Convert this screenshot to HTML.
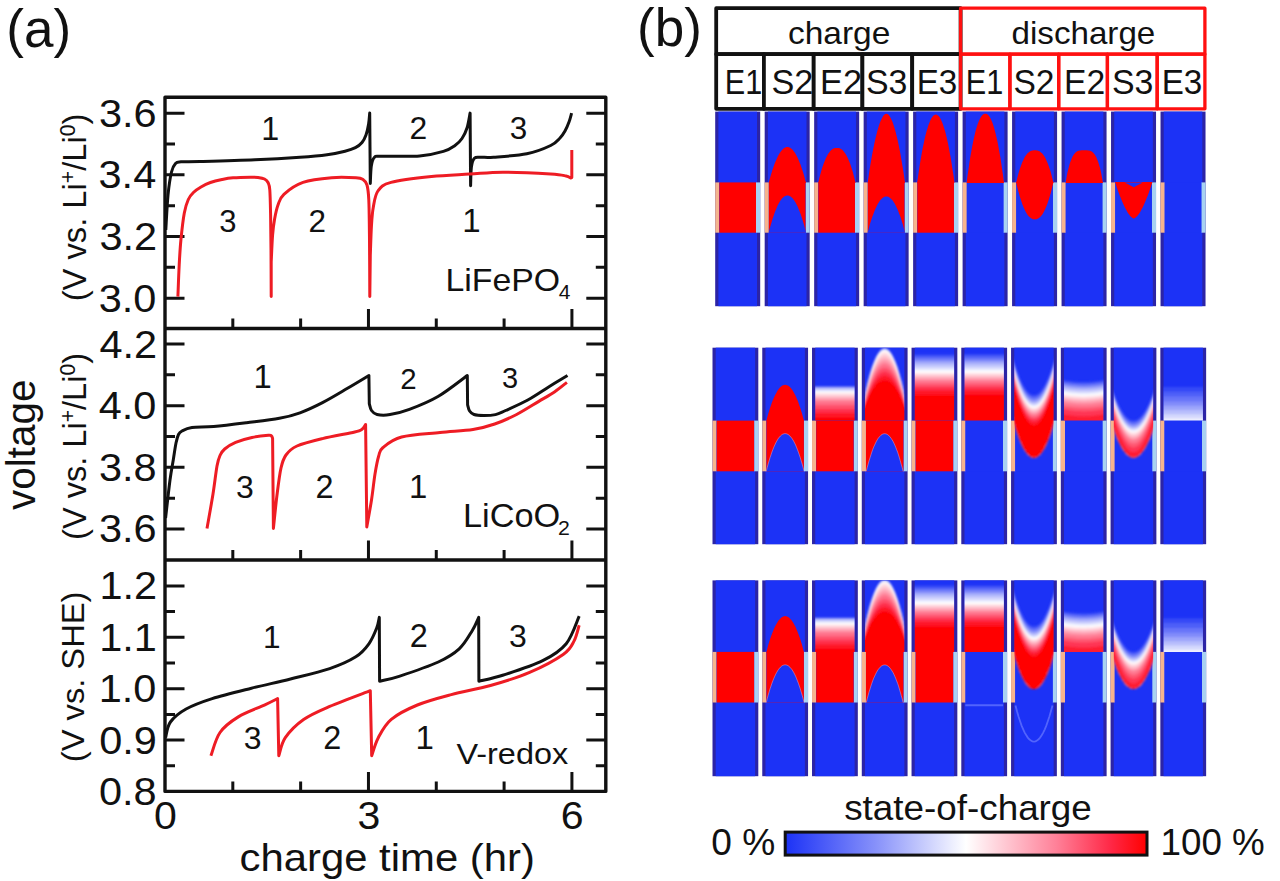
<!DOCTYPE html><html><head><meta charset="utf-8"><style>html,body{margin:0;padding:0;background:#fff;overflow:hidden}svg{display:block}text{font-family:"Liberation Sans",sans-serif}</style></head><body>
<svg width="1280" height="881" viewBox="0 0 1280 881">
<rect width="1280" height="881" fill="#fff"/>
<text transform="translate(6.31 47.15) scale(0.99 1)" font-size="53.58" fill="#111" >(a)</text>
<rect x="165" y="97.2" width="440.8" height="694.2" fill="none" stroke="#111" stroke-width="3.4" stroke-linejoin="round"/>
<line x1="165" y1="328.5" x2="605.8" y2="328.5" stroke="#111" stroke-width="3.4"/>
<line x1="165" y1="560" x2="605.8" y2="560" stroke="#111" stroke-width="3.4"/>
<path d="M165 113.2L184.5 113.2M605.8 113.2L586.3 113.2M165 174.86L184.5 174.86M605.8 174.86L586.3 174.86M165 236.52L184.5 236.52M605.8 236.52L586.3 236.52M165 298.18L184.5 298.18M605.8 298.18L586.3 298.18M165 144.03L175 144.03M605.8 144.03L595.8 144.03M165 205.69L175 205.69M605.8 205.69L595.8 205.69M165 267.35L175 267.35M605.8 267.35L595.8 267.35M165 344L184.5 344M605.8 344L586.3 344M165 405.66L184.5 405.66M605.8 405.66L586.3 405.66M165 467.32L184.5 467.32M605.8 467.32L586.3 467.32M165 528.98L184.5 528.98M605.8 528.98L586.3 528.98M165 374.83L175 374.83M605.8 374.83L595.8 374.83M165 436.49L175 436.49M605.8 436.49L595.8 436.49M165 498.15L175 498.15M605.8 498.15L595.8 498.15M165 585.9L184.5 585.9M605.8 585.9L586.3 585.9M165 637.3L184.5 637.3M605.8 637.3L586.3 637.3M165 688.7L184.5 688.7M605.8 688.7L586.3 688.7M165 740.1L184.5 740.1M605.8 740.1L586.3 740.1M165 611.6L175 611.6M605.8 611.6L595.8 611.6M165 663L175 663M605.8 663L595.8 663M165 714.4L175 714.4M605.8 714.4L595.8 714.4M165 765.8L175 765.8M605.8 765.8L595.8 765.8M368.46 328.5L368.46 309M571.92 328.5L571.92 309M232.82 328.5L232.82 318.5M300.64 328.5L300.64 318.5M436.28 328.5L436.28 318.5M504.1 328.5L504.1 318.5M368.46 560L368.46 540.5M571.92 560L571.92 540.5M232.82 560L232.82 550M300.64 560L300.64 550M436.28 560L436.28 550M504.1 560L504.1 550M368.46 791.4L368.46 771.9M571.92 791.4L571.92 771.9M232.82 791.4L232.82 781.4M300.64 791.4L300.64 781.4M436.28 791.4L436.28 781.4M504.1 791.4L504.1 781.4" stroke="#111" stroke-width="3" fill="none"/>
<text transform="translate(98.97 126.71) scale(1.06 1)" font-size="39.15" fill="#111">3.6</text>
<text transform="translate(98.55 188.37) scale(1.06 1)" font-size="39.15" fill="#111">3.4</text>
<text transform="translate(99.38 250.03) scale(1.06 1)" font-size="39.15" fill="#111">3.2</text>
<text transform="translate(98.76 311.69) scale(1.06 1)" font-size="39.15" fill="#111">3.0</text>
<text transform="translate(99.38 357.51) scale(1.06 1)" font-size="39.15" fill="#111">4.2</text>
<text transform="translate(98.76 419.17) scale(1.06 1)" font-size="39.15" fill="#111">4.0</text>
<text transform="translate(98.97 480.83) scale(1.06 1)" font-size="39.15" fill="#111">3.8</text>
<text transform="translate(98.97 542.49) scale(1.06 1)" font-size="39.15" fill="#111">3.6</text>
<text transform="translate(99.38 599.41) scale(1.06 1)" font-size="39.15" fill="#111">1.2</text>
<text transform="translate(99.18 650.81) scale(1.06 1)" font-size="39.15" fill="#111">1.1</text>
<text transform="translate(98.76 702.21) scale(1.06 1)" font-size="39.15" fill="#111">1.0</text>
<text transform="translate(99.18 753.61) scale(1.06 1)" font-size="39.15" fill="#111">0.9</text>
<text transform="translate(98.97 805.01) scale(1.06 1)" font-size="39.15" fill="#111">0.8</text>
<text transform="translate(153.96 829.3) scale(1.08 1)" font-size="38" fill="#111">0</text>
<text transform="translate(357.52 829.3) scale(1.08 1)" font-size="38" fill="#111">3</text>
<text transform="translate(560.77 829.3) scale(1.08 1)" font-size="38" fill="#111">6</text>
<text transform="translate(239.53 870.94) scale(1.09 1)" font-size="38.4" fill="#111" >charge time (hr)</text>
<text transform="translate(35.02 509.9) rotate(-90) scale(0.99 1)" font-size="40.86" fill="#111">voltage</text>
<text transform="translate(85.6 301.3) rotate(-90)" font-size="34" fill="#111" textLength="187.7" lengthAdjust="spacingAndGlyphs">(V vs. Li<tspan font-size="22" dy="-11">+</tspan><tspan dy="11">/Li</tspan><tspan font-size="22" dy="-11">0</tspan><tspan dy="11">)</tspan></text>
<text transform="translate(85.6 539.9) rotate(-90)" font-size="34" fill="#111" textLength="186.9" lengthAdjust="spacingAndGlyphs">(V vs. Li<tspan font-size="22" dy="-11">+</tspan><tspan dy="11">/Li</tspan><tspan font-size="22" dy="-11">0</tspan><tspan dy="11">)</tspan></text>
<text transform="translate(84.46 762.17) rotate(-90) scale(1.05 1)" font-size="31.12" fill="#111">(V vs. SHE)</text>
<text transform="translate(261.35 140.4) scale(1 1)" font-size="32.32" fill="#111">1</text>
<text transform="translate(409.56 139.4) scale(1 1)" font-size="31.86" fill="#111">2</text>
<text transform="translate(509.78 139.09) scale(1 1)" font-size="31.41" fill="#111">3</text>
<text transform="translate(219.3 231.59) scale(1 1)" font-size="30.99" fill="#111">3</text>
<text transform="translate(308.58 231.9) scale(1 1)" font-size="31.43" fill="#111">2</text>
<text transform="translate(462.33 231.9) scale(1 1)" font-size="33.04" fill="#111">1</text>
<text transform="translate(253.52 388.3) scale(1 1)" font-size="32.75" fill="#111">1</text>
<text transform="translate(400.13 388.7) scale(1 1)" font-size="29.43" fill="#111">2</text>
<text transform="translate(501.95 388.41) scale(1 1)" font-size="29.01" fill="#111">3</text>
<text transform="translate(236.03 497.68) scale(1 1)" font-size="31.97" fill="#111">3</text>
<text transform="translate(315.5 498) scale(1 1)" font-size="32.43" fill="#111">2</text>
<text transform="translate(409.08 498) scale(1 1)" font-size="32.9" fill="#111">1</text>
<text transform="translate(263.06 647.5) scale(1 1)" font-size="31.59" fill="#111">1</text>
<text transform="translate(409.7 647) scale(1 1)" font-size="32.43" fill="#111">2</text>
<text transform="translate(509.03 646.68) scale(1 1)" font-size="31.97" fill="#111">3</text>
<text transform="translate(243.83 748.58) scale(1 1)" font-size="31.97" fill="#111">3</text>
<text transform="translate(323.3 748.9) scale(1 1)" font-size="32.43" fill="#111">2</text>
<text transform="translate(415.53 748.9) scale(1 1)" font-size="33.04" fill="#111">1</text>
<text transform="translate(445.49 290.7) scale(1.08 1)" font-size="31.31" fill="#111">LiFePO</text>
<text transform="translate(558.69 299) scale(1.08 1)" font-size="19.41" fill="#111">4</text>
<text transform="translate(462.96 527) scale(1.06 1)" font-size="32.41" fill="#111">LiCoO</text>
<text transform="translate(558.08 534.9) scale(1.06 1)" font-size="20.1" fill="#111">2</text>
<text transform="translate(456.44 763.5) scale(1.13 1)" font-size="28.69" fill="#111">V-redox</text>
<path d="M165.8 230C166.17 224.17 167.05 204.67 168 195C168.95 185.33 170.25 177.25 171.5 172C172.75 166.75 173.92 165.2 175.5 163.5C177.08 161.8 176.92 162.13 181 161.8C185.08 161.47 187.67 161.83 200 161.5C212.33 161.17 238.33 160.5 255 159.8C271.67 159.1 288 158.13 300 157.3C312 156.47 319.5 155.82 327 154.8C334.5 153.78 340.27 152.38 345 151.2C349.73 150.02 352.57 149.15 355.4 147.7C358.23 146.25 360.23 144.62 362 142.5C363.77 140.38 364.9 138.08 366 135C367.1 131.92 367.98 127.65 368.6 124C369.22 120.35 369.52 114.92 369.7 113.1L370.3 183.4C370.47 180.5 370.63 170.32 371.3 166C371.97 161.68 372.68 159.13 374.3 157.5C375.92 155.87 373.45 156.45 381 156.2C388.55 155.95 409.2 156.8 419.6 156C430 155.2 437.5 153.15 443.4 151.4C449.3 149.65 451.9 147.65 455 145.5C458.1 143.35 460 141.42 462 138.5C464 135.58 465.65 132.23 467 128C468.35 123.77 469.58 115.58 470.1 113.1L470.6 185.8C470.73 182.67 470.77 171.6 471.4 167C472.03 162.4 472.8 159.82 474.4 158.2C476 156.58 477.82 157.47 481 157.3C484.18 157.13 485.87 157.78 493.5 157.2C501.13 156.62 517.27 155.75 526.8 153.8C536.33 151.85 545.17 148.13 550.7 145.5C556.23 142.87 557.62 140.42 560 138C562.38 135.58 563.5 133.67 565 131C566.5 128.33 567.9 124.98 569 122C570.1 119.02 571.17 114.58 571.6 113.1" stroke="#111" stroke-width="3" fill="none" stroke-linejoin="round" stroke-linecap="butt"/>
<path d="M177.9 296.6C178.12 291.33 178.7 274.43 179.2 265C179.7 255.57 180.05 248.67 180.9 240C181.75 231.33 183.07 219.75 184.3 213C185.53 206.25 186.78 202.92 188.3 199.5C189.82 196.08 191.28 194.58 193.4 192.5C195.52 190.42 198.17 188.67 201 187C203.83 185.33 206.9 183.75 210.4 182.5C213.9 181.25 218.22 180.28 222 179.5C225.78 178.72 228.33 178.18 233.1 177.8C237.87 177.42 246.45 177.25 250.6 177.2C254.75 177.15 255.68 177.2 258 177.5C260.32 177.8 262.83 178.17 264.5 179C266.17 179.83 267.12 180.67 268 182.5C268.88 184.33 269.37 184.58 269.8 190C270.23 195.42 270.4 205 270.6 215C270.8 225 270.9 236.4 271 250C271.1 263.6 271.17 288.83 271.2 296.6L271.2 262C271.43 257.5 272.03 242.17 272.6 235C273.17 227.83 273.7 224 274.6 219C275.5 214 276.45 209.12 278 205C279.55 200.88 279.73 198.07 283.9 194.3C288.07 190.53 295.05 185.17 303 182.4C310.95 179.63 322.77 178.47 331.6 177.7C340.43 176.93 350.77 177.5 356 177.8C361.23 178.1 361.17 178.3 363 179.5C364.83 180.7 366.03 181.58 367 185C367.97 188.42 368.38 190.83 368.8 200C369.22 209.17 369.33 223.9 369.5 240C369.67 256.1 369.75 287.17 369.8 296.6L370.3 255C370.5 250 371 232.97 371.5 225C372 217.03 372.23 212.87 373.3 207.2C374.37 201.53 374.95 195.13 377.9 191C380.85 186.87 382.07 184.82 391 182.4C399.93 179.98 418.4 177.88 431.5 176.5C444.6 175.12 457.68 174.82 469.6 174.1C481.52 173.38 489.48 172.22 503 172.2C516.52 172.18 540.2 173.37 550.7 174C561.2 174.63 562.7 175.33 566 176C569.3 176.67 569.75 177.67 570.5 178L571.8 177.5L571.8 150" stroke="#ee1c24" stroke-width="3" fill="none" stroke-linejoin="round" stroke-linecap="butt"/>
<path d="M165.6 518C166.33 511.67 168.72 489.72 170 480C171.28 470.28 172.3 465.87 173.3 459.7C174.3 453.53 175.13 447.2 176 443C176.87 438.8 177.5 436.5 178.5 434.5C179.5 432.5 179.77 432.15 182 431C184.23 429.85 186.62 428.35 191.9 427.6C197.18 426.85 204.58 427.32 213.7 426.5C222.82 425.68 235.65 424.07 246.6 422.7C257.55 421.33 270.5 419.95 279.4 418.3C288.3 416.65 292.82 415.42 300 412.8C307.18 410.18 314.58 406.68 322.5 402.6C330.42 398.52 339.77 392.82 347.5 388.3C355.23 383.78 365.33 377.63 368.9 375.5L369.3 403.7C369.67 404.83 370.22 408.7 371.5 410.5C372.78 412.3 373.92 413.82 377 414.5C380.08 415.18 384.6 415.45 390 414.6C395.4 413.75 401.4 412.42 409.4 409.4C417.4 406.38 428.35 402.15 438 396.5C447.65 390.85 462.42 379 467.3 375.5L467.6 404.8C467.93 405.83 468.53 409.38 469.6 411C470.67 412.62 471.65 413.73 474 414.5C476.35 415.27 480.12 415.58 483.7 415.6C487.28 415.62 491.85 415.45 495.5 414.6C499.15 413.75 500.22 412.93 505.6 410.5C510.98 408.07 520.5 404 527.8 400C535.1 396 542.78 390.58 549.4 386.5C556.02 382.42 564.48 377.33 567.5 375.5" stroke="#111" stroke-width="3" fill="none" stroke-linejoin="round" stroke-linecap="butt"/>
<path d="M207 528.4C208 522.67 211.33 504.4 213 494C214.67 483.6 215.83 472.42 217 466C218.17 459.58 218.72 458.33 220 455.5C221.28 452.67 222.1 451.18 224.7 449C227.3 446.82 231.05 444.32 235.6 442.4C240.15 440.48 246.53 438.68 252 437.5C257.47 436.32 265.15 435.55 268.4 435.3C271.65 435.05 270.8 435.47 271.5 436C272.2 436.53 272.42 438.08 272.6 438.5L273.4 528.4C274 522.83 275.73 505.07 277 495C278.27 484.93 279.5 474.67 281 468C282.5 461.33 283.33 458.67 286 455C288.67 451.33 290.92 448.73 297 446C303.08 443.27 312.88 440.93 322.5 438.6C332.12 436.27 348.12 433.55 354.7 432C361.28 430.45 360.18 430.55 362 429.3C363.82 428.05 365 425.3 365.6 424.5L366.8 527C367.58 522.5 370.13 508.83 371.5 500C372.87 491.17 373.8 481.33 375 474C376.2 466.67 377.37 460.42 378.7 456C380.03 451.58 379.18 450.67 383 447.5C386.82 444.33 392.1 439.5 401.6 437C411.1 434.5 428.1 433.75 440 432.5C451.9 431.25 463.88 430.92 473 429.5C482.12 428.08 487.43 426.5 494.7 424C501.97 421.5 509.32 418.23 516.6 414.5C523.88 410.77 532.03 405.4 538.4 401.6C544.77 397.8 550.05 394.9 554.8 391.7C559.55 388.5 564.88 383.95 566.9 382.4" stroke="#ee1c24" stroke-width="3" fill="none" stroke-linejoin="round" stroke-linecap="butt"/>
<path d="M165.6 737.5C166.4 734.92 166.98 726.75 170.4 722C173.82 717.25 179.13 712.9 186.1 709C193.07 705.1 201.32 702.07 212.2 698.6C223.08 695.13 238.35 691.47 251.4 688.2C264.45 684.93 277.45 682.27 290.5 679C303.55 675.73 318.82 672.3 329.7 668.6C340.58 664.9 349.27 660.93 355.8 656.8C362.33 652.67 365.42 648.6 368.9 643.8C372.38 639 374.97 632.4 376.7 628C378.43 623.6 378.87 619.17 379.3 617.4L379.6 681.3C382.85 680.47 389.32 679.52 399.1 676.3C408.88 673.08 428.28 666.57 438.3 662C448.32 657.43 453.55 654.12 459.2 648.9C464.85 643.68 468.95 635.95 472.2 630.7C475.45 625.45 477.62 619.62 478.7 617.4L478.9 681.3C483 680.25 492.87 678.43 503.5 675C514.13 671.57 532.25 665.92 542.7 660.7C553.15 655.48 560.12 651.13 566.2 643.7C572.28 636.27 577.03 620.7 579.2 616.1" stroke="#111" stroke-width="3" fill="none" stroke-linejoin="round" stroke-linecap="butt"/>
<path d="M210.9 755.8C212.42 751.92 215.43 738.98 220 732.5C224.57 726.02 230.9 721.47 238.3 716.9C245.7 712.33 257.85 708.15 264.4 705.1C270.95 702.05 275.4 699.68 277.6 698.6L278.8 755.8C279.88 752.78 281.17 743.75 285.3 737.7C289.43 731.65 296.2 724.72 303.6 719.5C311 714.28 318.58 711.2 329.7 706.4C340.82 701.6 363.53 693.32 370.3 690.7L371.7 755.7C372.8 752.7 375.03 743.75 378.3 737.7C381.57 731.65 384.78 724.85 391.3 719.4C397.82 713.95 407.4 709.13 417.4 705C427.4 700.87 439.12 697.85 451.3 694.6C463.48 691.35 477.45 689.2 490.5 685.5C503.55 681.8 517.43 677.62 529.6 672.4C541.77 667.18 556.1 659.42 563.5 654.2C570.9 648.98 571.38 645.93 574 641.1C576.62 636.27 578.33 627.85 579.2 625.2" stroke="#ee1c24" stroke-width="3" fill="none" stroke-linejoin="round" stroke-linecap="butt"/>
<text transform="translate(637.11 45.95) scale(0.99 1)" font-size="53.58" fill="#111" >(b)</text>
<rect x="715.2" y="111.6" width="45" height="194.6" fill="#2c24a6"/>
<rect x="718.4" y="111.6" width="38.6" height="194.6" fill="#1c32f6"/>
<rect x="715.2" y="182.4" width="4.2" height="50.3" fill="#f5b48e"/>
<rect x="756" y="182.4" width="4.2" height="50.3" fill="#a8d2f2"/>
<rect x="719.4" y="182.4" width="36.6" height="50.3" fill="#1c32f6"/>
<rect x="719.4" y="182.4" width="36.6" height="50.3" fill="#ff0000"/>
<rect x="764.68" y="111.6" width="45" height="194.6" fill="#2c24a6"/>
<rect x="767.88" y="111.6" width="38.6" height="194.6" fill="#1c32f6"/>
<rect x="764.68" y="182.4" width="4.2" height="50.3" fill="#f5b48e"/>
<rect x="805.48" y="182.4" width="4.2" height="50.3" fill="#a8d2f2"/>
<rect x="768.88" y="182.4" width="36.6" height="50.3" fill="#1c32f6"/>
<path d="M768.7 182.9L769.6 179.4L770.6 176.1L771.5 172.9L772.4 170.0L773.4 167.2L774.3 164.6L775.2 162.2L776.2 159.9L777.1 157.9L778.0 156.0L779.0 154.3L779.9 152.7L780.8 151.4L781.8 150.2L782.7 149.2L783.6 148.4L784.6 147.8L785.5 147.4L786.4 147.1L787.4 147.0L788.3 147.1L789.3 147.4L790.2 147.8L791.1 148.4L792.1 149.2L793.0 150.2L793.9 151.4L794.9 152.7L795.8 154.3L796.7 156.0L797.7 157.9L798.6 159.9L799.5 162.2L800.5 164.6L801.4 167.2L802.3 170.0L803.3 172.9L804.2 176.1L805.1 179.4L806.1 182.9Z" fill="#ff0000"/>
<rect x="768.88" y="182.4" width="36.6" height="50.3" fill="#ff0000"/>
<path d="M768.7 232.7L769.6 229.1L770.6 225.6L771.5 222.4L772.4 219.3L773.4 216.4L774.3 213.7L775.2 211.2L776.2 208.9L777.1 206.8L778.0 204.8L779.0 203.0L779.9 201.5L780.8 200.1L781.8 198.8L782.7 197.8L783.6 197.0L784.6 196.3L785.5 195.9L786.4 195.6L787.4 195.5L788.3 195.6L789.3 195.9L790.2 196.3L791.1 197.0L792.1 197.8L793.0 198.8L793.9 200.1L794.9 201.5L795.8 203.0L796.7 204.8L797.7 206.8L798.6 208.9L799.5 211.2L800.5 213.7L801.4 216.4L802.3 219.3L803.3 222.4L804.2 225.6L805.1 229.1L806.1 232.7Z" fill="#1c32f6"/>
<rect x="814.16" y="111.6" width="45" height="194.6" fill="#2c24a6"/>
<rect x="817.36" y="111.6" width="38.6" height="194.6" fill="#1c32f6"/>
<rect x="814.16" y="182.4" width="4.2" height="50.3" fill="#f5b48e"/>
<rect x="854.96" y="182.4" width="4.2" height="50.3" fill="#a8d2f2"/>
<rect x="818.36" y="182.4" width="36.6" height="50.3" fill="#1c32f6"/>
<path d="M818.2 182.9L819.1 179.0L820.0 175.4L821.0 172.0L821.9 168.8L822.8 166.0L823.8 163.3L824.7 160.9L825.6 158.7L826.6 156.7L827.5 155.0L828.4 153.5L829.4 152.2L830.3 151.0L831.3 150.1L832.2 149.3L833.1 148.8L834.1 148.3L835.0 148.1L835.9 147.9L836.9 147.9L837.8 147.9L838.7 148.1L839.7 148.3L840.6 148.8L841.5 149.3L842.5 150.1L843.4 151.0L844.3 152.2L845.3 153.5L846.2 155.0L847.1 156.7L848.1 158.7L849.0 160.9L850.0 163.3L850.9 166.0L851.8 168.8L852.8 172.0L853.7 175.4L854.6 179.0L855.6 182.9Z" fill="#ff0000"/>
<rect x="818.36" y="182.4" width="36.6" height="50.3" fill="#ff0000"/>
<rect x="863.64" y="111.6" width="45" height="194.6" fill="#2c24a6"/>
<rect x="866.84" y="111.6" width="38.6" height="194.6" fill="#1c32f6"/>
<rect x="863.64" y="182.4" width="4.2" height="50.3" fill="#f5b48e"/>
<rect x="904.44" y="182.4" width="4.2" height="50.3" fill="#a8d2f2"/>
<rect x="867.84" y="182.4" width="36.6" height="50.3" fill="#1c32f6"/>
<path d="M867.6 182.9L868.6 176.5L869.5 170.3L870.4 164.5L871.4 159.0L872.3 153.8L873.3 148.8L874.2 144.2L875.1 139.9L876.1 135.9L877.0 132.2L877.9 128.9L878.9 125.8L879.8 123.1L880.7 120.7L881.7 118.7L882.6 117.0L883.5 115.6L884.5 114.6L885.4 113.9L886.3 113.7L887.3 113.9L888.2 114.6L889.1 115.6L890.1 117.0L891.0 118.7L892.0 120.7L892.9 123.1L893.8 125.8L894.8 128.9L895.7 132.2L896.6 135.9L897.6 139.9L898.5 144.2L899.4 148.8L900.4 153.8L901.3 159.0L902.2 164.5L903.2 170.3L904.1 176.5L905.0 182.9Z" fill="#ff0000"/>
<rect x="867.84" y="182.4" width="36.6" height="50.3" fill="#ff0000"/>
<path d="M867.6 232.7L868.6 229.2L869.5 225.8L870.4 222.6L871.4 219.6L872.3 216.8L873.3 214.2L874.2 211.7L875.1 209.5L876.1 207.4L877.0 205.5L877.9 203.8L878.9 202.2L879.8 200.8L880.7 199.7L881.7 198.7L882.6 197.9L883.5 197.2L884.5 196.8L885.4 196.5L886.3 196.4L887.3 196.5L888.2 196.8L889.1 197.2L890.1 197.9L891.0 198.7L892.0 199.7L892.9 200.8L893.8 202.2L894.8 203.8L895.7 205.5L896.6 207.4L897.6 209.5L898.5 211.7L899.4 214.2L900.4 216.8L901.3 219.6L902.2 222.6L903.2 225.8L904.1 229.2L905.0 232.7Z" fill="#1c32f6"/>
<rect x="913.12" y="111.6" width="45" height="194.6" fill="#2c24a6"/>
<rect x="916.32" y="111.6" width="38.6" height="194.6" fill="#1c32f6"/>
<rect x="913.12" y="182.4" width="4.2" height="50.3" fill="#f5b48e"/>
<rect x="953.92" y="182.4" width="4.2" height="50.3" fill="#a8d2f2"/>
<rect x="917.32" y="182.4" width="36.6" height="50.3" fill="#1c32f6"/>
<path d="M917.1 182.9L918.1 176.2L919.0 169.9L919.9 163.9L920.9 158.3L921.8 153.0L922.7 148.0L923.7 143.4L924.6 139.1L925.5 135.2L926.5 131.6L927.4 128.4L928.3 125.4L929.3 122.9L930.2 120.7L931.1 118.8L932.1 117.2L933.0 116.0L933.9 115.2L934.9 114.7L935.8 114.5L936.8 114.7L937.7 115.2L938.6 116.0L939.6 117.2L940.5 118.8L941.4 120.7L942.4 122.9L943.3 125.4L944.2 128.4L945.2 131.6L946.1 135.2L947.0 139.1L948.0 143.4L948.9 148.0L949.8 153.0L950.8 158.3L951.7 163.9L952.6 169.9L953.6 176.2L954.5 182.9Z" fill="#ff0000"/>
<rect x="917.32" y="182.4" width="36.6" height="50.3" fill="#ff0000"/>
<rect x="962.6" y="111.6" width="45" height="194.6" fill="#2c24a6"/>
<rect x="965.8" y="111.6" width="38.6" height="194.6" fill="#1c32f6"/>
<rect x="962.6" y="182.4" width="4.2" height="50.3" fill="#f5b48e"/>
<rect x="1003.4" y="182.4" width="4.2" height="50.3" fill="#a8d2f2"/>
<rect x="966.8" y="182.4" width="36.6" height="50.3" fill="#1c32f6"/>
<path d="M966.6 182.9L967.5 175.8L968.5 169.2L969.4 162.9L970.3 157.0L971.3 151.5L972.2 146.4L973.1 141.7L974.1 137.4L975.0 133.4L975.9 129.8L976.9 126.6L977.8 123.8L978.8 121.3L979.7 119.2L980.6 117.5L981.6 116.1L982.5 115.0L983.4 114.2L984.4 113.8L985.3 113.7L986.2 113.8L987.2 114.2L988.1 115.0L989.0 116.1L990.0 117.5L990.9 119.2L991.8 121.3L992.8 123.8L993.7 126.6L994.6 129.8L995.6 133.4L996.5 137.4L997.5 141.7L998.4 146.4L999.3 151.5L1000.3 157.0L1001.2 162.9L1002.1 169.2L1003.1 175.8L1004.0 182.9Z" fill="#ff0000"/>
<rect x="1012.08" y="111.6" width="45" height="194.6" fill="#2c24a6"/>
<rect x="1015.28" y="111.6" width="38.6" height="194.6" fill="#1c32f6"/>
<rect x="1012.08" y="182.4" width="4.2" height="50.3" fill="#f5b48e"/>
<rect x="1052.88" y="182.4" width="4.2" height="50.3" fill="#a8d2f2"/>
<rect x="1016.28" y="182.4" width="36.6" height="50.3" fill="#1c32f6"/>
<path d="M1016.1 182.9L1017.0 179.0L1017.9 175.4L1018.9 172.0L1019.8 169.0L1020.8 166.2L1021.7 163.7L1022.6 161.4L1023.6 159.4L1024.5 157.6L1025.4 156.1L1026.4 154.7L1027.3 153.6L1028.2 152.7L1029.2 151.9L1030.1 151.3L1031.0 150.9L1032.0 150.6L1032.9 150.4L1033.8 150.3L1034.8 150.3L1035.7 150.3L1036.6 150.4L1037.6 150.6L1038.5 150.9L1039.5 151.3L1040.4 151.9L1041.3 152.7L1042.3 153.6L1043.2 154.7L1044.1 156.1L1045.1 157.6L1046.0 159.4L1046.9 161.4L1047.9 163.7L1048.8 166.2L1049.7 169.0L1050.7 172.0L1051.6 175.4L1052.5 179.0L1053.5 182.9Z" fill="#ff0000"/>
<path d="M1016.1 181.9L1017.0 185.9L1017.9 189.7L1018.9 193.2L1019.8 196.4L1020.8 199.5L1021.7 202.3L1022.6 204.9L1023.6 207.2L1024.5 209.3L1025.4 211.2L1026.4 212.9L1027.3 214.4L1028.2 215.7L1029.2 216.7L1030.1 217.6L1031.0 218.3L1032.0 218.8L1032.9 219.2L1033.8 219.3L1034.8 219.4L1035.7 219.3L1036.6 219.2L1037.6 218.8L1038.5 218.3L1039.5 217.6L1040.4 216.7L1041.3 215.7L1042.3 214.4L1043.2 212.9L1044.1 211.2L1045.1 209.3L1046.0 207.2L1046.9 204.9L1047.9 202.3L1048.8 199.5L1049.7 196.4L1050.7 193.2L1051.6 189.7L1052.5 185.9L1053.5 181.9Z" fill="#ff0000"/>
<rect x="1061.56" y="111.6" width="45" height="194.6" fill="#2c24a6"/>
<rect x="1064.76" y="111.6" width="38.6" height="194.6" fill="#1c32f6"/>
<rect x="1061.56" y="182.4" width="4.2" height="50.3" fill="#f5b48e"/>
<rect x="1102.36" y="182.4" width="4.2" height="50.3" fill="#a8d2f2"/>
<rect x="1065.76" y="182.4" width="36.6" height="50.3" fill="#1c32f6"/>
<path d="M1065.6 182.9L1066.5 177.5L1067.4 172.8L1068.4 168.8L1069.3 165.2L1070.2 162.2L1071.2 159.7L1072.1 157.5L1073.0 155.8L1074.0 154.3L1074.9 153.2L1075.8 152.3L1076.8 151.6L1077.7 151.1L1078.6 150.8L1079.6 150.6L1080.5 150.4L1081.5 150.3L1082.4 150.3L1083.3 150.3L1084.3 150.3L1085.2 150.3L1086.1 150.3L1087.1 150.3L1088.0 150.4L1088.9 150.6L1089.9 150.8L1090.8 151.1L1091.7 151.6L1092.7 152.3L1093.6 153.2L1094.5 154.3L1095.5 155.8L1096.4 157.5L1097.3 159.7L1098.3 162.2L1099.2 165.2L1100.2 168.8L1101.1 172.8L1102.0 177.5L1103.0 182.9Z" fill="#ff0000"/>
<rect x="1111.04" y="111.6" width="45" height="194.6" fill="#2c24a6"/>
<rect x="1114.24" y="111.6" width="38.6" height="194.6" fill="#1c32f6"/>
<rect x="1111.04" y="182.4" width="4.2" height="50.3" fill="#f5b48e"/>
<rect x="1151.84" y="182.4" width="4.2" height="50.3" fill="#a8d2f2"/>
<rect x="1115.24" y="182.4" width="36.6" height="50.3" fill="#1c32f6"/>
<path d="M1115.0 181.9L1116.0 184.8L1116.9 187.6L1117.8 190.3L1118.8 192.9L1119.7 195.4L1120.7 197.8L1121.6 200.1L1122.5 202.3L1123.5 204.4L1124.4 206.4L1125.3 208.3L1126.3 210.1L1127.2 211.7L1128.1 213.2L1129.1 214.5L1130.0 215.7L1130.9 216.7L1131.9 217.6L1132.8 218.2L1133.7 218.5L1134.7 218.2L1135.6 217.6L1136.5 216.7L1137.5 215.7L1138.4 214.5L1139.4 213.2L1140.3 211.7L1141.2 210.1L1142.2 208.3L1143.1 206.4L1144.0 204.4L1145.0 202.3L1145.9 200.1L1146.8 197.8L1147.8 195.4L1148.7 192.9L1149.6 190.3L1150.6 187.6L1151.5 184.8L1152.4 181.9Z" fill="#ff0000"/>
<path d="M1124.7 182.4L1133.7 187.2L1142.7 182.4Z" fill="#1c32f6"/>
<rect x="1160.52" y="111.6" width="45" height="194.6" fill="#2c24a6"/>
<rect x="1163.72" y="111.6" width="38.6" height="194.6" fill="#1c32f6"/>
<rect x="1160.52" y="182.4" width="4.2" height="50.3" fill="#f5b48e"/>
<rect x="1201.32" y="182.4" width="4.2" height="50.3" fill="#a8d2f2"/>
<rect x="1164.72" y="182.4" width="36.6" height="50.3" fill="#1c32f6"/>
<rect x="712.5" y="347.7" width="45.8" height="196.5" fill="#2c24a6"/>
<rect x="715.7" y="347.7" width="39.4" height="196.5" fill="#1c32f6"/>
<rect x="712.5" y="420.6" width="4.2" height="50.7" fill="#f5b48e"/>
<rect x="754.1" y="420.6" width="4.2" height="50.7" fill="#a8d2f2"/>
<rect x="716.7" y="420.6" width="37.4" height="50.7" fill="#1c32f6"/>
<rect x="716.7" y="420.6" width="37.4" height="50.7" fill="#ff0000"/>
<rect x="762.26" y="347.7" width="45.8" height="196.5" fill="#2c24a6"/>
<rect x="765.46" y="347.7" width="39.4" height="196.5" fill="#1c32f6"/>
<rect x="762.26" y="420.6" width="4.2" height="50.7" fill="#f5b48e"/>
<rect x="803.86" y="420.6" width="4.2" height="50.7" fill="#a8d2f2"/>
<rect x="766.46" y="420.6" width="37.4" height="50.7" fill="#1c32f6"/>
<path d="M766.3 421.1L767.2 417.6L768.1 414.2L769.1 411.0L770.0 408.0L771.0 405.2L771.9 402.6L772.9 400.1L773.8 397.9L774.8 395.8L775.7 393.9L776.7 392.2L777.6 390.6L778.5 389.2L779.5 388.1L780.4 387.1L781.4 386.3L782.3 385.6L783.3 385.2L784.2 384.9L785.2 384.8L786.1 384.9L787.0 385.2L788.0 385.6L788.9 386.3L789.9 387.1L790.8 388.1L791.8 389.2L792.7 390.6L793.7 392.2L794.6 393.9L795.6 395.8L796.5 397.9L797.4 400.1L798.4 402.6L799.3 405.2L800.3 408.0L801.2 411.0L802.2 414.2L803.1 417.6L804.1 421.1Z" fill="#ff0000"/>
<rect x="766.46" y="420.6" width="37.4" height="50.7" fill="#ff0000"/>
<path d="M766.3 471.3L767.2 467.6L768.1 464.1L769.1 460.8L770.0 457.7L771.0 454.8L771.9 452.1L772.9 449.5L773.8 447.2L774.8 445.0L775.7 443.0L776.7 441.2L777.6 439.6L778.5 438.2L779.5 437.0L780.4 436.0L781.4 435.1L782.3 434.4L783.3 434.0L784.2 433.7L785.2 433.6L786.1 433.7L787.0 434.0L788.0 434.4L788.9 435.1L789.9 436.0L790.8 437.0L791.8 438.2L792.7 439.6L793.7 441.2L794.6 443.0L795.6 445.0L796.5 447.2L797.4 449.5L798.4 452.1L799.3 454.8L800.3 457.7L801.2 460.8L802.2 464.1L803.1 467.6L804.1 471.3Z" fill="#1c32f6"/>
<path d="M766.3 471.3L767.2 467.6L768.1 464.1L769.1 460.8L770.0 457.7L771.0 454.8L771.9 452.1L772.9 449.5L773.8 447.2L774.8 445.0L775.7 443.0L776.7 441.2L777.6 439.6L778.5 438.2L779.5 437.0L780.4 436.0L781.4 435.1L782.3 434.4L783.3 434.0L784.2 433.7L785.2 433.6L786.1 433.7L787.0 434.0L788.0 434.4L788.9 435.1L789.9 436.0L790.8 437.0L791.8 438.2L792.7 439.6L793.7 441.2L794.6 443.0L795.6 445.0L796.5 447.2L797.4 449.5L798.4 452.1L799.3 454.8L800.3 457.7L801.2 460.8L802.2 464.1L803.1 467.6L804.1 471.3" fill="none" stroke="#f8c8d8" stroke-width="0.8" stroke-opacity="0.5"/>
<rect x="812.02" y="347.7" width="45.8" height="196.5" fill="#2c24a6"/>
<rect x="815.22" y="347.7" width="39.4" height="196.5" fill="#1c32f6"/>
<rect x="812.02" y="420.6" width="4.2" height="50.7" fill="#f5b48e"/>
<rect x="853.62" y="420.6" width="4.2" height="50.7" fill="#a8d2f2"/>
<rect x="816.22" y="420.6" width="37.4" height="50.7" fill="#1c32f6"/>
<g clip-path="url(#c1)"><g filter="url(#bl)"><path d="M812.2 386.1L857.6 386.1L857.6 424.6L812.2 424.6Z" fill="#3447f7"/><path d="M812.2 386.4L857.6 386.4L857.6 424.6L812.2 424.6Z" fill="#4c5cf8"/><path d="M812.2 386.7L857.6 386.7L857.6 424.6L812.2 424.6Z" fill="#6371f9"/><path d="M812.2 387.0L857.6 387.0L857.6 424.6L812.2 424.6Z" fill="#7b86fa"/><path d="M812.2 387.3L857.6 387.3L857.6 424.6L812.2 424.6Z" fill="#949dfb"/><path d="M812.2 387.7L857.6 387.7L857.6 424.6L812.2 424.6Z" fill="#afb6fc"/><path d="M812.2 389.0L857.6 389.0L857.6 424.6L812.2 424.6Z" fill="#cacefd"/><path d="M812.2 390.2L857.6 390.2L857.6 424.6L812.2 424.6Z" fill="#e4e7fe"/><path d="M812.2 391.5L857.6 391.5L857.6 424.6L812.2 424.6Z" fill="#ffffff"/><path d="M812.2 393.1L857.6 393.1L857.6 424.6L812.2 424.6Z" fill="#ffe3e8"/><path d="M812.2 395.2L857.6 395.2L857.6 424.6L812.2 424.6Z" fill="#ffc7d1"/><path d="M812.2 397.2L857.6 397.2L857.6 424.6L812.2 424.6Z" fill="#ffaaba"/><path d="M812.2 399.3L857.6 399.3L857.6 424.6L812.2 424.6Z" fill="#ff8ea3"/><path d="M812.2 401.3L857.6 401.3L857.6 424.6L812.2 424.6Z" fill="#ff7089"/><path d="M812.2 405.1L857.6 405.1L857.6 424.6L812.2 424.6Z" fill="#ff4f6a"/><path d="M812.2 408.9L857.6 408.9L857.6 424.6L812.2 424.6Z" fill="#ff2f4c"/><path d="M812.2 412.9L857.6 412.9L857.6 424.6L812.2 424.6Z" fill="#ff1627"/><path d="M812.2 417.4L857.6 417.4L857.6 424.6L812.2 424.6Z" fill="#ff0000"/></g></g>
<rect x="816.22" y="420.6" width="37.4" height="50.7" fill="#ff0000"/>
<rect x="861.78" y="347.7" width="45.8" height="196.5" fill="#2c24a6"/>
<rect x="864.98" y="347.7" width="39.4" height="196.5" fill="#1c32f6"/>
<rect x="861.78" y="420.6" width="4.2" height="50.7" fill="#f5b48e"/>
<rect x="903.38" y="420.6" width="4.2" height="50.7" fill="#a8d2f2"/>
<rect x="865.98" y="420.6" width="37.4" height="50.7" fill="#1c32f6"/>
<g clip-path="url(#c2)"><g filter="url(#bl)"><path d="M862.0 410.0L864.0 399.1L866.1 389.3L868.2 380.5L870.2 372.8L872.3 366.1L874.4 360.4L876.4 355.7L878.5 352.1L880.6 349.5L882.6 348.0L884.7 347.5L886.7 348.0L888.8 349.5L890.9 352.1L892.9 355.7L895.0 360.4L897.1 366.1L899.1 372.8L901.2 380.5L903.3 389.3L905.3 399.1L907.4 410.0L907.4 424.6L905.3 424.6L903.3 424.6L901.2 424.6L899.1 424.6L897.1 424.6L895.0 424.6L892.9 424.6L890.9 424.6L888.8 424.6L886.7 424.6L884.7 424.6L882.6 424.6L880.6 424.6L878.5 424.6L876.4 424.6L874.4 424.6L872.3 424.6L870.2 424.6L868.2 424.6L866.1 424.6L864.0 424.6L862.0 424.6Z" fill="#3447f7"/><path d="M862.0 410.0L864.0 399.2L866.1 389.5L868.2 380.7L870.2 373.0L872.3 366.3L874.4 360.7L876.4 356.0L878.5 352.4L880.6 349.9L882.6 348.3L884.7 347.8L886.7 348.3L888.8 349.9L890.9 352.4L892.9 356.0L895.0 360.7L897.1 366.3L899.1 373.0L901.2 380.7L903.3 389.5L905.3 399.2L907.4 410.0L907.4 424.6L905.3 424.6L903.3 424.6L901.2 424.6L899.1 424.6L897.1 424.6L895.0 424.6L892.9 424.6L890.9 424.6L888.8 424.6L886.7 424.6L884.7 424.6L882.6 424.6L880.6 424.6L878.5 424.6L876.4 424.6L874.4 424.6L872.3 424.6L870.2 424.6L868.2 424.6L866.1 424.6L864.0 424.6L862.0 424.6Z" fill="#4c5cf8"/><path d="M862.0 410.1L864.0 399.3L866.1 389.6L868.2 380.9L870.2 373.2L872.3 366.6L874.4 360.9L876.4 356.3L878.5 352.7L880.6 350.2L882.6 348.6L884.7 348.1L886.7 348.6L888.8 350.2L890.9 352.7L892.9 356.3L895.0 360.9L897.1 366.6L899.1 373.2L901.2 380.9L903.3 389.6L905.3 399.3L907.4 410.1L907.4 424.6L905.3 424.6L903.3 424.6L901.2 424.6L899.1 424.6L897.1 424.6L895.0 424.6L892.9 424.6L890.9 424.6L888.8 424.6L886.7 424.6L884.7 424.6L882.6 424.6L880.6 424.6L878.5 424.6L876.4 424.6L874.4 424.6L872.3 424.6L870.2 424.6L868.2 424.6L866.1 424.6L864.0 424.6L862.0 424.6Z" fill="#6371f9"/><path d="M862.0 410.1L864.0 399.4L866.1 389.7L868.2 381.1L870.2 373.4L872.3 366.8L874.4 361.2L876.4 356.6L878.5 353.1L880.6 350.5L882.6 349.0L884.7 348.5L886.7 349.0L888.8 350.5L890.9 353.1L892.9 356.6L895.0 361.2L897.1 366.8L899.1 373.4L901.2 381.1L903.3 389.7L905.3 399.4L907.4 410.1L907.4 424.6L905.3 424.6L903.3 424.6L901.2 424.6L899.1 424.6L897.1 424.6L895.0 424.6L892.9 424.6L890.9 424.6L888.8 424.6L886.7 424.6L884.7 424.6L882.6 424.6L880.6 424.6L878.5 424.6L876.4 424.6L874.4 424.6L872.3 424.6L870.2 424.6L868.2 424.6L866.1 424.6L864.0 424.6L862.0 424.6Z" fill="#7b86fa"/><path d="M862.0 410.2L864.0 399.5L866.1 389.9L868.2 381.3L870.2 373.7L872.3 367.1L874.4 361.5L876.4 356.9L878.5 353.4L880.6 350.8L882.6 349.3L884.7 348.8L886.7 349.3L888.8 350.8L890.9 353.4L892.9 356.9L895.0 361.5L897.1 367.1L899.1 373.7L901.2 381.3L903.3 389.9L905.3 399.5L907.4 410.2L907.4 424.6L905.3 424.6L903.3 424.6L901.2 424.6L899.1 424.6L897.1 424.6L895.0 424.6L892.9 424.6L890.9 424.6L888.8 424.6L886.7 424.6L884.7 424.6L882.6 424.6L880.6 424.6L878.5 424.6L876.4 424.6L874.4 424.6L872.3 424.6L870.2 424.6L868.2 424.6L866.1 424.6L864.0 424.6L862.0 424.6Z" fill="#949dfb"/><path d="M862.0 410.2L864.0 399.6L866.1 390.0L868.2 381.4L870.2 373.9L872.3 367.3L874.4 361.8L876.4 357.2L878.5 353.7L880.6 351.2L882.6 349.6L884.7 349.1L886.7 349.6L888.8 351.2L890.9 353.7L892.9 357.2L895.0 361.8L897.1 367.3L899.1 373.9L901.2 381.4L903.3 390.0L905.3 399.6L907.4 410.2L907.4 424.6L905.3 424.6L903.3 424.6L901.2 424.6L899.1 424.6L897.1 424.6L895.0 424.6L892.9 424.6L890.9 424.6L888.8 424.6L886.7 424.6L884.7 424.6L882.6 424.6L880.6 424.6L878.5 424.6L876.4 424.6L874.4 424.6L872.3 424.6L870.2 424.6L868.2 424.6L866.1 424.6L864.0 424.6L862.0 424.6Z" fill="#afb6fc"/><path d="M862.0 410.3L864.0 399.7L866.1 390.2L868.2 381.6L870.2 374.1L872.3 367.6L874.4 362.0L876.4 357.5L878.5 354.0L880.6 351.5L882.6 350.0L884.7 349.5L886.7 350.0L888.8 351.5L890.9 354.0L892.9 357.5L895.0 362.0L897.1 367.6L899.1 374.1L901.2 381.6L903.3 390.2L905.3 399.7L907.4 410.3L907.4 424.6L905.3 424.6L903.3 424.6L901.2 424.6L899.1 424.6L897.1 424.6L895.0 424.6L892.9 424.6L890.9 424.6L888.8 424.6L886.7 424.6L884.7 424.6L882.6 424.6L880.6 424.6L878.5 424.6L876.4 424.6L874.4 424.6L872.3 424.6L870.2 424.6L868.2 424.6L866.1 424.6L864.0 424.6L862.0 424.6Z" fill="#cacefd"/><path d="M862.0 410.3L864.0 399.8L866.1 390.3L868.2 381.8L870.2 374.3L872.3 367.8L874.4 362.3L876.4 357.8L878.5 354.3L880.6 351.8L882.6 350.3L884.7 349.8L886.7 350.3L888.8 351.8L890.9 354.3L892.9 357.8L895.0 362.3L897.1 367.8L899.1 374.3L901.2 381.8L903.3 390.3L905.3 399.8L907.4 410.3L907.4 424.6L905.3 424.6L903.3 424.6L901.2 424.6L899.1 424.6L897.1 424.6L895.0 424.6L892.9 424.6L890.9 424.6L888.8 424.6L886.7 424.6L884.7 424.6L882.6 424.6L880.6 424.6L878.5 424.6L876.4 424.6L874.4 424.6L872.3 424.6L870.2 424.6L868.2 424.6L866.1 424.6L864.0 424.6L862.0 424.6Z" fill="#e4e7fe"/><path d="M862.0 410.4L864.0 399.9L866.1 390.5L868.2 382.0L870.2 374.5L872.3 368.1L874.4 362.6L876.4 358.1L878.5 354.6L880.6 352.1L882.6 350.6L884.7 350.1L886.7 350.6L888.8 352.1L890.9 354.6L892.9 358.1L895.0 362.6L897.1 368.1L899.1 374.5L901.2 382.0L903.3 390.5L905.3 399.9L907.4 410.4L907.4 424.6L905.3 424.6L903.3 424.6L901.2 424.6L899.1 424.6L897.1 424.6L895.0 424.6L892.9 424.6L890.9 424.6L888.8 424.6L886.7 424.6L884.7 424.6L882.6 424.6L880.6 424.6L878.5 424.6L876.4 424.6L874.4 424.6L872.3 424.6L870.2 424.6L868.2 424.6L866.1 424.6L864.0 424.6L862.0 424.6Z" fill="#ffffff"/><path d="M862.0 410.6L864.0 400.4L866.1 391.2L868.2 382.9L870.2 375.6L872.3 369.3L874.4 363.9L876.4 359.6L878.5 356.2L880.6 353.7L882.6 352.3L884.7 351.8L886.7 352.3L888.8 353.7L890.9 356.2L892.9 359.6L895.0 363.9L897.1 369.3L899.1 375.6L901.2 382.9L903.3 391.2L905.3 400.4L907.4 410.6L907.4 424.6L905.3 424.6L903.3 424.6L901.2 424.6L899.1 424.6L897.1 424.6L895.0 424.6L892.9 424.6L890.9 424.6L888.8 424.6L886.7 424.6L884.7 424.6L882.6 424.6L880.6 424.6L878.5 424.6L876.4 424.6L874.4 424.6L872.3 424.6L870.2 424.6L868.2 424.6L866.1 424.6L864.0 424.6L862.0 424.6Z" fill="#ffe3e8"/><path d="M862.0 411.0L864.0 401.2L866.1 392.4L868.2 384.5L870.2 377.6L872.3 371.5L874.4 366.4L876.4 362.2L878.5 359.0L880.6 356.7L882.6 355.3L884.7 354.8L886.7 355.3L888.8 356.7L890.9 359.0L892.9 362.2L895.0 366.4L897.1 371.5L899.1 377.6L901.2 384.5L903.3 392.4L905.3 401.2L907.4 411.0L907.4 424.6L905.3 424.6L903.3 424.6L901.2 424.6L899.1 424.6L897.1 424.6L895.0 424.6L892.9 424.6L890.9 424.6L888.8 424.6L886.7 424.6L884.7 424.6L882.6 424.6L880.6 424.6L878.5 424.6L876.4 424.6L874.4 424.6L872.3 424.6L870.2 424.6L868.2 424.6L866.1 424.6L864.0 424.6L862.0 424.6Z" fill="#ffc7d1"/><path d="M862.0 411.4L864.0 402.1L866.1 393.7L868.2 386.2L870.2 379.5L872.3 373.8L874.4 368.9L876.4 364.9L878.5 361.8L880.6 359.6L882.6 358.2L884.7 357.8L886.7 358.2L888.8 359.6L890.9 361.8L892.9 364.9L895.0 368.9L897.1 373.8L899.1 379.5L901.2 386.2L903.3 393.7L905.3 402.1L907.4 411.4L907.4 424.6L905.3 424.6L903.3 424.6L901.2 424.6L899.1 424.6L897.1 424.6L895.0 424.6L892.9 424.6L890.9 424.6L888.8 424.6L886.7 424.6L884.7 424.6L882.6 424.6L880.6 424.6L878.5 424.6L876.4 424.6L874.4 424.6L872.3 424.6L870.2 424.6L868.2 424.6L866.1 424.6L864.0 424.6L862.0 424.6Z" fill="#ffaaba"/><path d="M862.0 411.8L864.0 403.0L866.1 395.0L868.2 387.8L870.2 381.5L872.3 376.0L874.4 371.3L876.4 367.5L878.5 364.6L880.6 362.5L882.6 361.2L884.7 360.8L886.7 361.2L888.8 362.5L890.9 364.6L892.9 367.5L895.0 371.3L897.1 376.0L899.1 381.5L901.2 387.8L903.3 395.0L905.3 403.0L907.4 411.8L907.4 424.6L905.3 424.6L903.3 424.6L901.2 424.6L899.1 424.6L897.1 424.6L895.0 424.6L892.9 424.6L890.9 424.6L888.8 424.6L886.7 424.6L884.7 424.6L882.6 424.6L880.6 424.6L878.5 424.6L876.4 424.6L874.4 424.6L872.3 424.6L870.2 424.6L868.2 424.6L866.1 424.6L864.0 424.6L862.0 424.6Z" fill="#ff8ea3"/><path d="M862.0 412.2L864.0 403.8L866.1 396.2L868.2 389.4L870.2 383.4L872.3 378.2L874.4 373.8L876.4 370.2L878.5 367.4L880.6 365.4L882.6 364.2L884.7 363.8L886.7 364.2L888.8 365.4L890.9 367.4L892.9 370.2L895.0 373.8L897.1 378.2L899.1 383.4L901.2 389.4L903.3 396.2L905.3 403.8L907.4 412.2L907.4 424.6L905.3 424.6L903.3 424.6L901.2 424.6L899.1 424.6L897.1 424.6L895.0 424.6L892.9 424.6L890.9 424.6L888.8 424.6L886.7 424.6L884.7 424.6L882.6 424.6L880.6 424.6L878.5 424.6L876.4 424.6L874.4 424.6L872.3 424.6L870.2 424.6L868.2 424.6L866.1 424.6L864.0 424.6L862.0 424.6Z" fill="#ff7089"/><path d="M862.0 412.8L864.0 404.9L866.1 397.9L868.2 391.5L870.2 385.9L872.3 381.1L874.4 377.0L876.4 373.6L878.5 371.0L880.6 369.2L882.6 368.1L884.7 367.7L886.7 368.1L888.8 369.2L890.9 371.0L892.9 373.6L895.0 377.0L897.1 381.1L899.1 385.9L901.2 391.5L903.3 397.9L905.3 404.9L907.4 412.8L907.4 424.6L905.3 424.6L903.3 424.6L901.2 424.6L899.1 424.6L897.1 424.6L895.0 424.6L892.9 424.6L890.9 424.6L888.8 424.6L886.7 424.6L884.7 424.6L882.6 424.6L880.6 424.6L878.5 424.6L876.4 424.6L874.4 424.6L872.3 424.6L870.2 424.6L868.2 424.6L866.1 424.6L864.0 424.6L862.0 424.6Z" fill="#ff4f6a"/><path d="M862.0 413.3L864.0 406.1L866.1 399.5L868.2 393.6L870.2 388.5L872.3 384.0L874.4 380.2L876.4 377.1L878.5 374.7L880.6 373.0L882.6 371.9L884.7 371.6L886.7 371.9L888.8 373.0L890.9 374.7L892.9 377.1L895.0 380.2L897.1 384.0L899.1 388.5L901.2 393.6L903.3 399.5L905.3 406.1L907.4 413.3L907.4 424.6L905.3 424.6L903.3 424.6L901.2 424.6L899.1 424.6L897.1 424.6L895.0 424.6L892.9 424.6L890.9 424.6L888.8 424.6L886.7 424.6L884.7 424.6L882.6 424.6L880.6 424.6L878.5 424.6L876.4 424.6L874.4 424.6L872.3 424.6L870.2 424.6L868.2 424.6L866.1 424.6L864.0 424.6L862.0 424.6Z" fill="#ff2f4c"/><path d="M862.0 413.9L864.0 407.2L866.1 401.2L868.2 395.8L870.2 391.1L872.3 387.0L874.4 383.5L876.4 380.7L878.5 378.5L880.6 376.9L882.6 375.9L884.7 375.6L886.7 375.9L888.8 376.9L890.9 378.5L892.9 380.7L895.0 383.5L897.1 387.0L899.1 391.1L901.2 395.8L903.3 401.2L905.3 407.2L907.4 413.9L907.4 424.6L905.3 424.6L903.3 424.6L901.2 424.6L899.1 424.6L897.1 424.6L895.0 424.6L892.9 424.6L890.9 424.6L888.8 424.6L886.7 424.6L884.7 424.6L882.6 424.6L880.6 424.6L878.5 424.6L876.4 424.6L874.4 424.6L872.3 424.6L870.2 424.6L868.2 424.6L866.1 424.6L864.0 424.6L862.0 424.6Z" fill="#ff1627"/><path d="M862.0 414.5L864.0 408.5L866.1 403.1L868.2 398.3L870.2 394.0L872.3 390.3L874.4 387.2L876.4 384.6L878.5 382.6L880.6 381.2L882.6 380.4L884.7 380.1L886.7 380.4L888.8 381.2L890.9 382.6L892.9 384.6L895.0 387.2L897.1 390.3L899.1 394.0L901.2 398.3L903.3 403.1L905.3 408.5L907.4 414.5L907.4 424.6L905.3 424.6L903.3 424.6L901.2 424.6L899.1 424.6L897.1 424.6L895.0 424.6L892.9 424.6L890.9 424.6L888.8 424.6L886.7 424.6L884.7 424.6L882.6 424.6L880.6 424.6L878.5 424.6L876.4 424.6L874.4 424.6L872.3 424.6L870.2 424.6L868.2 424.6L866.1 424.6L864.0 424.6L862.0 424.6Z" fill="#ff0000"/></g></g>
<rect x="865.98" y="420.6" width="37.4" height="50.7" fill="#ff0000"/>
<path d="M866.3 471.3L867.2 467.6L868.1 464.2L869.0 460.9L870.0 457.8L870.9 454.9L871.8 452.1L872.7 449.6L873.6 447.2L874.6 445.1L875.5 443.1L876.4 441.3L877.3 439.7L878.2 438.3L879.2 437.1L880.1 436.1L881.0 435.2L881.9 434.5L882.8 434.1L883.8 433.8L884.7 433.7L885.6 433.8L886.5 434.1L887.4 434.5L888.4 435.2L889.3 436.1L890.2 437.1L891.1 438.3L892.0 439.7L893.0 441.3L893.9 443.1L894.8 445.1L895.7 447.2L896.6 449.6L897.6 452.1L898.5 454.9L899.4 457.8L900.3 460.9L901.2 464.2L902.2 467.6L903.1 471.3Z" fill="#1c32f6"/>
<path d="M866.3 471.3L867.2 467.6L868.1 464.2L869.0 460.9L870.0 457.8L870.9 454.9L871.8 452.1L872.7 449.6L873.6 447.2L874.6 445.1L875.5 443.1L876.4 441.3L877.3 439.7L878.2 438.3L879.2 437.1L880.1 436.1L881.0 435.2L881.9 434.5L882.8 434.1L883.8 433.8L884.7 433.7L885.6 433.8L886.5 434.1L887.4 434.5L888.4 435.2L889.3 436.1L890.2 437.1L891.1 438.3L892.0 439.7L893.0 441.3L893.9 443.1L894.8 445.1L895.7 447.2L896.6 449.6L897.6 452.1L898.5 454.9L899.4 457.8L900.3 460.9L901.2 464.2L902.2 467.6L903.1 471.3" fill="none" stroke="#f8c8d8" stroke-width="0.8" stroke-opacity="0.5"/>
<rect x="911.54" y="347.7" width="45.8" height="196.5" fill="#2c24a6"/>
<rect x="914.74" y="347.7" width="39.4" height="196.5" fill="#1c32f6"/>
<rect x="911.54" y="420.6" width="4.2" height="50.7" fill="#f5b48e"/>
<rect x="953.14" y="420.6" width="4.2" height="50.7" fill="#a8d2f2"/>
<rect x="915.74" y="420.6" width="37.4" height="50.7" fill="#1c32f6"/>
<g clip-path="url(#c3)"><g filter="url(#bl)"><path d="M911.7 354.2L957.1 354.2L957.1 424.6L911.7 424.6Z" fill="#3447f7"/><path d="M911.7 355.9L957.1 355.9L957.1 424.6L911.7 424.6Z" fill="#4c5cf8"/><path d="M911.7 357.6L957.1 357.6L957.1 424.6L911.7 424.6Z" fill="#6371f9"/><path d="M911.7 359.3L957.1 359.3L957.1 424.6L911.7 424.6Z" fill="#7b86fa"/><path d="M911.7 361.0L957.1 361.0L957.1 424.6L911.7 424.6Z" fill="#949dfb"/><path d="M911.7 362.8L957.1 362.8L957.1 424.6L911.7 424.6Z" fill="#afb6fc"/><path d="M911.7 365.3L957.1 365.3L957.1 424.6L911.7 424.6Z" fill="#cacefd"/><path d="M911.7 367.9L957.1 367.9L957.1 424.6L911.7 424.6Z" fill="#e4e7fe"/><path d="M911.7 370.4L957.1 370.4L957.1 424.6L911.7 424.6Z" fill="#ffffff"/><path d="M911.7 372.7L957.1 372.7L957.1 424.6L911.7 424.6Z" fill="#ffe3e8"/><path d="M911.7 374.8L957.1 374.8L957.1 424.6L911.7 424.6Z" fill="#ffc7d1"/><path d="M911.7 376.8L957.1 376.8L957.1 424.6L911.7 424.6Z" fill="#ffaaba"/><path d="M911.7 378.9L957.1 378.9L957.1 424.6L911.7 424.6Z" fill="#ff8ea3"/><path d="M911.7 380.9L957.1 380.9L957.1 424.6L911.7 424.6Z" fill="#ff7089"/><path d="M911.7 383.9L957.1 383.9L957.1 424.6L911.7 424.6Z" fill="#ff4f6a"/><path d="M911.7 386.9L957.1 386.9L957.1 424.6L911.7 424.6Z" fill="#ff2f4c"/><path d="M911.7 390.4L957.1 390.4L957.1 424.6L911.7 424.6Z" fill="#ff1627"/><path d="M911.7 394.9L957.1 394.9L957.1 424.6L911.7 424.6Z" fill="#ff0000"/></g></g>
<rect x="915.74" y="420.6" width="37.4" height="50.7" fill="#ff0000"/>
<rect x="961.3" y="347.7" width="45.8" height="196.5" fill="#2c24a6"/>
<rect x="964.5" y="347.7" width="39.4" height="196.5" fill="#1c32f6"/>
<rect x="961.3" y="420.6" width="4.2" height="50.7" fill="#f5b48e"/>
<rect x="1002.9" y="420.6" width="4.2" height="50.7" fill="#a8d2f2"/>
<rect x="965.5" y="420.6" width="37.4" height="50.7" fill="#1c32f6"/>
<g clip-path="url(#c4)"><g filter="url(#bl)"><path d="M961.5 353.9L1006.9 353.9L1006.9 424.6L961.5 424.6Z" fill="#3447f7"/><path d="M961.5 355.6L1006.9 355.6L1006.9 424.6L961.5 424.6Z" fill="#4c5cf8"/><path d="M961.5 357.4L1006.9 357.4L1006.9 424.6L961.5 424.6Z" fill="#6371f9"/><path d="M961.5 359.2L1006.9 359.2L1006.9 424.6L961.5 424.6Z" fill="#7b86fa"/><path d="M961.5 360.9L1006.9 360.9L1006.9 424.6L961.5 424.6Z" fill="#949dfb"/><path d="M961.5 362.8L1006.9 362.8L1006.9 424.6L961.5 424.6Z" fill="#afb6fc"/><path d="M961.5 365.3L1006.9 365.3L1006.9 424.6L961.5 424.6Z" fill="#cacefd"/><path d="M961.5 367.9L1006.9 367.9L1006.9 424.6L961.5 424.6Z" fill="#e4e7fe"/><path d="M961.5 370.4L1006.9 370.4L1006.9 424.6L961.5 424.6Z" fill="#ffffff"/><path d="M961.5 372.7L1006.9 372.7L1006.9 424.6L961.5 424.6Z" fill="#ffe3e8"/><path d="M961.5 374.8L1006.9 374.8L1006.9 424.6L961.5 424.6Z" fill="#ffc7d1"/><path d="M961.5 376.9L1006.9 376.9L1006.9 424.6L961.5 424.6Z" fill="#ffaaba"/><path d="M961.5 378.9L1006.9 378.9L1006.9 424.6L961.5 424.6Z" fill="#ff8ea3"/><path d="M961.5 381.0L1006.9 381.0L1006.9 424.6L961.5 424.6Z" fill="#ff7089"/><path d="M961.5 384.0L1006.9 384.0L1006.9 424.6L961.5 424.6Z" fill="#ff4f6a"/><path d="M961.5 386.9L1006.9 386.9L1006.9 424.6L961.5 424.6Z" fill="#ff2f4c"/><path d="M961.5 390.3L1006.9 390.3L1006.9 424.6L961.5 424.6Z" fill="#ff1627"/><path d="M961.5 394.8L1006.9 394.8L1006.9 424.6L961.5 424.6Z" fill="#ff0000"/></g></g>
<rect x="1011.06" y="347.7" width="45.8" height="196.5" fill="#2c24a6"/>
<rect x="1014.26" y="347.7" width="39.4" height="196.5" fill="#1c32f6"/>
<rect x="1011.06" y="420.6" width="4.2" height="50.7" fill="#f5b48e"/>
<rect x="1052.66" y="420.6" width="4.2" height="50.7" fill="#a8d2f2"/>
<rect x="1015.26" y="420.6" width="37.4" height="50.7" fill="#1c32f6"/>
<g clip-path="url(#c5)"><g filter="url(#bl)"><path d="M1011.3 351.7L1013.3 359.2L1015.4 366.0L1017.5 372.0L1019.5 377.4L1021.6 382.0L1023.6 385.9L1025.7 389.1L1027.8 391.6L1029.8 393.4L1031.9 394.5L1034.0 394.8L1036.0 394.5L1038.1 393.4L1040.2 391.6L1042.2 389.1L1044.3 385.9L1046.3 382.0L1048.4 377.4L1050.5 372.0L1052.5 366.0L1054.6 359.2L1056.7 351.7L1056.7 412.2L1054.6 420.0L1052.5 427.2L1050.5 433.6L1048.4 439.2L1046.3 444.1L1044.3 448.2L1042.2 451.6L1040.2 454.2L1038.1 456.1L1036.0 457.2L1034.0 457.6L1031.9 457.2L1029.8 456.1L1027.8 454.2L1025.7 451.6L1023.6 448.2L1021.6 444.1L1019.5 439.2L1017.5 433.6L1015.4 427.2L1013.3 420.0L1011.3 412.2Z" fill="#3447f7"/><path d="M1011.3 352.8L1013.3 360.3L1015.4 367.1L1017.5 373.3L1019.5 378.7L1021.6 383.3L1023.6 387.3L1025.7 390.5L1027.8 393.0L1029.8 394.8L1031.9 395.9L1034.0 396.3L1036.0 395.9L1038.1 394.8L1040.2 393.0L1042.2 390.5L1044.3 387.3L1046.3 383.3L1048.4 378.7L1050.5 373.3L1052.5 367.1L1054.6 360.3L1056.7 352.8L1056.7 412.2L1054.6 420.0L1052.5 427.2L1050.5 433.6L1048.4 439.2L1046.3 444.1L1044.3 448.2L1042.2 451.6L1040.2 454.2L1038.1 456.1L1036.0 457.2L1034.0 457.6L1031.9 457.2L1029.8 456.1L1027.8 454.2L1025.7 451.6L1023.6 448.2L1021.6 444.1L1019.5 439.2L1017.5 433.6L1015.4 427.2L1013.3 420.0L1011.3 412.2Z" fill="#4c5cf8"/><path d="M1011.3 353.8L1013.3 361.4L1015.4 368.3L1017.5 374.5L1019.5 379.9L1021.6 384.7L1023.6 388.6L1025.7 391.9L1027.8 394.4L1029.8 396.3L1031.9 397.3L1034.0 397.7L1036.0 397.3L1038.1 396.3L1040.2 394.4L1042.2 391.9L1044.3 388.6L1046.3 384.7L1048.4 379.9L1050.5 374.5L1052.5 368.3L1054.6 361.4L1056.7 353.8L1056.7 412.2L1054.6 420.0L1052.5 427.2L1050.5 433.6L1048.4 439.2L1046.3 444.1L1044.3 448.2L1042.2 451.6L1040.2 454.2L1038.1 456.1L1036.0 457.2L1034.0 457.6L1031.9 457.2L1029.8 456.1L1027.8 454.2L1025.7 451.6L1023.6 448.2L1021.6 444.1L1019.5 439.2L1017.5 433.6L1015.4 427.2L1013.3 420.0L1011.3 412.2Z" fill="#6371f9"/><path d="M1011.3 354.9L1013.3 362.6L1015.4 369.5L1017.5 375.7L1019.5 381.2L1021.6 386.0L1023.6 390.0L1025.7 393.3L1027.8 395.9L1029.8 397.7L1031.9 398.8L1034.0 399.2L1036.0 398.8L1038.1 397.7L1040.2 395.9L1042.2 393.3L1044.3 390.0L1046.3 386.0L1048.4 381.2L1050.5 375.7L1052.5 369.5L1054.6 362.6L1056.7 354.9L1056.7 412.2L1054.6 420.0L1052.5 427.2L1050.5 433.6L1048.4 439.2L1046.3 444.1L1044.3 448.2L1042.2 451.6L1040.2 454.2L1038.1 456.1L1036.0 457.2L1034.0 457.6L1031.9 457.2L1029.8 456.1L1027.8 454.2L1025.7 451.6L1023.6 448.2L1021.6 444.1L1019.5 439.2L1017.5 433.6L1015.4 427.2L1013.3 420.0L1011.3 412.2Z" fill="#7b86fa"/><path d="M1011.3 355.9L1013.3 363.7L1015.4 370.7L1017.5 377.0L1019.5 382.5L1021.6 387.3L1023.6 391.4L1025.7 394.7L1027.8 397.3L1029.8 399.1L1031.9 400.2L1034.0 400.6L1036.0 400.2L1038.1 399.1L1040.2 397.3L1042.2 394.7L1044.3 391.4L1046.3 387.3L1048.4 382.5L1050.5 377.0L1052.5 370.7L1054.6 363.7L1056.7 355.9L1056.7 412.2L1054.6 420.0L1052.5 427.2L1050.5 433.6L1048.4 439.2L1046.3 444.1L1044.3 448.2L1042.2 451.6L1040.2 454.2L1038.1 456.1L1036.0 457.2L1034.0 457.6L1031.9 457.2L1029.8 456.1L1027.8 454.2L1025.7 451.6L1023.6 448.2L1021.6 444.1L1019.5 439.2L1017.5 433.6L1015.4 427.2L1013.3 420.0L1011.3 412.2Z" fill="#949dfb"/><path d="M1011.3 357.0L1013.3 364.8L1015.4 371.9L1017.5 378.2L1019.5 383.8L1021.6 388.6L1023.6 392.7L1025.7 396.1L1027.8 398.7L1029.8 400.6L1031.9 401.7L1034.0 402.0L1036.0 401.7L1038.1 400.6L1040.2 398.7L1042.2 396.1L1044.3 392.7L1046.3 388.6L1048.4 383.8L1050.5 378.2L1052.5 371.9L1054.6 364.8L1056.7 357.0L1056.7 412.2L1054.6 420.0L1052.5 427.2L1050.5 433.6L1048.4 439.2L1046.3 444.1L1044.3 448.2L1042.2 451.6L1040.2 454.2L1038.1 456.1L1036.0 457.2L1034.0 457.6L1031.9 457.2L1029.8 456.1L1027.8 454.2L1025.7 451.6L1023.6 448.2L1021.6 444.1L1019.5 439.2L1017.5 433.6L1015.4 427.2L1013.3 420.0L1011.3 412.2Z" fill="#afb6fc"/><path d="M1011.3 358.1L1013.3 366.0L1015.4 373.1L1017.5 379.5L1019.5 385.1L1021.6 390.0L1023.6 394.1L1025.7 397.5L1027.8 400.1L1029.8 402.0L1031.9 403.1L1034.0 403.5L1036.0 403.1L1038.1 402.0L1040.2 400.1L1042.2 397.5L1044.3 394.1L1046.3 390.0L1048.4 385.1L1050.5 379.5L1052.5 373.1L1054.6 366.0L1056.7 358.1L1056.7 412.2L1054.6 420.0L1052.5 427.2L1050.5 433.6L1048.4 439.2L1046.3 444.1L1044.3 448.2L1042.2 451.6L1040.2 454.2L1038.1 456.1L1036.0 457.2L1034.0 457.6L1031.9 457.2L1029.8 456.1L1027.8 454.2L1025.7 451.6L1023.6 448.2L1021.6 444.1L1019.5 439.2L1017.5 433.6L1015.4 427.2L1013.3 420.0L1011.3 412.2Z" fill="#cacefd"/><path d="M1011.3 359.1L1013.3 367.1L1015.4 374.3L1017.5 380.7L1019.5 386.4L1021.6 391.3L1023.6 395.5L1025.7 398.9L1027.8 401.5L1029.8 403.4L1031.9 404.6L1034.0 404.9L1036.0 404.6L1038.1 403.4L1040.2 401.5L1042.2 398.9L1044.3 395.5L1046.3 391.3L1048.4 386.4L1050.5 380.7L1052.5 374.3L1054.6 367.1L1056.7 359.1L1056.7 412.2L1054.6 420.0L1052.5 427.2L1050.5 433.6L1048.4 439.2L1046.3 444.1L1044.3 448.2L1042.2 451.6L1040.2 454.2L1038.1 456.1L1036.0 457.2L1034.0 457.6L1031.9 457.2L1029.8 456.1L1027.8 454.2L1025.7 451.6L1023.6 448.2L1021.6 444.1L1019.5 439.2L1017.5 433.6L1015.4 427.2L1013.3 420.0L1011.3 412.2Z" fill="#e4e7fe"/><path d="M1011.3 360.2L1013.3 368.2L1015.4 375.5L1017.5 381.9L1019.5 387.7L1021.6 392.6L1023.6 396.8L1025.7 400.3L1027.8 402.9L1029.8 404.9L1031.9 406.0L1034.0 406.4L1036.0 406.0L1038.1 404.9L1040.2 402.9L1042.2 400.3L1044.3 396.8L1046.3 392.6L1048.4 387.7L1050.5 381.9L1052.5 375.5L1054.6 368.2L1056.7 360.2L1056.7 412.2L1054.6 420.0L1052.5 427.2L1050.5 433.6L1048.4 439.2L1046.3 444.1L1044.3 448.2L1042.2 451.6L1040.2 454.2L1038.1 456.1L1036.0 457.2L1034.0 457.6L1031.9 457.2L1029.8 456.1L1027.8 454.2L1025.7 451.6L1023.6 448.2L1021.6 444.1L1019.5 439.2L1017.5 433.6L1015.4 427.2L1013.3 420.0L1011.3 412.2Z" fill="#ffffff"/><path d="M1011.3 361.4L1013.3 369.5L1015.4 376.8L1017.5 383.3L1019.5 389.1L1021.6 394.1L1023.6 398.4L1025.7 401.8L1027.8 404.5L1029.8 406.4L1031.9 407.6L1034.0 408.0L1036.0 407.6L1038.1 406.4L1040.2 404.5L1042.2 401.8L1044.3 398.4L1046.3 394.1L1048.4 389.1L1050.5 383.3L1052.5 376.8L1054.6 369.5L1056.7 361.4L1056.7 412.2L1054.6 420.0L1052.5 427.2L1050.5 433.6L1048.4 439.2L1046.3 444.1L1044.3 448.2L1042.2 451.6L1040.2 454.2L1038.1 456.1L1036.0 457.2L1034.0 457.6L1031.9 457.2L1029.8 456.1L1027.8 454.2L1025.7 451.6L1023.6 448.2L1021.6 444.1L1019.5 439.2L1017.5 433.6L1015.4 427.2L1013.3 420.0L1011.3 412.2Z" fill="#ffe3e8"/><path d="M1011.3 362.7L1013.3 370.9L1015.4 378.2L1017.5 384.9L1019.5 390.7L1021.6 395.8L1023.6 400.0L1025.7 403.5L1027.8 406.3L1029.8 408.2L1031.9 409.4L1034.0 409.8L1036.0 409.4L1038.1 408.2L1040.2 406.3L1042.2 403.5L1044.3 400.0L1046.3 395.8L1048.4 390.7L1050.5 384.9L1052.5 378.2L1054.6 370.9L1056.7 362.7L1056.7 412.2L1054.6 420.0L1052.5 427.2L1050.5 433.6L1048.4 439.2L1046.3 444.1L1044.3 448.2L1042.2 451.6L1040.2 454.2L1038.1 456.1L1036.0 457.2L1034.0 457.6L1031.9 457.2L1029.8 456.1L1027.8 454.2L1025.7 451.6L1023.6 448.2L1021.6 444.1L1019.5 439.2L1017.5 433.6L1015.4 427.2L1013.3 420.0L1011.3 412.2Z" fill="#ffc7d1"/><path d="M1011.3 364.0L1013.3 372.2L1015.4 379.7L1017.5 386.4L1019.5 392.3L1021.6 397.4L1023.6 401.7L1025.7 405.3L1027.8 408.0L1029.8 410.0L1031.9 411.2L1034.0 411.5L1036.0 411.2L1038.1 410.0L1040.2 408.0L1042.2 405.3L1044.3 401.7L1046.3 397.4L1048.4 392.3L1050.5 386.4L1052.5 379.7L1054.6 372.2L1056.7 364.0L1056.7 412.2L1054.6 420.0L1052.5 427.2L1050.5 433.6L1048.4 439.2L1046.3 444.1L1044.3 448.2L1042.2 451.6L1040.2 454.2L1038.1 456.1L1036.0 457.2L1034.0 457.6L1031.9 457.2L1029.8 456.1L1027.8 454.2L1025.7 451.6L1023.6 448.2L1021.6 444.1L1019.5 439.2L1017.5 433.6L1015.4 427.2L1013.3 420.0L1011.3 412.2Z" fill="#ffaaba"/><path d="M1011.3 365.3L1013.3 373.6L1015.4 381.2L1017.5 387.9L1019.5 393.9L1021.6 399.0L1023.6 403.4L1025.7 407.0L1027.8 409.7L1029.8 411.7L1031.9 412.9L1034.0 413.3L1036.0 412.9L1038.1 411.7L1040.2 409.7L1042.2 407.0L1044.3 403.4L1046.3 399.0L1048.4 393.9L1050.5 387.9L1052.5 381.2L1054.6 373.6L1056.7 365.3L1056.7 412.2L1054.6 420.0L1052.5 427.2L1050.5 433.6L1048.4 439.2L1046.3 444.1L1044.3 448.2L1042.2 451.6L1040.2 454.2L1038.1 456.1L1036.0 457.2L1034.0 457.6L1031.9 457.2L1029.8 456.1L1027.8 454.2L1025.7 451.6L1023.6 448.2L1021.6 444.1L1019.5 439.2L1017.5 433.6L1015.4 427.2L1013.3 420.0L1011.3 412.2Z" fill="#ff8ea3"/><path d="M1011.3 366.6L1013.3 375.0L1015.4 382.6L1017.5 389.4L1019.5 395.5L1021.6 400.7L1023.6 405.1L1025.7 408.7L1027.8 411.5L1029.8 413.5L1031.9 414.7L1034.0 415.1L1036.0 414.7L1038.1 413.5L1040.2 411.5L1042.2 408.7L1044.3 405.1L1046.3 400.7L1048.4 395.5L1050.5 389.4L1052.5 382.6L1054.6 375.0L1056.7 366.6L1056.7 412.2L1054.6 420.0L1052.5 427.2L1050.5 433.6L1048.4 439.2L1046.3 444.1L1044.3 448.2L1042.2 451.6L1040.2 454.2L1038.1 456.1L1036.0 457.2L1034.0 457.6L1031.9 457.2L1029.8 456.1L1027.8 454.2L1025.7 451.6L1023.6 448.2L1021.6 444.1L1019.5 439.2L1017.5 433.6L1015.4 427.2L1013.3 420.0L1011.3 412.2Z" fill="#ff7089"/><path d="M1011.3 368.2L1013.3 376.8L1015.4 384.5L1017.5 391.4L1019.5 397.4L1021.6 402.7L1023.6 407.2L1025.7 410.8L1027.8 413.7L1029.8 415.7L1031.9 416.9L1034.0 417.3L1036.0 416.9L1038.1 415.7L1040.2 413.7L1042.2 410.8L1044.3 407.2L1046.3 402.7L1048.4 397.4L1050.5 391.4L1052.5 384.5L1054.6 376.8L1056.7 368.2L1056.7 412.2L1054.6 420.0L1052.5 427.2L1050.5 433.6L1048.4 439.2L1046.3 444.1L1044.3 448.2L1042.2 451.6L1040.2 454.2L1038.1 456.1L1036.0 457.2L1034.0 457.6L1031.9 457.2L1029.8 456.1L1027.8 454.2L1025.7 451.6L1023.6 448.2L1021.6 444.1L1019.5 439.2L1017.5 433.6L1015.4 427.2L1013.3 420.0L1011.3 412.2Z" fill="#ff4f6a"/><path d="M1011.3 369.9L1013.3 378.5L1015.4 386.3L1017.5 393.3L1019.5 399.4L1021.6 404.8L1023.6 409.3L1025.7 413.0L1027.8 415.8L1029.8 417.9L1031.9 419.1L1034.0 419.5L1036.0 419.1L1038.1 417.9L1040.2 415.8L1042.2 413.0L1044.3 409.3L1046.3 404.8L1048.4 399.4L1050.5 393.3L1052.5 386.3L1054.6 378.5L1056.7 369.9L1056.7 412.2L1054.6 420.0L1052.5 427.2L1050.5 433.6L1048.4 439.2L1046.3 444.1L1044.3 448.2L1042.2 451.6L1040.2 454.2L1038.1 456.1L1036.0 457.2L1034.0 457.6L1031.9 457.2L1029.8 456.1L1027.8 454.2L1025.7 451.6L1023.6 448.2L1021.6 444.1L1019.5 439.2L1017.5 433.6L1015.4 427.2L1013.3 420.0L1011.3 412.2Z" fill="#ff2f4c"/><path d="M1011.3 371.7L1013.3 380.5L1015.4 388.4L1017.5 395.5L1019.5 401.7L1021.6 407.1L1023.6 411.7L1025.7 415.4L1027.8 418.4L1029.8 420.4L1031.9 421.7L1034.0 422.1L1036.0 421.7L1038.1 420.4L1040.2 418.4L1042.2 415.4L1044.3 411.7L1046.3 407.1L1048.4 401.7L1050.5 395.5L1052.5 388.4L1054.6 380.5L1056.7 371.7L1056.7 412.2L1054.6 420.0L1052.5 427.2L1050.5 433.6L1048.4 439.2L1046.3 444.1L1044.3 448.2L1042.2 451.6L1040.2 454.2L1038.1 456.1L1036.0 457.2L1034.0 457.6L1031.9 457.2L1029.8 456.1L1027.8 454.2L1025.7 451.6L1023.6 448.2L1021.6 444.1L1019.5 439.2L1017.5 433.6L1015.4 427.2L1013.3 420.0L1011.3 412.2Z" fill="#ff1627"/><path d="M1011.3 374.2L1013.3 383.1L1015.4 391.1L1017.5 398.3L1019.5 404.7L1021.6 410.2L1023.6 414.8L1025.7 418.7L1027.8 421.6L1029.8 423.7L1031.9 425.0L1034.0 425.4L1036.0 425.0L1038.1 423.7L1040.2 421.6L1042.2 418.7L1044.3 414.8L1046.3 410.2L1048.4 404.7L1050.5 398.3L1052.5 391.1L1054.6 383.1L1056.7 374.2L1056.7 412.2L1054.6 420.0L1052.5 427.2L1050.5 433.6L1048.4 439.2L1046.3 444.1L1044.3 448.2L1042.2 451.6L1040.2 454.2L1038.1 456.1L1036.0 457.2L1034.0 457.6L1031.9 457.2L1029.8 456.1L1027.8 454.2L1025.7 451.6L1023.6 448.2L1021.6 444.1L1019.5 439.2L1017.5 433.6L1015.4 427.2L1013.3 420.0L1011.3 412.2Z" fill="#ff0000"/></g></g>
<rect x="1060.82" y="347.7" width="45.8" height="196.5" fill="#2c24a6"/>
<rect x="1064.02" y="347.7" width="39.4" height="196.5" fill="#1c32f6"/>
<rect x="1060.82" y="420.6" width="4.2" height="50.7" fill="#f5b48e"/>
<rect x="1102.42" y="420.6" width="4.2" height="50.7" fill="#a8d2f2"/>
<rect x="1065.02" y="420.6" width="37.4" height="50.7" fill="#1c32f6"/>
<g clip-path="url(#c6)"><g filter="url(#bl)"><path d="M1061.0 379.3L1063.1 379.7L1065.1 380.1L1067.2 380.5L1069.3 380.8L1071.3 381.1L1073.4 381.3L1075.5 381.5L1077.5 381.6L1079.6 381.8L1081.7 381.8L1083.7 381.8L1085.8 381.8L1087.8 381.8L1089.9 381.6L1092.0 381.5L1094.0 381.3L1096.1 381.1L1098.2 380.8L1100.2 380.5L1102.3 380.1L1104.4 379.7L1106.4 379.3L1106.4 424.6L1104.4 424.6L1102.3 424.6L1100.2 424.6L1098.2 424.6L1096.1 424.6L1094.0 424.6L1092.0 424.6L1089.9 424.6L1087.8 424.6L1085.8 424.6L1083.7 424.6L1081.7 424.6L1079.6 424.6L1077.5 424.6L1075.5 424.6L1073.4 424.6L1071.3 424.6L1069.3 424.6L1067.2 424.6L1065.1 424.6L1063.1 424.6L1061.0 424.6Z" fill="#3347f7"/><path d="M1061.0 380.5L1063.1 381.0L1065.1 381.4L1067.2 381.8L1069.3 382.1L1071.3 382.3L1073.4 382.6L1075.5 382.8L1077.5 382.9L1079.6 383.0L1081.7 383.1L1083.7 383.1L1085.8 383.1L1087.8 383.0L1089.9 382.9L1092.0 382.8L1094.0 382.6L1096.1 382.3L1098.2 382.1L1100.2 381.8L1102.3 381.4L1104.4 381.0L1106.4 380.5L1106.4 424.6L1104.4 424.6L1102.3 424.6L1100.2 424.6L1098.2 424.6L1096.1 424.6L1094.0 424.6L1092.0 424.6L1089.9 424.6L1087.8 424.6L1085.8 424.6L1083.7 424.6L1081.7 424.6L1079.6 424.6L1077.5 424.6L1075.5 424.6L1073.4 424.6L1071.3 424.6L1069.3 424.6L1067.2 424.6L1065.1 424.6L1063.1 424.6L1061.0 424.6Z" fill="#4b5cf8"/><path d="M1061.0 381.8L1063.1 382.3L1065.1 382.7L1067.2 383.0L1069.3 383.3L1071.3 383.6L1073.4 383.9L1075.5 384.1L1077.5 384.2L1079.6 384.3L1081.7 384.4L1083.7 384.4L1085.8 384.4L1087.8 384.3L1089.9 384.2L1092.0 384.1L1094.0 383.9L1096.1 383.6L1098.2 383.3L1100.2 383.0L1102.3 382.7L1104.4 382.3L1106.4 381.8L1106.4 424.6L1104.4 424.6L1102.3 424.6L1100.2 424.6L1098.2 424.6L1096.1 424.6L1094.0 424.6L1092.0 424.6L1089.9 424.6L1087.8 424.6L1085.8 424.6L1083.7 424.6L1081.7 424.6L1079.6 424.6L1077.5 424.6L1075.5 424.6L1073.4 424.6L1071.3 424.6L1069.3 424.6L1067.2 424.6L1065.1 424.6L1063.1 424.6L1061.0 424.6Z" fill="#6270f9"/><path d="M1061.0 383.1L1063.1 383.5L1065.1 383.9L1067.2 384.3L1069.3 384.6L1071.3 384.9L1073.4 385.1L1075.5 385.3L1077.5 385.5L1079.6 385.6L1081.7 385.6L1083.7 385.7L1085.8 385.6L1087.8 385.6L1089.9 385.5L1092.0 385.3L1094.0 385.1L1096.1 384.9L1098.2 384.6L1100.2 384.3L1102.3 383.9L1104.4 383.5L1106.4 383.1L1106.4 424.6L1104.4 424.6L1102.3 424.6L1100.2 424.6L1098.2 424.6L1096.1 424.6L1094.0 424.6L1092.0 424.6L1089.9 424.6L1087.8 424.6L1085.8 424.6L1083.7 424.6L1081.7 424.6L1079.6 424.6L1077.5 424.6L1075.5 424.6L1073.4 424.6L1071.3 424.6L1069.3 424.6L1067.2 424.6L1065.1 424.6L1063.1 424.6L1061.0 424.6Z" fill="#7a85fa"/><path d="M1061.0 384.4L1063.1 384.8L1065.1 385.2L1067.2 385.6L1069.3 385.9L1071.3 386.2L1073.4 386.4L1075.5 386.6L1077.5 386.8L1079.6 386.9L1081.7 386.9L1083.7 386.9L1085.8 386.9L1087.8 386.9L1089.9 386.8L1092.0 386.6L1094.0 386.4L1096.1 386.2L1098.2 385.9L1100.2 385.6L1102.3 385.2L1104.4 384.8L1106.4 384.4L1106.4 424.6L1104.4 424.6L1102.3 424.6L1100.2 424.6L1098.2 424.6L1096.1 424.6L1094.0 424.6L1092.0 424.6L1089.9 424.6L1087.8 424.6L1085.8 424.6L1083.7 424.6L1081.7 424.6L1079.6 424.6L1077.5 424.6L1075.5 424.6L1073.4 424.6L1071.3 424.6L1069.3 424.6L1067.2 424.6L1065.1 424.6L1063.1 424.6L1061.0 424.6Z" fill="#929bfa"/><path d="M1061.0 385.7L1063.1 386.1L1065.1 386.5L1067.2 386.9L1069.3 387.2L1071.3 387.5L1073.4 387.7L1075.5 387.9L1077.5 388.0L1079.6 388.1L1081.7 388.2L1083.7 388.2L1085.8 388.2L1087.8 388.1L1089.9 388.0L1092.0 387.9L1094.0 387.7L1096.1 387.5L1098.2 387.2L1100.2 386.9L1102.3 386.5L1104.4 386.1L1106.4 385.7L1106.4 424.6L1104.4 424.6L1102.3 424.6L1100.2 424.6L1098.2 424.6L1096.1 424.6L1094.0 424.6L1092.0 424.6L1089.9 424.6L1087.8 424.6L1085.8 424.6L1083.7 424.6L1081.7 424.6L1079.6 424.6L1077.5 424.6L1075.5 424.6L1073.4 424.6L1071.3 424.6L1069.3 424.6L1067.2 424.6L1065.1 424.6L1063.1 424.6L1061.0 424.6Z" fill="#adb3fc"/><path d="M1061.0 387.6L1063.1 388.0L1065.1 388.4L1067.2 388.8L1069.3 389.1L1071.3 389.4L1073.4 389.6L1075.5 389.8L1077.5 390.0L1079.6 390.1L1081.7 390.1L1083.7 390.1L1085.8 390.1L1087.8 390.1L1089.9 390.0L1092.0 389.8L1094.0 389.6L1096.1 389.4L1098.2 389.1L1100.2 388.8L1102.3 388.4L1104.4 388.0L1106.4 387.6L1106.4 424.6L1104.4 424.6L1102.3 424.6L1100.2 424.6L1098.2 424.6L1096.1 424.6L1094.0 424.6L1092.0 424.6L1089.9 424.6L1087.8 424.6L1085.8 424.6L1083.7 424.6L1081.7 424.6L1079.6 424.6L1077.5 424.6L1075.5 424.6L1073.4 424.6L1071.3 424.6L1069.3 424.6L1067.2 424.6L1065.1 424.6L1063.1 424.6L1061.0 424.6Z" fill="#c7cbfd"/><path d="M1061.0 389.5L1063.1 389.9L1065.1 390.3L1067.2 390.7L1069.3 391.0L1071.3 391.3L1073.4 391.5L1075.5 391.7L1077.5 391.9L1079.6 392.0L1081.7 392.0L1083.7 392.1L1085.8 392.0L1087.8 392.0L1089.9 391.9L1092.0 391.7L1094.0 391.5L1096.1 391.3L1098.2 391.0L1100.2 390.7L1102.3 390.3L1104.4 389.9L1106.4 389.5L1106.4 424.6L1104.4 424.6L1102.3 424.6L1100.2 424.6L1098.2 424.6L1096.1 424.6L1094.0 424.6L1092.0 424.6L1089.9 424.6L1087.8 424.6L1085.8 424.6L1083.7 424.6L1081.7 424.6L1079.6 424.6L1077.5 424.6L1075.5 424.6L1073.4 424.6L1071.3 424.6L1069.3 424.6L1067.2 424.6L1065.1 424.6L1063.1 424.6L1061.0 424.6Z" fill="#e1e4fe"/><path d="M1061.0 391.4L1063.1 391.8L1065.1 392.3L1067.2 392.6L1069.3 392.9L1071.3 393.2L1073.4 393.4L1075.5 393.6L1077.5 393.8L1079.6 393.9L1081.7 394.0L1083.7 394.0L1085.8 394.0L1087.8 393.9L1089.9 393.8L1092.0 393.6L1094.0 393.4L1096.1 393.2L1098.2 392.9L1100.2 392.6L1102.3 392.3L1104.4 391.8L1106.4 391.4L1106.4 424.6L1104.4 424.6L1102.3 424.6L1100.2 424.6L1098.2 424.6L1096.1 424.6L1094.0 424.6L1092.0 424.6L1089.9 424.6L1087.8 424.6L1085.8 424.6L1083.7 424.6L1081.7 424.6L1079.6 424.6L1077.5 424.6L1075.5 424.6L1073.4 424.6L1071.3 424.6L1069.3 424.6L1067.2 424.6L1065.1 424.6L1063.1 424.6L1061.0 424.6Z" fill="#fbfcff"/><path d="M1061.0 393.3L1063.1 393.8L1065.1 394.2L1067.2 394.6L1069.3 394.9L1071.3 395.2L1073.4 395.4L1075.5 395.6L1077.5 395.7L1079.6 395.8L1081.7 395.9L1083.7 395.9L1085.8 395.9L1087.8 395.8L1089.9 395.7L1092.0 395.6L1094.0 395.4L1096.1 395.2L1098.2 394.9L1100.2 394.6L1102.3 394.2L1104.4 393.8L1106.4 393.3L1106.4 424.6L1104.4 424.6L1102.3 424.6L1100.2 424.6L1098.2 424.6L1096.1 424.6L1094.0 424.6L1092.0 424.6L1089.9 424.6L1087.8 424.6L1085.8 424.6L1083.7 424.6L1081.7 424.6L1079.6 424.6L1077.5 424.6L1075.5 424.6L1073.4 424.6L1071.3 424.6L1069.3 424.6L1067.2 424.6L1065.1 424.6L1063.1 424.6L1061.0 424.6Z" fill="#ffe7ec"/><path d="M1061.0 395.3L1063.1 395.8L1065.1 396.2L1067.2 396.5L1069.3 396.9L1071.3 397.1L1073.4 397.4L1075.5 397.6L1077.5 397.7L1079.6 397.8L1081.7 397.9L1083.7 397.9L1085.8 397.9L1087.8 397.8L1089.9 397.7L1092.0 397.6L1094.0 397.4L1096.1 397.1L1098.2 396.9L1100.2 396.5L1102.3 396.2L1104.4 395.8L1106.4 395.3L1106.4 424.6L1104.4 424.6L1102.3 424.6L1100.2 424.6L1098.2 424.6L1096.1 424.6L1094.0 424.6L1092.0 424.6L1089.9 424.6L1087.8 424.6L1085.8 424.6L1083.7 424.6L1081.7 424.6L1079.6 424.6L1077.5 424.6L1075.5 424.6L1073.4 424.6L1071.3 424.6L1069.3 424.6L1067.2 424.6L1065.1 424.6L1063.1 424.6L1061.0 424.6Z" fill="#ffcbd5"/><path d="M1061.0 397.3L1063.1 397.8L1065.1 398.2L1067.2 398.5L1069.3 398.9L1071.3 399.1L1073.4 399.4L1075.5 399.6L1077.5 399.7L1079.6 399.8L1081.7 399.9L1083.7 399.9L1085.8 399.9L1087.8 399.8L1089.9 399.7L1092.0 399.6L1094.0 399.4L1096.1 399.1L1098.2 398.9L1100.2 398.5L1102.3 398.2L1104.4 397.8L1106.4 397.3L1106.4 424.6L1104.4 424.6L1102.3 424.6L1100.2 424.6L1098.2 424.6L1096.1 424.6L1094.0 424.6L1092.0 424.6L1089.9 424.6L1087.8 424.6L1085.8 424.6L1083.7 424.6L1081.7 424.6L1079.6 424.6L1077.5 424.6L1075.5 424.6L1073.4 424.6L1071.3 424.6L1069.3 424.6L1067.2 424.6L1065.1 424.6L1063.1 424.6L1061.0 424.6Z" fill="#ffb0bf"/><path d="M1061.0 399.3L1063.1 399.8L1065.1 400.2L1067.2 400.5L1069.3 400.8L1071.3 401.1L1073.4 401.4L1075.5 401.5L1077.5 401.7L1079.6 401.8L1081.7 401.9L1083.7 401.9L1085.8 401.9L1087.8 401.8L1089.9 401.7L1092.0 401.5L1094.0 401.4L1096.1 401.1L1098.2 400.8L1100.2 400.5L1102.3 400.2L1104.4 399.8L1106.4 399.3L1106.4 424.6L1104.4 424.6L1102.3 424.6L1100.2 424.6L1098.2 424.6L1096.1 424.6L1094.0 424.6L1092.0 424.6L1089.9 424.6L1087.8 424.6L1085.8 424.6L1083.7 424.6L1081.7 424.6L1079.6 424.6L1077.5 424.6L1075.5 424.6L1073.4 424.6L1071.3 424.6L1069.3 424.6L1067.2 424.6L1065.1 424.6L1063.1 424.6L1061.0 424.6Z" fill="#ff94a8"/><path d="M1061.0 401.8L1063.1 402.2L1065.1 402.6L1067.2 403.0L1069.3 403.3L1071.3 403.6L1073.4 403.8L1075.5 404.0L1077.5 404.2L1079.6 404.3L1081.7 404.3L1083.7 404.4L1085.8 404.3L1087.8 404.3L1089.9 404.2L1092.0 404.0L1094.0 403.8L1096.1 403.6L1098.2 403.3L1100.2 403.0L1102.3 402.6L1104.4 402.2L1106.4 401.8L1106.4 424.6L1104.4 424.6L1102.3 424.6L1100.2 424.6L1098.2 424.6L1096.1 424.6L1094.0 424.6L1092.0 424.6L1089.9 424.6L1087.8 424.6L1085.8 424.6L1083.7 424.6L1081.7 424.6L1079.6 424.6L1077.5 424.6L1075.5 424.6L1073.4 424.6L1071.3 424.6L1069.3 424.6L1067.2 424.6L1065.1 424.6L1063.1 424.6L1061.0 424.6Z" fill="#ff778f"/><path d="M1061.0 405.2L1063.1 405.6L1065.1 406.1L1067.2 406.4L1069.3 406.7L1071.3 407.0L1073.4 407.2L1075.5 407.4L1077.5 407.6L1079.6 407.7L1081.7 407.8L1083.7 407.8L1085.8 407.8L1087.8 407.7L1089.9 407.6L1092.0 407.4L1094.0 407.2L1096.1 407.0L1098.2 406.7L1100.2 406.4L1102.3 406.1L1104.4 405.6L1106.4 405.2L1106.4 424.6L1104.4 424.6L1102.3 424.6L1100.2 424.6L1098.2 424.6L1096.1 424.6L1094.0 424.6L1092.0 424.6L1089.9 424.6L1087.8 424.6L1085.8 424.6L1083.7 424.6L1081.7 424.6L1079.6 424.6L1077.5 424.6L1075.5 424.6L1073.4 424.6L1071.3 424.6L1069.3 424.6L1067.2 424.6L1065.1 424.6L1063.1 424.6L1061.0 424.6Z" fill="#ff5771"/><path d="M1061.0 408.6L1063.1 409.1L1065.1 409.5L1067.2 409.8L1069.3 410.2L1071.3 410.4L1073.4 410.7L1075.5 410.9L1077.5 411.0L1079.6 411.1L1081.7 411.2L1083.7 411.2L1085.8 411.2L1087.8 411.1L1089.9 411.0L1092.0 410.9L1094.0 410.7L1096.1 410.4L1098.2 410.2L1100.2 409.8L1102.3 409.5L1104.4 409.1L1106.4 408.6L1106.4 424.6L1104.4 424.6L1102.3 424.6L1100.2 424.6L1098.2 424.6L1096.1 424.6L1094.0 424.6L1092.0 424.6L1089.9 424.6L1087.8 424.6L1085.8 424.6L1083.7 424.6L1081.7 424.6L1079.6 424.6L1077.5 424.6L1075.5 424.6L1073.4 424.6L1071.3 424.6L1069.3 424.6L1067.2 424.6L1065.1 424.6L1063.1 424.6L1061.0 424.6Z" fill="#ff3654"/><path d="M1061.0 413.8L1063.1 414.2L1065.1 414.6L1067.2 415.0L1069.3 415.3L1071.3 415.6L1073.4 415.8L1075.5 416.0L1077.5 416.2L1079.6 416.3L1081.7 416.3L1083.7 416.4L1085.8 416.3L1087.8 416.3L1089.9 416.2L1092.0 416.0L1094.0 415.8L1096.1 415.6L1098.2 415.3L1100.2 415.0L1102.3 414.6L1104.4 414.2L1106.4 413.8L1106.4 424.6L1104.4 424.6L1102.3 424.6L1100.2 424.6L1098.2 424.6L1096.1 424.6L1094.0 424.6L1092.0 424.6L1089.9 424.6L1087.8 424.6L1085.8 424.6L1083.7 424.6L1081.7 424.6L1079.6 424.6L1077.5 424.6L1075.5 424.6L1073.4 424.6L1071.3 424.6L1069.3 424.6L1067.2 424.6L1065.1 424.6L1063.1 424.6L1061.0 424.6Z" fill="#ff1c31"/></g></g>
<rect x="1110.58" y="347.7" width="45.8" height="196.5" fill="#2c24a6"/>
<rect x="1113.78" y="347.7" width="39.4" height="196.5" fill="#1c32f6"/>
<rect x="1110.58" y="420.6" width="4.2" height="50.7" fill="#f5b48e"/>
<rect x="1152.18" y="420.6" width="4.2" height="50.7" fill="#a8d2f2"/>
<rect x="1114.78" y="420.6" width="37.4" height="50.7" fill="#1c32f6"/>
<g clip-path="url(#c7)"><g filter="url(#bl)"><path d="M1110.8 384.1L1112.8 390.4L1114.9 396.1L1117.0 401.1L1119.0 405.6L1121.1 409.5L1123.2 412.8L1125.2 415.5L1127.3 417.6L1129.4 419.1L1131.4 420.0L1133.5 420.3L1135.5 420.0L1137.6 419.1L1139.7 417.6L1141.7 415.5L1143.8 412.8L1145.9 409.5L1147.9 405.6L1150.0 401.1L1152.1 396.1L1154.1 390.4L1156.2 384.1L1156.2 419.9L1154.1 426.4L1152.1 432.3L1150.0 437.6L1147.9 442.3L1145.9 446.3L1143.8 449.7L1141.7 452.5L1139.7 454.7L1137.6 456.3L1135.5 457.2L1133.5 457.5L1131.4 457.2L1129.4 456.3L1127.3 454.7L1125.2 452.5L1123.2 449.7L1121.1 446.3L1119.0 442.3L1117.0 437.6L1114.9 432.3L1112.8 426.4L1110.8 419.9Z" fill="#3347f7"/><path d="M1110.8 385.1L1112.8 391.4L1114.9 397.1L1117.0 402.3L1119.0 406.8L1121.1 410.7L1123.2 414.0L1125.2 416.7L1127.3 418.9L1129.4 420.4L1131.4 421.3L1133.5 421.6L1135.5 421.3L1137.6 420.4L1139.7 418.9L1141.7 416.7L1143.8 414.0L1145.9 410.7L1147.9 406.8L1150.0 402.3L1152.1 397.1L1154.1 391.4L1156.2 385.1L1156.2 419.9L1154.1 426.4L1152.1 432.3L1150.0 437.6L1147.9 442.3L1145.9 446.3L1143.8 449.7L1141.7 452.5L1139.7 454.7L1137.6 456.3L1135.5 457.2L1133.5 457.5L1131.4 457.2L1129.4 456.3L1127.3 454.7L1125.2 452.5L1123.2 449.7L1121.1 446.3L1119.0 442.3L1117.0 437.6L1114.9 432.3L1112.8 426.4L1110.8 419.9Z" fill="#4b5cf8"/><path d="M1110.8 386.0L1112.8 392.4L1114.9 398.2L1117.0 403.4L1119.0 408.0L1121.1 411.9L1123.2 415.3L1125.2 418.0L1127.3 420.1L1129.4 421.7L1131.4 422.6L1133.5 422.9L1135.5 422.6L1137.6 421.7L1139.7 420.1L1141.7 418.0L1143.8 415.3L1145.9 411.9L1147.9 408.0L1150.0 403.4L1152.1 398.2L1154.1 392.4L1156.2 386.0L1156.2 419.9L1154.1 426.4L1152.1 432.3L1150.0 437.6L1147.9 442.3L1145.9 446.3L1143.8 449.7L1141.7 452.5L1139.7 454.7L1137.6 456.3L1135.5 457.2L1133.5 457.5L1131.4 457.2L1129.4 456.3L1127.3 454.7L1125.2 452.5L1123.2 449.7L1121.1 446.3L1119.0 442.3L1117.0 437.6L1114.9 432.3L1112.8 426.4L1110.8 419.9Z" fill="#6270f9"/><path d="M1110.8 387.0L1112.8 393.5L1114.9 399.3L1117.0 404.5L1119.0 409.1L1121.1 413.1L1123.2 416.5L1125.2 419.3L1127.3 421.4L1129.4 423.0L1131.4 423.9L1133.5 424.2L1135.5 423.9L1137.6 423.0L1139.7 421.4L1141.7 419.3L1143.8 416.5L1145.9 413.1L1147.9 409.1L1150.0 404.5L1152.1 399.3L1154.1 393.5L1156.2 387.0L1156.2 419.9L1154.1 426.4L1152.1 432.3L1150.0 437.6L1147.9 442.3L1145.9 446.3L1143.8 449.7L1141.7 452.5L1139.7 454.7L1137.6 456.3L1135.5 457.2L1133.5 457.5L1131.4 457.2L1129.4 456.3L1127.3 454.7L1125.2 452.5L1123.2 449.7L1121.1 446.3L1119.0 442.3L1117.0 437.6L1114.9 432.3L1112.8 426.4L1110.8 419.9Z" fill="#7a85fa"/><path d="M1110.8 388.0L1112.8 394.5L1114.9 400.4L1117.0 405.7L1119.0 410.3L1121.1 414.3L1123.2 417.8L1125.2 420.5L1127.3 422.7L1129.4 424.3L1131.4 425.2L1133.5 425.5L1135.5 425.2L1137.6 424.3L1139.7 422.7L1141.7 420.5L1143.8 417.8L1145.9 414.3L1147.9 410.3L1150.0 405.7L1152.1 400.4L1154.1 394.5L1156.2 388.0L1156.2 419.9L1154.1 426.4L1152.1 432.3L1150.0 437.6L1147.9 442.3L1145.9 446.3L1143.8 449.7L1141.7 452.5L1139.7 454.7L1137.6 456.3L1135.5 457.2L1133.5 457.5L1131.4 457.2L1129.4 456.3L1127.3 454.7L1125.2 452.5L1123.2 449.7L1121.1 446.3L1119.0 442.3L1117.0 437.6L1114.9 432.3L1112.8 426.4L1110.8 419.9Z" fill="#929bfa"/><path d="M1110.8 388.9L1112.8 395.5L1114.9 401.5L1117.0 406.8L1119.0 411.5L1121.1 415.5L1123.2 419.0L1125.2 421.8L1127.3 424.0L1129.4 425.6L1131.4 426.5L1133.5 426.8L1135.5 426.5L1137.6 425.6L1139.7 424.0L1141.7 421.8L1143.8 419.0L1145.9 415.5L1147.9 411.5L1150.0 406.8L1152.1 401.5L1154.1 395.5L1156.2 388.9L1156.2 419.9L1154.1 426.4L1152.1 432.3L1150.0 437.6L1147.9 442.3L1145.9 446.3L1143.8 449.7L1141.7 452.5L1139.7 454.7L1137.6 456.3L1135.5 457.2L1133.5 457.5L1131.4 457.2L1129.4 456.3L1127.3 454.7L1125.2 452.5L1123.2 449.7L1121.1 446.3L1119.0 442.3L1117.0 437.6L1114.9 432.3L1112.8 426.4L1110.8 419.9Z" fill="#adb3fc"/><path d="M1110.8 389.9L1112.8 396.5L1114.9 402.5L1117.0 407.9L1119.0 412.6L1121.1 416.8L1123.2 420.2L1125.2 423.1L1127.3 425.3L1129.4 426.9L1131.4 427.8L1133.5 428.1L1135.5 427.8L1137.6 426.9L1139.7 425.3L1141.7 423.1L1143.8 420.2L1145.9 416.8L1147.9 412.6L1150.0 407.9L1152.1 402.5L1154.1 396.5L1156.2 389.9L1156.2 419.9L1154.1 426.4L1152.1 432.3L1150.0 437.6L1147.9 442.3L1145.9 446.3L1143.8 449.7L1141.7 452.5L1139.7 454.7L1137.6 456.3L1135.5 457.2L1133.5 457.5L1131.4 457.2L1129.4 456.3L1127.3 454.7L1125.2 452.5L1123.2 449.7L1121.1 446.3L1119.0 442.3L1117.0 437.6L1114.9 432.3L1112.8 426.4L1110.8 419.9Z" fill="#c7cbfd"/><path d="M1110.8 390.9L1112.8 397.6L1114.9 403.6L1117.0 409.0L1119.0 413.8L1121.1 418.0L1123.2 421.5L1125.2 424.3L1127.3 426.6L1129.4 428.2L1131.4 429.1L1133.5 429.4L1135.5 429.1L1137.6 428.2L1139.7 426.6L1141.7 424.3L1143.8 421.5L1145.9 418.0L1147.9 413.8L1150.0 409.0L1152.1 403.6L1154.1 397.6L1156.2 390.9L1156.2 419.9L1154.1 426.4L1152.1 432.3L1150.0 437.6L1147.9 442.3L1145.9 446.3L1143.8 449.7L1141.7 452.5L1139.7 454.7L1137.6 456.3L1135.5 457.2L1133.5 457.5L1131.4 457.2L1129.4 456.3L1127.3 454.7L1125.2 452.5L1123.2 449.7L1121.1 446.3L1119.0 442.3L1117.0 437.6L1114.9 432.3L1112.8 426.4L1110.8 419.9Z" fill="#e1e4fe"/><path d="M1110.8 391.8L1112.8 398.6L1114.9 404.7L1117.0 410.2L1119.0 415.0L1121.1 419.2L1123.2 422.7L1125.2 425.6L1127.3 427.9L1129.4 429.5L1131.4 430.4L1133.5 430.8L1135.5 430.4L1137.6 429.5L1139.7 427.9L1141.7 425.6L1143.8 422.7L1145.9 419.2L1147.9 415.0L1150.0 410.2L1152.1 404.7L1154.1 398.6L1156.2 391.8L1156.2 419.9L1154.1 426.4L1152.1 432.3L1150.0 437.6L1147.9 442.3L1145.9 446.3L1143.8 449.7L1141.7 452.5L1139.7 454.7L1137.6 456.3L1135.5 457.2L1133.5 457.5L1131.4 457.2L1129.4 456.3L1127.3 454.7L1125.2 452.5L1123.2 449.7L1121.1 446.3L1119.0 442.3L1117.0 437.6L1114.9 432.3L1112.8 426.4L1110.8 419.9Z" fill="#fbfcff"/><path d="M1110.8 393.0L1112.8 399.8L1114.9 406.0L1117.0 411.5L1119.0 416.4L1121.1 420.6L1123.2 424.2L1125.2 427.1L1127.3 429.4L1129.4 431.0L1131.4 432.0L1133.5 432.3L1135.5 432.0L1137.6 431.0L1139.7 429.4L1141.7 427.1L1143.8 424.2L1145.9 420.6L1147.9 416.4L1150.0 411.5L1152.1 406.0L1154.1 399.8L1156.2 393.0L1156.2 419.9L1154.1 426.4L1152.1 432.3L1150.0 437.6L1147.9 442.3L1145.9 446.3L1143.8 449.7L1141.7 452.5L1139.7 454.7L1137.6 456.3L1135.5 457.2L1133.5 457.5L1131.4 457.2L1129.4 456.3L1127.3 454.7L1125.2 452.5L1123.2 449.7L1121.1 446.3L1119.0 442.3L1117.0 437.6L1114.9 432.3L1112.8 426.4L1110.8 419.9Z" fill="#ffe7ec"/><path d="M1110.8 394.4L1112.8 401.3L1114.9 407.6L1117.0 413.2L1119.0 418.1L1121.1 422.4L1123.2 426.0L1125.2 429.0L1127.3 431.3L1129.4 433.0L1131.4 433.9L1133.5 434.3L1135.5 433.9L1137.6 433.0L1139.7 431.3L1141.7 429.0L1143.8 426.0L1145.9 422.4L1147.9 418.1L1150.0 413.2L1152.1 407.6L1154.1 401.3L1156.2 394.4L1156.2 419.9L1154.1 426.4L1152.1 432.3L1150.0 437.6L1147.9 442.3L1145.9 446.3L1143.8 449.7L1141.7 452.5L1139.7 454.7L1137.6 456.3L1135.5 457.2L1133.5 457.5L1131.4 457.2L1129.4 456.3L1127.3 454.7L1125.2 452.5L1123.2 449.7L1121.1 446.3L1119.0 442.3L1117.0 437.6L1114.9 432.3L1112.8 426.4L1110.8 419.9Z" fill="#ffcbd5"/><path d="M1110.8 395.9L1112.8 402.9L1114.9 409.2L1117.0 414.9L1119.0 419.9L1121.1 424.2L1123.2 427.9L1125.2 430.9L1127.3 433.2L1129.4 434.9L1131.4 435.9L1133.5 436.2L1135.5 435.9L1137.6 434.9L1139.7 433.2L1141.7 430.9L1143.8 427.9L1145.9 424.2L1147.9 419.9L1150.0 414.9L1152.1 409.2L1154.1 402.9L1156.2 395.9L1156.2 419.9L1154.1 426.4L1152.1 432.3L1150.0 437.6L1147.9 442.3L1145.9 446.3L1143.8 449.7L1141.7 452.5L1139.7 454.7L1137.6 456.3L1135.5 457.2L1133.5 457.5L1131.4 457.2L1129.4 456.3L1127.3 454.7L1125.2 452.5L1123.2 449.7L1121.1 446.3L1119.0 442.3L1117.0 437.6L1114.9 432.3L1112.8 426.4L1110.8 419.9Z" fill="#ffb0bf"/><path d="M1110.8 397.3L1112.8 404.4L1114.9 410.8L1117.0 416.6L1119.0 421.6L1121.1 426.0L1123.2 429.8L1125.2 432.8L1127.3 435.2L1129.4 436.9L1131.4 437.9L1133.5 438.2L1135.5 437.9L1137.6 436.9L1139.7 435.2L1141.7 432.8L1143.8 429.8L1145.9 426.0L1147.9 421.6L1150.0 416.6L1152.1 410.8L1154.1 404.4L1156.2 397.3L1156.2 419.9L1154.1 426.4L1152.1 432.3L1150.0 437.6L1147.9 442.3L1145.9 446.3L1143.8 449.7L1141.7 452.5L1139.7 454.7L1137.6 456.3L1135.5 457.2L1133.5 457.5L1131.4 457.2L1129.4 456.3L1127.3 454.7L1125.2 452.5L1123.2 449.7L1121.1 446.3L1119.0 442.3L1117.0 437.6L1114.9 432.3L1112.8 426.4L1110.8 419.9Z" fill="#ff94a8"/><path d="M1110.8 398.7L1112.8 405.9L1114.9 412.4L1117.0 418.3L1119.0 423.4L1121.1 427.9L1123.2 431.6L1125.2 434.7L1127.3 437.1L1129.4 438.8L1131.4 439.8L1133.5 440.2L1135.5 439.8L1137.6 438.8L1139.7 437.1L1141.7 434.7L1143.8 431.6L1145.9 427.9L1147.9 423.4L1150.0 418.3L1152.1 412.4L1154.1 405.9L1156.2 398.7L1156.2 419.9L1154.1 426.4L1152.1 432.3L1150.0 437.6L1147.9 442.3L1145.9 446.3L1143.8 449.7L1141.7 452.5L1139.7 454.7L1137.6 456.3L1135.5 457.2L1133.5 457.5L1131.4 457.2L1129.4 456.3L1127.3 454.7L1125.2 452.5L1123.2 449.7L1121.1 446.3L1119.0 442.3L1117.0 437.6L1114.9 432.3L1112.8 426.4L1110.8 419.9Z" fill="#ff778f"/><path d="M1110.8 401.2L1112.8 408.6L1114.9 415.2L1117.0 421.2L1119.0 426.4L1121.1 431.0L1123.2 434.8L1125.2 438.0L1127.3 440.4L1129.4 442.2L1131.4 443.2L1133.5 443.6L1135.5 443.2L1137.6 442.2L1139.7 440.4L1141.7 438.0L1143.8 434.8L1145.9 431.0L1147.9 426.4L1150.0 421.2L1152.1 415.2L1154.1 408.6L1156.2 401.2L1156.2 419.9L1154.1 426.4L1152.1 432.3L1150.0 437.6L1147.9 442.3L1145.9 446.3L1143.8 449.7L1141.7 452.5L1139.7 454.7L1137.6 456.3L1135.5 457.2L1133.5 457.5L1131.4 457.2L1129.4 456.3L1127.3 454.7L1125.2 452.5L1123.2 449.7L1121.1 446.3L1119.0 442.3L1117.0 437.6L1114.9 432.3L1112.8 426.4L1110.8 419.9Z" fill="#ff5771"/><path d="M1110.8 404.0L1112.8 411.6L1114.9 418.4L1117.0 424.5L1119.0 429.8L1121.1 434.5L1123.2 438.4L1125.2 441.6L1127.3 444.2L1129.4 445.9L1131.4 447.0L1133.5 447.4L1135.5 447.0L1137.6 445.9L1139.7 444.2L1141.7 441.6L1143.8 438.4L1145.9 434.5L1147.9 429.8L1150.0 424.5L1152.1 418.4L1154.1 411.6L1156.2 404.0L1156.2 419.9L1154.1 426.4L1152.1 432.3L1150.0 437.6L1147.9 442.3L1145.9 446.3L1143.8 449.7L1141.7 452.5L1139.7 454.7L1137.6 456.3L1135.5 457.2L1133.5 457.5L1131.4 457.2L1129.4 456.3L1127.3 454.7L1125.2 452.5L1123.2 449.7L1121.1 446.3L1119.0 442.3L1117.0 437.6L1114.9 432.3L1112.8 426.4L1110.8 419.9Z" fill="#ff3654"/><path d="M1110.8 407.7L1112.8 415.4L1114.9 422.4L1117.0 428.7L1119.0 434.2L1121.1 439.0L1123.2 443.1L1125.2 446.4L1127.3 449.0L1129.4 450.8L1131.4 451.9L1133.5 452.3L1135.5 451.9L1137.6 450.8L1139.7 449.0L1141.7 446.4L1143.8 443.1L1145.9 439.0L1147.9 434.2L1150.0 428.7L1152.1 422.4L1154.1 415.4L1156.2 407.7L1156.2 419.9L1154.1 426.4L1152.1 432.3L1150.0 437.6L1147.9 442.3L1145.9 446.3L1143.8 449.7L1141.7 452.5L1139.7 454.7L1137.6 456.3L1135.5 457.2L1133.5 457.5L1131.4 457.2L1129.4 456.3L1127.3 454.7L1125.2 452.5L1123.2 449.7L1121.1 446.3L1119.0 442.3L1117.0 437.6L1114.9 432.3L1112.8 426.4L1110.8 419.9Z" fill="#ff1c31"/></g></g>
<rect x="1160.34" y="347.7" width="45.8" height="196.5" fill="#2c24a6"/>
<rect x="1163.54" y="347.7" width="39.4" height="196.5" fill="#1c32f6"/>
<rect x="1160.34" y="420.6" width="4.2" height="50.7" fill="#f5b48e"/>
<rect x="1201.94" y="420.6" width="4.2" height="50.7" fill="#a8d2f2"/>
<rect x="1164.54" y="420.6" width="37.4" height="50.7" fill="#1c32f6"/>
<g clip-path="url(#c8)"><g filter="url(#bl)"><path d="M1160.5 387.0L1205.9 387.0L1205.9 424.6L1160.5 424.6Z" fill="#3548f7"/><path d="M1160.5 391.8L1205.9 391.8L1205.9 424.6L1160.5 424.6Z" fill="#4e5ff8"/><path d="M1160.5 396.6L1205.9 396.6L1205.9 424.6L1160.5 424.6Z" fill="#6775f9"/><path d="M1160.5 401.4L1205.9 401.4L1205.9 424.6L1160.5 424.6Z" fill="#818bfa"/><path d="M1160.5 405.8L1205.9 405.8L1205.9 424.6L1160.5 424.6Z" fill="#9ca4fb"/><path d="M1160.5 410.0L1205.9 410.0L1205.9 424.6L1160.5 424.6Z" fill="#b8befc"/><path d="M1160.5 414.3L1205.9 414.3L1205.9 424.6L1160.5 424.6Z" fill="#d4d8fd"/><path d="M1160.5 418.5L1205.9 418.5L1205.9 424.6L1160.5 424.6Z" fill="#f1f2fe"/></g></g>
<rect x="712.5" y="580.4" width="45.8" height="195.8" fill="#2c24a6"/>
<rect x="715.7" y="580.4" width="39.4" height="195.8" fill="#1c32f6"/>
<rect x="712.5" y="651.9" width="4.2" height="50.6" fill="#f5b48e"/>
<rect x="754.1" y="651.9" width="4.2" height="50.6" fill="#a8d2f2"/>
<rect x="716.7" y="651.9" width="37.4" height="50.6" fill="#1c32f6"/>
<rect x="716.7" y="651.9" width="37.4" height="50.6" fill="#ff0000"/>
<rect x="762.26" y="580.4" width="45.8" height="195.8" fill="#2c24a6"/>
<rect x="765.46" y="580.4" width="39.4" height="195.8" fill="#1c32f6"/>
<rect x="762.26" y="651.9" width="4.2" height="50.6" fill="#f5b48e"/>
<rect x="803.86" y="651.9" width="4.2" height="50.6" fill="#a8d2f2"/>
<rect x="766.46" y="651.9" width="37.4" height="50.6" fill="#1c32f6"/>
<path d="M766.3 652.4L767.2 648.9L768.1 645.5L769.1 642.3L770.0 639.3L771.0 636.5L771.9 633.9L772.9 631.4L773.8 629.2L774.8 627.1L775.7 625.2L776.7 623.5L777.6 621.9L778.5 620.5L779.5 619.4L780.4 618.4L781.4 617.6L782.3 616.9L783.3 616.5L784.2 616.2L785.2 616.1L786.1 616.2L787.0 616.5L788.0 616.9L788.9 617.6L789.9 618.4L790.8 619.4L791.8 620.5L792.7 621.9L793.7 623.5L794.6 625.2L795.6 627.1L796.5 629.2L797.4 631.4L798.4 633.9L799.3 636.5L800.3 639.3L801.2 642.3L802.2 645.5L803.1 648.9L804.1 652.4Z" fill="#ff0000"/>
<rect x="766.46" y="651.9" width="37.4" height="50.6" fill="#ff0000"/>
<path d="M766.3 702.5L767.2 698.8L768.1 695.3L769.1 692.0L770.0 688.9L771.0 686.0L771.9 683.3L772.9 680.7L773.8 678.4L774.8 676.2L775.7 674.2L776.7 672.4L777.6 670.8L778.5 669.4L779.5 668.2L780.4 667.2L781.4 666.3L782.3 665.6L783.3 665.2L784.2 664.9L785.2 664.8L786.1 664.9L787.0 665.2L788.0 665.6L788.9 666.3L789.9 667.2L790.8 668.2L791.8 669.4L792.7 670.8L793.7 672.4L794.6 674.2L795.6 676.2L796.5 678.4L797.4 680.7L798.4 683.3L799.3 686.0L800.3 688.9L801.2 692.0L802.2 695.3L803.1 698.8L804.1 702.5Z" fill="#1c32f6"/>
<path d="M766.3 702.5L767.2 698.8L768.1 695.3L769.1 692.0L770.0 688.9L771.0 686.0L771.9 683.3L772.9 680.7L773.8 678.4L774.8 676.2L775.7 674.2L776.7 672.4L777.6 670.8L778.5 669.4L779.5 668.2L780.4 667.2L781.4 666.3L782.3 665.6L783.3 665.2L784.2 664.9L785.2 664.8L786.1 664.9L787.0 665.2L788.0 665.6L788.9 666.3L789.9 667.2L790.8 668.2L791.8 669.4L792.7 670.8L793.7 672.4L794.6 674.2L795.6 676.2L796.5 678.4L797.4 680.7L798.4 683.3L799.3 686.0L800.3 688.9L801.2 692.0L802.2 695.3L803.1 698.8L804.1 702.5" fill="none" stroke="#f8c8d8" stroke-width="0.8" stroke-opacity="0.5"/>
<rect x="812.02" y="580.4" width="45.8" height="195.8" fill="#2c24a6"/>
<rect x="815.22" y="580.4" width="39.4" height="195.8" fill="#1c32f6"/>
<rect x="812.02" y="651.9" width="4.2" height="50.6" fill="#f5b48e"/>
<rect x="853.62" y="651.9" width="4.2" height="50.6" fill="#a8d2f2"/>
<rect x="816.22" y="651.9" width="37.4" height="50.6" fill="#1c32f6"/>
<g clip-path="url(#c9)"><g filter="url(#bl)"><path d="M812.2 617.4L857.6 617.4L857.6 655.9L812.2 655.9Z" fill="#3447f7"/><path d="M812.2 617.7L857.6 617.7L857.6 655.9L812.2 655.9Z" fill="#4c5cf8"/><path d="M812.2 618.0L857.6 618.0L857.6 655.9L812.2 655.9Z" fill="#6371f9"/><path d="M812.2 618.3L857.6 618.3L857.6 655.9L812.2 655.9Z" fill="#7b86fa"/><path d="M812.2 618.6L857.6 618.6L857.6 655.9L812.2 655.9Z" fill="#949dfb"/><path d="M812.2 619.0L857.6 619.0L857.6 655.9L812.2 655.9Z" fill="#afb6fc"/><path d="M812.2 620.3L857.6 620.3L857.6 655.9L812.2 655.9Z" fill="#cacefd"/><path d="M812.2 621.5L857.6 621.5L857.6 655.9L812.2 655.9Z" fill="#e4e7fe"/><path d="M812.2 622.8L857.6 622.8L857.6 655.9L812.2 655.9Z" fill="#ffffff"/><path d="M812.2 624.4L857.6 624.4L857.6 655.9L812.2 655.9Z" fill="#ffe3e8"/><path d="M812.2 626.5L857.6 626.5L857.6 655.9L812.2 655.9Z" fill="#ffc7d1"/><path d="M812.2 628.5L857.6 628.5L857.6 655.9L812.2 655.9Z" fill="#ffaaba"/><path d="M812.2 630.6L857.6 630.6L857.6 655.9L812.2 655.9Z" fill="#ff8ea3"/><path d="M812.2 632.6L857.6 632.6L857.6 655.9L812.2 655.9Z" fill="#ff7089"/><path d="M812.2 636.4L857.6 636.4L857.6 655.9L812.2 655.9Z" fill="#ff4f6a"/><path d="M812.2 640.2L857.6 640.2L857.6 655.9L812.2 655.9Z" fill="#ff2f4c"/><path d="M812.2 644.2L857.6 644.2L857.6 655.9L812.2 655.9Z" fill="#ff1627"/><path d="M812.2 648.7L857.6 648.7L857.6 655.9L812.2 655.9Z" fill="#ff0000"/></g></g>
<rect x="816.22" y="651.9" width="37.4" height="50.6" fill="#ff0000"/>
<rect x="861.78" y="580.4" width="45.8" height="195.8" fill="#2c24a6"/>
<rect x="864.98" y="580.4" width="39.4" height="195.8" fill="#1c32f6"/>
<rect x="861.78" y="651.9" width="4.2" height="50.6" fill="#f5b48e"/>
<rect x="903.38" y="651.9" width="4.2" height="50.6" fill="#a8d2f2"/>
<rect x="865.98" y="651.9" width="37.4" height="50.6" fill="#1c32f6"/>
<g clip-path="url(#c10)"><g filter="url(#bl)"><path d="M862.0 641.3L864.0 630.4L866.1 620.6L868.2 611.8L870.2 604.1L872.3 597.4L874.4 591.7L876.4 587.0L878.5 583.4L880.6 580.8L882.6 579.3L884.7 578.8L886.7 579.3L888.8 580.8L890.9 583.4L892.9 587.0L895.0 591.7L897.1 597.4L899.1 604.1L901.2 611.8L903.3 620.6L905.3 630.4L907.4 641.3L907.4 655.9L905.3 655.9L903.3 655.9L901.2 655.9L899.1 655.9L897.1 655.9L895.0 655.9L892.9 655.9L890.9 655.9L888.8 655.9L886.7 655.9L884.7 655.9L882.6 655.9L880.6 655.9L878.5 655.9L876.4 655.9L874.4 655.9L872.3 655.9L870.2 655.9L868.2 655.9L866.1 655.9L864.0 655.9L862.0 655.9Z" fill="#3447f7"/><path d="M862.0 641.3L864.0 630.5L866.1 620.8L868.2 612.0L870.2 604.3L872.3 597.6L874.4 592.0L876.4 587.3L878.5 583.7L880.6 581.2L882.6 579.6L884.7 579.1L886.7 579.6L888.8 581.2L890.9 583.7L892.9 587.3L895.0 592.0L897.1 597.6L899.1 604.3L901.2 612.0L903.3 620.8L905.3 630.5L907.4 641.3L907.4 655.9L905.3 655.9L903.3 655.9L901.2 655.9L899.1 655.9L897.1 655.9L895.0 655.9L892.9 655.9L890.9 655.9L888.8 655.9L886.7 655.9L884.7 655.9L882.6 655.9L880.6 655.9L878.5 655.9L876.4 655.9L874.4 655.9L872.3 655.9L870.2 655.9L868.2 655.9L866.1 655.9L864.0 655.9L862.0 655.9Z" fill="#4c5cf8"/><path d="M862.0 641.4L864.0 630.6L866.1 620.9L868.2 612.2L870.2 604.5L872.3 597.9L874.4 592.2L876.4 587.6L878.5 584.0L880.6 581.5L882.6 579.9L884.7 579.4L886.7 579.9L888.8 581.5L890.9 584.0L892.9 587.6L895.0 592.2L897.1 597.9L899.1 604.5L901.2 612.2L903.3 620.9L905.3 630.6L907.4 641.4L907.4 655.9L905.3 655.9L903.3 655.9L901.2 655.9L899.1 655.9L897.1 655.9L895.0 655.9L892.9 655.9L890.9 655.9L888.8 655.9L886.7 655.9L884.7 655.9L882.6 655.9L880.6 655.9L878.5 655.9L876.4 655.9L874.4 655.9L872.3 655.9L870.2 655.9L868.2 655.9L866.1 655.9L864.0 655.9L862.0 655.9Z" fill="#6371f9"/><path d="M862.0 641.4L864.0 630.7L866.1 621.0L868.2 612.4L870.2 604.7L872.3 598.1L874.4 592.5L876.4 587.9L878.5 584.4L880.6 581.8L882.6 580.3L884.7 579.8L886.7 580.3L888.8 581.8L890.9 584.4L892.9 587.9L895.0 592.5L897.1 598.1L899.1 604.7L901.2 612.4L903.3 621.0L905.3 630.7L907.4 641.4L907.4 655.9L905.3 655.9L903.3 655.9L901.2 655.9L899.1 655.9L897.1 655.9L895.0 655.9L892.9 655.9L890.9 655.9L888.8 655.9L886.7 655.9L884.7 655.9L882.6 655.9L880.6 655.9L878.5 655.9L876.4 655.9L874.4 655.9L872.3 655.9L870.2 655.9L868.2 655.9L866.1 655.9L864.0 655.9L862.0 655.9Z" fill="#7b86fa"/><path d="M862.0 641.5L864.0 630.8L866.1 621.2L868.2 612.6L870.2 605.0L872.3 598.4L874.4 592.8L876.4 588.2L878.5 584.7L880.6 582.1L882.6 580.6L884.7 580.1L886.7 580.6L888.8 582.1L890.9 584.7L892.9 588.2L895.0 592.8L897.1 598.4L899.1 605.0L901.2 612.6L903.3 621.2L905.3 630.8L907.4 641.5L907.4 655.9L905.3 655.9L903.3 655.9L901.2 655.9L899.1 655.9L897.1 655.9L895.0 655.9L892.9 655.9L890.9 655.9L888.8 655.9L886.7 655.9L884.7 655.9L882.6 655.9L880.6 655.9L878.5 655.9L876.4 655.9L874.4 655.9L872.3 655.9L870.2 655.9L868.2 655.9L866.1 655.9L864.0 655.9L862.0 655.9Z" fill="#949dfb"/><path d="M862.0 641.5L864.0 630.9L866.1 621.3L868.2 612.7L870.2 605.2L872.3 598.6L874.4 593.1L876.4 588.5L878.5 585.0L880.6 582.5L882.6 580.9L884.7 580.4L886.7 580.9L888.8 582.5L890.9 585.0L892.9 588.5L895.0 593.1L897.1 598.6L899.1 605.2L901.2 612.7L903.3 621.3L905.3 630.9L907.4 641.5L907.4 655.9L905.3 655.9L903.3 655.9L901.2 655.9L899.1 655.9L897.1 655.9L895.0 655.9L892.9 655.9L890.9 655.9L888.8 655.9L886.7 655.9L884.7 655.9L882.6 655.9L880.6 655.9L878.5 655.9L876.4 655.9L874.4 655.9L872.3 655.9L870.2 655.9L868.2 655.9L866.1 655.9L864.0 655.9L862.0 655.9Z" fill="#afb6fc"/><path d="M862.0 641.6L864.0 631.0L866.1 621.5L868.2 612.9L870.2 605.4L872.3 598.9L874.4 593.3L876.4 588.8L878.5 585.3L880.6 582.8L882.6 581.3L884.7 580.8L886.7 581.3L888.8 582.8L890.9 585.3L892.9 588.8L895.0 593.3L897.1 598.9L899.1 605.4L901.2 612.9L903.3 621.5L905.3 631.0L907.4 641.6L907.4 655.9L905.3 655.9L903.3 655.9L901.2 655.9L899.1 655.9L897.1 655.9L895.0 655.9L892.9 655.9L890.9 655.9L888.8 655.9L886.7 655.9L884.7 655.9L882.6 655.9L880.6 655.9L878.5 655.9L876.4 655.9L874.4 655.9L872.3 655.9L870.2 655.9L868.2 655.9L866.1 655.9L864.0 655.9L862.0 655.9Z" fill="#cacefd"/><path d="M862.0 641.6L864.0 631.1L866.1 621.6L868.2 613.1L870.2 605.6L872.3 599.1L874.4 593.6L876.4 589.1L878.5 585.6L880.6 583.1L882.6 581.6L884.7 581.1L886.7 581.6L888.8 583.1L890.9 585.6L892.9 589.1L895.0 593.6L897.1 599.1L899.1 605.6L901.2 613.1L903.3 621.6L905.3 631.1L907.4 641.6L907.4 655.9L905.3 655.9L903.3 655.9L901.2 655.9L899.1 655.9L897.1 655.9L895.0 655.9L892.9 655.9L890.9 655.9L888.8 655.9L886.7 655.9L884.7 655.9L882.6 655.9L880.6 655.9L878.5 655.9L876.4 655.9L874.4 655.9L872.3 655.9L870.2 655.9L868.2 655.9L866.1 655.9L864.0 655.9L862.0 655.9Z" fill="#e4e7fe"/><path d="M862.0 641.7L864.0 631.2L866.1 621.8L868.2 613.3L870.2 605.8L872.3 599.4L874.4 593.9L876.4 589.4L878.5 585.9L880.6 583.4L882.6 581.9L884.7 581.4L886.7 581.9L888.8 583.4L890.9 585.9L892.9 589.4L895.0 593.9L897.1 599.4L899.1 605.8L901.2 613.3L903.3 621.8L905.3 631.2L907.4 641.7L907.4 655.9L905.3 655.9L903.3 655.9L901.2 655.9L899.1 655.9L897.1 655.9L895.0 655.9L892.9 655.9L890.9 655.9L888.8 655.9L886.7 655.9L884.7 655.9L882.6 655.9L880.6 655.9L878.5 655.9L876.4 655.9L874.4 655.9L872.3 655.9L870.2 655.9L868.2 655.9L866.1 655.9L864.0 655.9L862.0 655.9Z" fill="#ffffff"/><path d="M862.0 641.9L864.0 631.7L866.1 622.5L868.2 614.2L870.2 606.9L872.3 600.6L874.4 595.2L876.4 590.9L878.5 587.5L880.6 585.0L882.6 583.6L884.7 583.1L886.7 583.6L888.8 585.0L890.9 587.5L892.9 590.9L895.0 595.2L897.1 600.6L899.1 606.9L901.2 614.2L903.3 622.5L905.3 631.7L907.4 641.9L907.4 655.9L905.3 655.9L903.3 655.9L901.2 655.9L899.1 655.9L897.1 655.9L895.0 655.9L892.9 655.9L890.9 655.9L888.8 655.9L886.7 655.9L884.7 655.9L882.6 655.9L880.6 655.9L878.5 655.9L876.4 655.9L874.4 655.9L872.3 655.9L870.2 655.9L868.2 655.9L866.1 655.9L864.0 655.9L862.0 655.9Z" fill="#ffe3e8"/><path d="M862.0 642.3L864.0 632.5L866.1 623.7L868.2 615.8L870.2 608.9L872.3 602.8L874.4 597.7L876.4 593.5L878.5 590.3L880.6 588.0L882.6 586.6L884.7 586.1L886.7 586.6L888.8 588.0L890.9 590.3L892.9 593.5L895.0 597.7L897.1 602.8L899.1 608.9L901.2 615.8L903.3 623.7L905.3 632.5L907.4 642.3L907.4 655.9L905.3 655.9L903.3 655.9L901.2 655.9L899.1 655.9L897.1 655.9L895.0 655.9L892.9 655.9L890.9 655.9L888.8 655.9L886.7 655.9L884.7 655.9L882.6 655.9L880.6 655.9L878.5 655.9L876.4 655.9L874.4 655.9L872.3 655.9L870.2 655.9L868.2 655.9L866.1 655.9L864.0 655.9L862.0 655.9Z" fill="#ffc7d1"/><path d="M862.0 642.7L864.0 633.4L866.1 625.0L868.2 617.5L870.2 610.8L872.3 605.1L874.4 600.2L876.4 596.2L878.5 593.1L880.6 590.9L882.6 589.5L884.7 589.1L886.7 589.5L888.8 590.9L890.9 593.1L892.9 596.2L895.0 600.2L897.1 605.1L899.1 610.8L901.2 617.5L903.3 625.0L905.3 633.4L907.4 642.7L907.4 655.9L905.3 655.9L903.3 655.9L901.2 655.9L899.1 655.9L897.1 655.9L895.0 655.9L892.9 655.9L890.9 655.9L888.8 655.9L886.7 655.9L884.7 655.9L882.6 655.9L880.6 655.9L878.5 655.9L876.4 655.9L874.4 655.9L872.3 655.9L870.2 655.9L868.2 655.9L866.1 655.9L864.0 655.9L862.0 655.9Z" fill="#ffaaba"/><path d="M862.0 643.1L864.0 634.3L866.1 626.3L868.2 619.1L870.2 612.8L872.3 607.3L874.4 602.6L876.4 598.8L878.5 595.9L880.6 593.8L882.6 592.5L884.7 592.1L886.7 592.5L888.8 593.8L890.9 595.9L892.9 598.8L895.0 602.6L897.1 607.3L899.1 612.8L901.2 619.1L903.3 626.3L905.3 634.3L907.4 643.1L907.4 655.9L905.3 655.9L903.3 655.9L901.2 655.9L899.1 655.9L897.1 655.9L895.0 655.9L892.9 655.9L890.9 655.9L888.8 655.9L886.7 655.9L884.7 655.9L882.6 655.9L880.6 655.9L878.5 655.9L876.4 655.9L874.4 655.9L872.3 655.9L870.2 655.9L868.2 655.9L866.1 655.9L864.0 655.9L862.0 655.9Z" fill="#ff8ea3"/><path d="M862.0 643.5L864.0 635.1L866.1 627.5L868.2 620.7L870.2 614.7L872.3 609.5L874.4 605.1L876.4 601.5L878.5 598.7L880.6 596.7L882.6 595.5L884.7 595.1L886.7 595.5L888.8 596.7L890.9 598.7L892.9 601.5L895.0 605.1L897.1 609.5L899.1 614.7L901.2 620.7L903.3 627.5L905.3 635.1L907.4 643.5L907.4 655.9L905.3 655.9L903.3 655.9L901.2 655.9L899.1 655.9L897.1 655.9L895.0 655.9L892.9 655.9L890.9 655.9L888.8 655.9L886.7 655.9L884.7 655.9L882.6 655.9L880.6 655.9L878.5 655.9L876.4 655.9L874.4 655.9L872.3 655.9L870.2 655.9L868.2 655.9L866.1 655.9L864.0 655.9L862.0 655.9Z" fill="#ff7089"/><path d="M862.0 644.1L864.0 636.2L866.1 629.2L868.2 622.8L870.2 617.2L872.3 612.4L874.4 608.3L876.4 604.9L878.5 602.3L880.6 600.5L882.6 599.4L884.7 599.0L886.7 599.4L888.8 600.5L890.9 602.3L892.9 604.9L895.0 608.3L897.1 612.4L899.1 617.2L901.2 622.8L903.3 629.2L905.3 636.2L907.4 644.1L907.4 655.9L905.3 655.9L903.3 655.9L901.2 655.9L899.1 655.9L897.1 655.9L895.0 655.9L892.9 655.9L890.9 655.9L888.8 655.9L886.7 655.9L884.7 655.9L882.6 655.9L880.6 655.9L878.5 655.9L876.4 655.9L874.4 655.9L872.3 655.9L870.2 655.9L868.2 655.9L866.1 655.9L864.0 655.9L862.0 655.9Z" fill="#ff4f6a"/><path d="M862.0 644.6L864.0 637.4L866.1 630.8L868.2 624.9L870.2 619.8L872.3 615.3L874.4 611.5L876.4 608.4L878.5 606.0L880.6 604.3L882.6 603.2L884.7 602.9L886.7 603.2L888.8 604.3L890.9 606.0L892.9 608.4L895.0 611.5L897.1 615.3L899.1 619.8L901.2 624.9L903.3 630.8L905.3 637.4L907.4 644.6L907.4 655.9L905.3 655.9L903.3 655.9L901.2 655.9L899.1 655.9L897.1 655.9L895.0 655.9L892.9 655.9L890.9 655.9L888.8 655.9L886.7 655.9L884.7 655.9L882.6 655.9L880.6 655.9L878.5 655.9L876.4 655.9L874.4 655.9L872.3 655.9L870.2 655.9L868.2 655.9L866.1 655.9L864.0 655.9L862.0 655.9Z" fill="#ff2f4c"/><path d="M862.0 645.2L864.0 638.5L866.1 632.5L868.2 627.1L870.2 622.4L872.3 618.3L874.4 614.8L876.4 612.0L878.5 609.8L880.6 608.2L882.6 607.2L884.7 606.9L886.7 607.2L888.8 608.2L890.9 609.8L892.9 612.0L895.0 614.8L897.1 618.3L899.1 622.4L901.2 627.1L903.3 632.5L905.3 638.5L907.4 645.2L907.4 655.9L905.3 655.9L903.3 655.9L901.2 655.9L899.1 655.9L897.1 655.9L895.0 655.9L892.9 655.9L890.9 655.9L888.8 655.9L886.7 655.9L884.7 655.9L882.6 655.9L880.6 655.9L878.5 655.9L876.4 655.9L874.4 655.9L872.3 655.9L870.2 655.9L868.2 655.9L866.1 655.9L864.0 655.9L862.0 655.9Z" fill="#ff1627"/><path d="M862.0 645.8L864.0 639.8L866.1 634.4L868.2 629.6L870.2 625.3L872.3 621.6L874.4 618.5L876.4 615.9L878.5 613.9L880.6 612.5L882.6 611.7L884.7 611.4L886.7 611.7L888.8 612.5L890.9 613.9L892.9 615.9L895.0 618.5L897.1 621.6L899.1 625.3L901.2 629.6L903.3 634.4L905.3 639.8L907.4 645.8L907.4 655.9L905.3 655.9L903.3 655.9L901.2 655.9L899.1 655.9L897.1 655.9L895.0 655.9L892.9 655.9L890.9 655.9L888.8 655.9L886.7 655.9L884.7 655.9L882.6 655.9L880.6 655.9L878.5 655.9L876.4 655.9L874.4 655.9L872.3 655.9L870.2 655.9L868.2 655.9L866.1 655.9L864.0 655.9L862.0 655.9Z" fill="#ff0000"/></g></g>
<rect x="865.98" y="651.9" width="37.4" height="50.6" fill="#ff0000"/>
<path d="M866.3 702.5L867.2 698.8L868.1 695.4L869.0 692.1L870.0 689.0L870.9 686.0L871.8 683.3L872.7 680.8L873.6 678.4L874.6 676.3L875.5 674.3L876.4 672.5L877.3 670.9L878.2 669.5L879.2 668.3L880.1 667.2L881.0 666.4L881.9 665.7L882.8 665.3L883.8 665.0L884.7 664.9L885.6 665.0L886.5 665.3L887.4 665.7L888.4 666.4L889.3 667.2L890.2 668.3L891.1 669.5L892.0 670.9L893.0 672.5L893.9 674.3L894.8 676.3L895.7 678.4L896.6 680.8L897.6 683.3L898.5 686.0L899.4 689.0L900.3 692.1L901.2 695.4L902.2 698.8L903.1 702.5Z" fill="#1c32f6"/>
<path d="M866.3 702.5L867.2 698.8L868.1 695.4L869.0 692.1L870.0 689.0L870.9 686.0L871.8 683.3L872.7 680.8L873.6 678.4L874.6 676.3L875.5 674.3L876.4 672.5L877.3 670.9L878.2 669.5L879.2 668.3L880.1 667.2L881.0 666.4L881.9 665.7L882.8 665.3L883.8 665.0L884.7 664.9L885.6 665.0L886.5 665.3L887.4 665.7L888.4 666.4L889.3 667.2L890.2 668.3L891.1 669.5L892.0 670.9L893.0 672.5L893.9 674.3L894.8 676.3L895.7 678.4L896.6 680.8L897.6 683.3L898.5 686.0L899.4 689.0L900.3 692.1L901.2 695.4L902.2 698.8L903.1 702.5" fill="none" stroke="#f8c8d8" stroke-width="0.8" stroke-opacity="0.5"/>
<rect x="911.54" y="580.4" width="45.8" height="195.8" fill="#2c24a6"/>
<rect x="914.74" y="580.4" width="39.4" height="195.8" fill="#1c32f6"/>
<rect x="911.54" y="651.9" width="4.2" height="50.6" fill="#f5b48e"/>
<rect x="953.14" y="651.9" width="4.2" height="50.6" fill="#a8d2f2"/>
<rect x="915.74" y="651.9" width="37.4" height="50.6" fill="#1c32f6"/>
<g clip-path="url(#c11)"><g filter="url(#bl)"><path d="M911.7 585.5L957.1 585.5L957.1 655.9L911.7 655.9Z" fill="#3447f7"/><path d="M911.7 587.2L957.1 587.2L957.1 655.9L911.7 655.9Z" fill="#4c5cf8"/><path d="M911.7 588.9L957.1 588.9L957.1 655.9L911.7 655.9Z" fill="#6371f9"/><path d="M911.7 590.6L957.1 590.6L957.1 655.9L911.7 655.9Z" fill="#7b86fa"/><path d="M911.7 592.3L957.1 592.3L957.1 655.9L911.7 655.9Z" fill="#949dfb"/><path d="M911.7 594.1L957.1 594.1L957.1 655.9L911.7 655.9Z" fill="#afb6fc"/><path d="M911.7 596.6L957.1 596.6L957.1 655.9L911.7 655.9Z" fill="#cacefd"/><path d="M911.7 599.2L957.1 599.2L957.1 655.9L911.7 655.9Z" fill="#e4e7fe"/><path d="M911.7 601.7L957.1 601.7L957.1 655.9L911.7 655.9Z" fill="#ffffff"/><path d="M911.7 604.0L957.1 604.0L957.1 655.9L911.7 655.9Z" fill="#ffe3e8"/><path d="M911.7 606.1L957.1 606.1L957.1 655.9L911.7 655.9Z" fill="#ffc7d1"/><path d="M911.7 608.1L957.1 608.1L957.1 655.9L911.7 655.9Z" fill="#ffaaba"/><path d="M911.7 610.2L957.1 610.2L957.1 655.9L911.7 655.9Z" fill="#ff8ea3"/><path d="M911.7 612.2L957.1 612.2L957.1 655.9L911.7 655.9Z" fill="#ff7089"/><path d="M911.7 615.2L957.1 615.2L957.1 655.9L911.7 655.9Z" fill="#ff4f6a"/><path d="M911.7 618.2L957.1 618.2L957.1 655.9L911.7 655.9Z" fill="#ff2f4c"/><path d="M911.7 621.7L957.1 621.7L957.1 655.9L911.7 655.9Z" fill="#ff1627"/><path d="M911.7 626.2L957.1 626.2L957.1 655.9L911.7 655.9Z" fill="#ff0000"/></g></g>
<rect x="915.74" y="651.9" width="37.4" height="50.6" fill="#ff0000"/>
<rect x="961.3" y="580.4" width="45.8" height="195.8" fill="#2c24a6"/>
<rect x="964.5" y="580.4" width="39.4" height="195.8" fill="#1c32f6"/>
<rect x="961.3" y="651.9" width="4.2" height="50.6" fill="#f5b48e"/>
<rect x="1002.9" y="651.9" width="4.2" height="50.6" fill="#a8d2f2"/>
<rect x="965.5" y="651.9" width="37.4" height="50.6" fill="#1c32f6"/>
<g clip-path="url(#c12)"><g filter="url(#bl)"><path d="M961.5 585.2L1006.9 585.2L1006.9 655.9L961.5 655.9Z" fill="#3447f7"/><path d="M961.5 586.9L1006.9 586.9L1006.9 655.9L961.5 655.9Z" fill="#4c5cf8"/><path d="M961.5 588.7L1006.9 588.7L1006.9 655.9L961.5 655.9Z" fill="#6371f9"/><path d="M961.5 590.5L1006.9 590.5L1006.9 655.9L961.5 655.9Z" fill="#7b86fa"/><path d="M961.5 592.2L1006.9 592.2L1006.9 655.9L961.5 655.9Z" fill="#949dfb"/><path d="M961.5 594.1L1006.9 594.1L1006.9 655.9L961.5 655.9Z" fill="#afb6fc"/><path d="M961.5 596.6L1006.9 596.6L1006.9 655.9L961.5 655.9Z" fill="#cacefd"/><path d="M961.5 599.2L1006.9 599.2L1006.9 655.9L961.5 655.9Z" fill="#e4e7fe"/><path d="M961.5 601.7L1006.9 601.7L1006.9 655.9L961.5 655.9Z" fill="#ffffff"/><path d="M961.5 604.0L1006.9 604.0L1006.9 655.9L961.5 655.9Z" fill="#ffe3e8"/><path d="M961.5 606.1L1006.9 606.1L1006.9 655.9L961.5 655.9Z" fill="#ffc7d1"/><path d="M961.5 608.2L1006.9 608.2L1006.9 655.9L961.5 655.9Z" fill="#ffaaba"/><path d="M961.5 610.2L1006.9 610.2L1006.9 655.9L961.5 655.9Z" fill="#ff8ea3"/><path d="M961.5 612.3L1006.9 612.3L1006.9 655.9L961.5 655.9Z" fill="#ff7089"/><path d="M961.5 615.3L1006.9 615.3L1006.9 655.9L961.5 655.9Z" fill="#ff4f6a"/><path d="M961.5 618.2L1006.9 618.2L1006.9 655.9L961.5 655.9Z" fill="#ff2f4c"/><path d="M961.5 621.6L1006.9 621.6L1006.9 655.9L961.5 655.9Z" fill="#ff1627"/><path d="M961.5 626.1L1006.9 626.1L1006.9 655.9L961.5 655.9Z" fill="#ff0000"/></g></g>
<rect x="1011.06" y="580.4" width="45.8" height="195.8" fill="#2c24a6"/>
<rect x="1014.26" y="580.4" width="39.4" height="195.8" fill="#1c32f6"/>
<rect x="1011.06" y="651.9" width="4.2" height="50.6" fill="#f5b48e"/>
<rect x="1052.66" y="651.9" width="4.2" height="50.6" fill="#a8d2f2"/>
<rect x="1015.26" y="651.9" width="37.4" height="50.6" fill="#1c32f6"/>
<g clip-path="url(#c13)"><g filter="url(#bl)"><path d="M1011.3 583.0L1013.3 590.5L1015.4 597.3L1017.5 603.3L1019.5 608.7L1021.6 613.3L1023.6 617.2L1025.7 620.4L1027.8 622.9L1029.8 624.7L1031.9 625.8L1034.0 626.1L1036.0 625.8L1038.1 624.7L1040.2 622.9L1042.2 620.4L1044.3 617.2L1046.3 613.3L1048.4 608.7L1050.5 603.3L1052.5 597.3L1054.6 590.5L1056.7 583.0L1056.7 643.5L1054.6 651.3L1052.5 658.5L1050.5 664.9L1048.4 670.5L1046.3 675.4L1044.3 679.5L1042.2 682.9L1040.2 685.5L1038.1 687.4L1036.0 688.5L1034.0 688.9L1031.9 688.5L1029.8 687.4L1027.8 685.5L1025.7 682.9L1023.6 679.5L1021.6 675.4L1019.5 670.5L1017.5 664.9L1015.4 658.5L1013.3 651.3L1011.3 643.5Z" fill="#3447f7"/><path d="M1011.3 584.1L1013.3 591.6L1015.4 598.4L1017.5 604.6L1019.5 610.0L1021.6 614.6L1023.6 618.6L1025.7 621.8L1027.8 624.3L1029.8 626.1L1031.9 627.2L1034.0 627.6L1036.0 627.2L1038.1 626.1L1040.2 624.3L1042.2 621.8L1044.3 618.6L1046.3 614.6L1048.4 610.0L1050.5 604.6L1052.5 598.4L1054.6 591.6L1056.7 584.1L1056.7 643.5L1054.6 651.3L1052.5 658.5L1050.5 664.9L1048.4 670.5L1046.3 675.4L1044.3 679.5L1042.2 682.9L1040.2 685.5L1038.1 687.4L1036.0 688.5L1034.0 688.9L1031.9 688.5L1029.8 687.4L1027.8 685.5L1025.7 682.9L1023.6 679.5L1021.6 675.4L1019.5 670.5L1017.5 664.9L1015.4 658.5L1013.3 651.3L1011.3 643.5Z" fill="#4c5cf8"/><path d="M1011.3 585.1L1013.3 592.7L1015.4 599.6L1017.5 605.8L1019.5 611.2L1021.6 616.0L1023.6 619.9L1025.7 623.2L1027.8 625.7L1029.8 627.6L1031.9 628.6L1034.0 629.0L1036.0 628.6L1038.1 627.6L1040.2 625.7L1042.2 623.2L1044.3 619.9L1046.3 616.0L1048.4 611.2L1050.5 605.8L1052.5 599.6L1054.6 592.7L1056.7 585.1L1056.7 643.5L1054.6 651.3L1052.5 658.5L1050.5 664.9L1048.4 670.5L1046.3 675.4L1044.3 679.5L1042.2 682.9L1040.2 685.5L1038.1 687.4L1036.0 688.5L1034.0 688.9L1031.9 688.5L1029.8 687.4L1027.8 685.5L1025.7 682.9L1023.6 679.5L1021.6 675.4L1019.5 670.5L1017.5 664.9L1015.4 658.5L1013.3 651.3L1011.3 643.5Z" fill="#6371f9"/><path d="M1011.3 586.2L1013.3 593.9L1015.4 600.8L1017.5 607.0L1019.5 612.5L1021.6 617.3L1023.6 621.3L1025.7 624.6L1027.8 627.2L1029.8 629.0L1031.9 630.1L1034.0 630.5L1036.0 630.1L1038.1 629.0L1040.2 627.2L1042.2 624.6L1044.3 621.3L1046.3 617.3L1048.4 612.5L1050.5 607.0L1052.5 600.8L1054.6 593.9L1056.7 586.2L1056.7 643.5L1054.6 651.3L1052.5 658.5L1050.5 664.9L1048.4 670.5L1046.3 675.4L1044.3 679.5L1042.2 682.9L1040.2 685.5L1038.1 687.4L1036.0 688.5L1034.0 688.9L1031.9 688.5L1029.8 687.4L1027.8 685.5L1025.7 682.9L1023.6 679.5L1021.6 675.4L1019.5 670.5L1017.5 664.9L1015.4 658.5L1013.3 651.3L1011.3 643.5Z" fill="#7b86fa"/><path d="M1011.3 587.2L1013.3 595.0L1015.4 602.0L1017.5 608.3L1019.5 613.8L1021.6 618.6L1023.6 622.7L1025.7 626.0L1027.8 628.6L1029.8 630.4L1031.9 631.5L1034.0 631.9L1036.0 631.5L1038.1 630.4L1040.2 628.6L1042.2 626.0L1044.3 622.7L1046.3 618.6L1048.4 613.8L1050.5 608.3L1052.5 602.0L1054.6 595.0L1056.7 587.2L1056.7 643.5L1054.6 651.3L1052.5 658.5L1050.5 664.9L1048.4 670.5L1046.3 675.4L1044.3 679.5L1042.2 682.9L1040.2 685.5L1038.1 687.4L1036.0 688.5L1034.0 688.9L1031.9 688.5L1029.8 687.4L1027.8 685.5L1025.7 682.9L1023.6 679.5L1021.6 675.4L1019.5 670.5L1017.5 664.9L1015.4 658.5L1013.3 651.3L1011.3 643.5Z" fill="#949dfb"/><path d="M1011.3 588.3L1013.3 596.1L1015.4 603.2L1017.5 609.5L1019.5 615.1L1021.6 619.9L1023.6 624.0L1025.7 627.4L1027.8 630.0L1029.8 631.9L1031.9 633.0L1034.0 633.3L1036.0 633.0L1038.1 631.9L1040.2 630.0L1042.2 627.4L1044.3 624.0L1046.3 619.9L1048.4 615.1L1050.5 609.5L1052.5 603.2L1054.6 596.1L1056.7 588.3L1056.7 643.5L1054.6 651.3L1052.5 658.5L1050.5 664.9L1048.4 670.5L1046.3 675.4L1044.3 679.5L1042.2 682.9L1040.2 685.5L1038.1 687.4L1036.0 688.5L1034.0 688.9L1031.9 688.5L1029.8 687.4L1027.8 685.5L1025.7 682.9L1023.6 679.5L1021.6 675.4L1019.5 670.5L1017.5 664.9L1015.4 658.5L1013.3 651.3L1011.3 643.5Z" fill="#afb6fc"/><path d="M1011.3 589.4L1013.3 597.3L1015.4 604.4L1017.5 610.8L1019.5 616.4L1021.6 621.3L1023.6 625.4L1025.7 628.8L1027.8 631.4L1029.8 633.3L1031.9 634.4L1034.0 634.8L1036.0 634.4L1038.1 633.3L1040.2 631.4L1042.2 628.8L1044.3 625.4L1046.3 621.3L1048.4 616.4L1050.5 610.8L1052.5 604.4L1054.6 597.3L1056.7 589.4L1056.7 643.5L1054.6 651.3L1052.5 658.5L1050.5 664.9L1048.4 670.5L1046.3 675.4L1044.3 679.5L1042.2 682.9L1040.2 685.5L1038.1 687.4L1036.0 688.5L1034.0 688.9L1031.9 688.5L1029.8 687.4L1027.8 685.5L1025.7 682.9L1023.6 679.5L1021.6 675.4L1019.5 670.5L1017.5 664.9L1015.4 658.5L1013.3 651.3L1011.3 643.5Z" fill="#cacefd"/><path d="M1011.3 590.4L1013.3 598.4L1015.4 605.6L1017.5 612.0L1019.5 617.7L1021.6 622.6L1023.6 626.8L1025.7 630.2L1027.8 632.8L1029.8 634.7L1031.9 635.9L1034.0 636.2L1036.0 635.9L1038.1 634.7L1040.2 632.8L1042.2 630.2L1044.3 626.8L1046.3 622.6L1048.4 617.7L1050.5 612.0L1052.5 605.6L1054.6 598.4L1056.7 590.4L1056.7 643.5L1054.6 651.3L1052.5 658.5L1050.5 664.9L1048.4 670.5L1046.3 675.4L1044.3 679.5L1042.2 682.9L1040.2 685.5L1038.1 687.4L1036.0 688.5L1034.0 688.9L1031.9 688.5L1029.8 687.4L1027.8 685.5L1025.7 682.9L1023.6 679.5L1021.6 675.4L1019.5 670.5L1017.5 664.9L1015.4 658.5L1013.3 651.3L1011.3 643.5Z" fill="#e4e7fe"/><path d="M1011.3 591.5L1013.3 599.5L1015.4 606.8L1017.5 613.2L1019.5 619.0L1021.6 623.9L1023.6 628.1L1025.7 631.6L1027.8 634.2L1029.8 636.2L1031.9 637.3L1034.0 637.7L1036.0 637.3L1038.1 636.2L1040.2 634.2L1042.2 631.6L1044.3 628.1L1046.3 623.9L1048.4 619.0L1050.5 613.2L1052.5 606.8L1054.6 599.5L1056.7 591.5L1056.7 643.5L1054.6 651.3L1052.5 658.5L1050.5 664.9L1048.4 670.5L1046.3 675.4L1044.3 679.5L1042.2 682.9L1040.2 685.5L1038.1 687.4L1036.0 688.5L1034.0 688.9L1031.9 688.5L1029.8 687.4L1027.8 685.5L1025.7 682.9L1023.6 679.5L1021.6 675.4L1019.5 670.5L1017.5 664.9L1015.4 658.5L1013.3 651.3L1011.3 643.5Z" fill="#ffffff"/><path d="M1011.3 592.7L1013.3 600.8L1015.4 608.1L1017.5 614.6L1019.5 620.4L1021.6 625.4L1023.6 629.7L1025.7 633.1L1027.8 635.8L1029.8 637.7L1031.9 638.9L1034.0 639.3L1036.0 638.9L1038.1 637.7L1040.2 635.8L1042.2 633.1L1044.3 629.7L1046.3 625.4L1048.4 620.4L1050.5 614.6L1052.5 608.1L1054.6 600.8L1056.7 592.7L1056.7 643.5L1054.6 651.3L1052.5 658.5L1050.5 664.9L1048.4 670.5L1046.3 675.4L1044.3 679.5L1042.2 682.9L1040.2 685.5L1038.1 687.4L1036.0 688.5L1034.0 688.9L1031.9 688.5L1029.8 687.4L1027.8 685.5L1025.7 682.9L1023.6 679.5L1021.6 675.4L1019.5 670.5L1017.5 664.9L1015.4 658.5L1013.3 651.3L1011.3 643.5Z" fill="#ffe3e8"/><path d="M1011.3 594.0L1013.3 602.2L1015.4 609.5L1017.5 616.2L1019.5 622.0L1021.6 627.1L1023.6 631.3L1025.7 634.8L1027.8 637.6L1029.8 639.5L1031.9 640.7L1034.0 641.1L1036.0 640.7L1038.1 639.5L1040.2 637.6L1042.2 634.8L1044.3 631.3L1046.3 627.1L1048.4 622.0L1050.5 616.2L1052.5 609.5L1054.6 602.2L1056.7 594.0L1056.7 643.5L1054.6 651.3L1052.5 658.5L1050.5 664.9L1048.4 670.5L1046.3 675.4L1044.3 679.5L1042.2 682.9L1040.2 685.5L1038.1 687.4L1036.0 688.5L1034.0 688.9L1031.9 688.5L1029.8 687.4L1027.8 685.5L1025.7 682.9L1023.6 679.5L1021.6 675.4L1019.5 670.5L1017.5 664.9L1015.4 658.5L1013.3 651.3L1011.3 643.5Z" fill="#ffc7d1"/><path d="M1011.3 595.3L1013.3 603.5L1015.4 611.0L1017.5 617.7L1019.5 623.6L1021.6 628.7L1023.6 633.0L1025.7 636.6L1027.8 639.3L1029.8 641.3L1031.9 642.5L1034.0 642.8L1036.0 642.5L1038.1 641.3L1040.2 639.3L1042.2 636.6L1044.3 633.0L1046.3 628.7L1048.4 623.6L1050.5 617.7L1052.5 611.0L1054.6 603.5L1056.7 595.3L1056.7 643.5L1054.6 651.3L1052.5 658.5L1050.5 664.9L1048.4 670.5L1046.3 675.4L1044.3 679.5L1042.2 682.9L1040.2 685.5L1038.1 687.4L1036.0 688.5L1034.0 688.9L1031.9 688.5L1029.8 687.4L1027.8 685.5L1025.7 682.9L1023.6 679.5L1021.6 675.4L1019.5 670.5L1017.5 664.9L1015.4 658.5L1013.3 651.3L1011.3 643.5Z" fill="#ffaaba"/><path d="M1011.3 596.6L1013.3 604.9L1015.4 612.5L1017.5 619.2L1019.5 625.2L1021.6 630.3L1023.6 634.7L1025.7 638.3L1027.8 641.0L1029.8 643.0L1031.9 644.2L1034.0 644.6L1036.0 644.2L1038.1 643.0L1040.2 641.0L1042.2 638.3L1044.3 634.7L1046.3 630.3L1048.4 625.2L1050.5 619.2L1052.5 612.5L1054.6 604.9L1056.7 596.6L1056.7 643.5L1054.6 651.3L1052.5 658.5L1050.5 664.9L1048.4 670.5L1046.3 675.4L1044.3 679.5L1042.2 682.9L1040.2 685.5L1038.1 687.4L1036.0 688.5L1034.0 688.9L1031.9 688.5L1029.8 687.4L1027.8 685.5L1025.7 682.9L1023.6 679.5L1021.6 675.4L1019.5 670.5L1017.5 664.9L1015.4 658.5L1013.3 651.3L1011.3 643.5Z" fill="#ff8ea3"/><path d="M1011.3 597.9L1013.3 606.3L1015.4 613.9L1017.5 620.7L1019.5 626.8L1021.6 632.0L1023.6 636.4L1025.7 640.0L1027.8 642.8L1029.8 644.8L1031.9 646.0L1034.0 646.4L1036.0 646.0L1038.1 644.8L1040.2 642.8L1042.2 640.0L1044.3 636.4L1046.3 632.0L1048.4 626.8L1050.5 620.7L1052.5 613.9L1054.6 606.3L1056.7 597.9L1056.7 643.5L1054.6 651.3L1052.5 658.5L1050.5 664.9L1048.4 670.5L1046.3 675.4L1044.3 679.5L1042.2 682.9L1040.2 685.5L1038.1 687.4L1036.0 688.5L1034.0 688.9L1031.9 688.5L1029.8 687.4L1027.8 685.5L1025.7 682.9L1023.6 679.5L1021.6 675.4L1019.5 670.5L1017.5 664.9L1015.4 658.5L1013.3 651.3L1011.3 643.5Z" fill="#ff7089"/><path d="M1011.3 599.5L1013.3 608.1L1015.4 615.8L1017.5 622.7L1019.5 628.7L1021.6 634.0L1023.6 638.5L1025.7 642.1L1027.8 645.0L1029.8 647.0L1031.9 648.2L1034.0 648.6L1036.0 648.2L1038.1 647.0L1040.2 645.0L1042.2 642.1L1044.3 638.5L1046.3 634.0L1048.4 628.7L1050.5 622.7L1052.5 615.8L1054.6 608.1L1056.7 599.5L1056.7 643.5L1054.6 651.3L1052.5 658.5L1050.5 664.9L1048.4 670.5L1046.3 675.4L1044.3 679.5L1042.2 682.9L1040.2 685.5L1038.1 687.4L1036.0 688.5L1034.0 688.9L1031.9 688.5L1029.8 687.4L1027.8 685.5L1025.7 682.9L1023.6 679.5L1021.6 675.4L1019.5 670.5L1017.5 664.9L1015.4 658.5L1013.3 651.3L1011.3 643.5Z" fill="#ff4f6a"/><path d="M1011.3 601.2L1013.3 609.8L1015.4 617.6L1017.5 624.6L1019.5 630.7L1021.6 636.1L1023.6 640.6L1025.7 644.3L1027.8 647.1L1029.8 649.2L1031.9 650.4L1034.0 650.8L1036.0 650.4L1038.1 649.2L1040.2 647.1L1042.2 644.3L1044.3 640.6L1046.3 636.1L1048.4 630.7L1050.5 624.6L1052.5 617.6L1054.6 609.8L1056.7 601.2L1056.7 643.5L1054.6 651.3L1052.5 658.5L1050.5 664.9L1048.4 670.5L1046.3 675.4L1044.3 679.5L1042.2 682.9L1040.2 685.5L1038.1 687.4L1036.0 688.5L1034.0 688.9L1031.9 688.5L1029.8 687.4L1027.8 685.5L1025.7 682.9L1023.6 679.5L1021.6 675.4L1019.5 670.5L1017.5 664.9L1015.4 658.5L1013.3 651.3L1011.3 643.5Z" fill="#ff2f4c"/><path d="M1011.3 603.0L1013.3 611.8L1015.4 619.7L1017.5 626.8L1019.5 633.0L1021.6 638.4L1023.6 643.0L1025.7 646.7L1027.8 649.7L1029.8 651.7L1031.9 653.0L1034.0 653.4L1036.0 653.0L1038.1 651.7L1040.2 649.7L1042.2 646.7L1044.3 643.0L1046.3 638.4L1048.4 633.0L1050.5 626.8L1052.5 619.7L1054.6 611.8L1056.7 603.0L1056.7 643.5L1054.6 651.3L1052.5 658.5L1050.5 664.9L1048.4 670.5L1046.3 675.4L1044.3 679.5L1042.2 682.9L1040.2 685.5L1038.1 687.4L1036.0 688.5L1034.0 688.9L1031.9 688.5L1029.8 687.4L1027.8 685.5L1025.7 682.9L1023.6 679.5L1021.6 675.4L1019.5 670.5L1017.5 664.9L1015.4 658.5L1013.3 651.3L1011.3 643.5Z" fill="#ff1627"/><path d="M1011.3 605.5L1013.3 614.4L1015.4 622.4L1017.5 629.6L1019.5 636.0L1021.6 641.5L1023.6 646.1L1025.7 650.0L1027.8 652.9L1029.8 655.0L1031.9 656.3L1034.0 656.7L1036.0 656.3L1038.1 655.0L1040.2 652.9L1042.2 650.0L1044.3 646.1L1046.3 641.5L1048.4 636.0L1050.5 629.6L1052.5 622.4L1054.6 614.4L1056.7 605.5L1056.7 643.5L1054.6 651.3L1052.5 658.5L1050.5 664.9L1048.4 670.5L1046.3 675.4L1044.3 679.5L1042.2 682.9L1040.2 685.5L1038.1 687.4L1036.0 688.5L1034.0 688.9L1031.9 688.5L1029.8 687.4L1027.8 685.5L1025.7 682.9L1023.6 679.5L1021.6 675.4L1019.5 670.5L1017.5 664.9L1015.4 658.5L1013.3 651.3L1011.3 643.5Z" fill="#ff0000"/></g></g>
<rect x="1060.82" y="580.4" width="45.8" height="195.8" fill="#2c24a6"/>
<rect x="1064.02" y="580.4" width="39.4" height="195.8" fill="#1c32f6"/>
<rect x="1060.82" y="651.9" width="4.2" height="50.6" fill="#f5b48e"/>
<rect x="1102.42" y="651.9" width="4.2" height="50.6" fill="#a8d2f2"/>
<rect x="1065.02" y="651.9" width="37.4" height="50.6" fill="#1c32f6"/>
<g clip-path="url(#c14)"><g filter="url(#bl)"><path d="M1061.0 610.6L1063.1 611.0L1065.1 611.4L1067.2 611.8L1069.3 612.1L1071.3 612.4L1073.4 612.6L1075.5 612.8L1077.5 612.9L1079.6 613.1L1081.7 613.1L1083.7 613.1L1085.8 613.1L1087.8 613.1L1089.9 612.9L1092.0 612.8L1094.0 612.6L1096.1 612.4L1098.2 612.1L1100.2 611.8L1102.3 611.4L1104.4 611.0L1106.4 610.6L1106.4 655.9L1104.4 655.9L1102.3 655.9L1100.2 655.9L1098.2 655.9L1096.1 655.9L1094.0 655.9L1092.0 655.9L1089.9 655.9L1087.8 655.9L1085.8 655.9L1083.7 655.9L1081.7 655.9L1079.6 655.9L1077.5 655.9L1075.5 655.9L1073.4 655.9L1071.3 655.9L1069.3 655.9L1067.2 655.9L1065.1 655.9L1063.1 655.9L1061.0 655.9Z" fill="#3347f7"/><path d="M1061.0 611.8L1063.1 612.3L1065.1 612.7L1067.2 613.1L1069.3 613.4L1071.3 613.6L1073.4 613.9L1075.5 614.1L1077.5 614.2L1079.6 614.3L1081.7 614.4L1083.7 614.4L1085.8 614.4L1087.8 614.3L1089.9 614.2L1092.0 614.1L1094.0 613.9L1096.1 613.6L1098.2 613.4L1100.2 613.1L1102.3 612.7L1104.4 612.3L1106.4 611.8L1106.4 655.9L1104.4 655.9L1102.3 655.9L1100.2 655.9L1098.2 655.9L1096.1 655.9L1094.0 655.9L1092.0 655.9L1089.9 655.9L1087.8 655.9L1085.8 655.9L1083.7 655.9L1081.7 655.9L1079.6 655.9L1077.5 655.9L1075.5 655.9L1073.4 655.9L1071.3 655.9L1069.3 655.9L1067.2 655.9L1065.1 655.9L1063.1 655.9L1061.0 655.9Z" fill="#4b5cf8"/><path d="M1061.0 613.1L1063.1 613.6L1065.1 614.0L1067.2 614.3L1069.3 614.6L1071.3 614.9L1073.4 615.2L1075.5 615.4L1077.5 615.5L1079.6 615.6L1081.7 615.7L1083.7 615.7L1085.8 615.7L1087.8 615.6L1089.9 615.5L1092.0 615.4L1094.0 615.2L1096.1 614.9L1098.2 614.6L1100.2 614.3L1102.3 614.0L1104.4 613.6L1106.4 613.1L1106.4 655.9L1104.4 655.9L1102.3 655.9L1100.2 655.9L1098.2 655.9L1096.1 655.9L1094.0 655.9L1092.0 655.9L1089.9 655.9L1087.8 655.9L1085.8 655.9L1083.7 655.9L1081.7 655.9L1079.6 655.9L1077.5 655.9L1075.5 655.9L1073.4 655.9L1071.3 655.9L1069.3 655.9L1067.2 655.9L1065.1 655.9L1063.1 655.9L1061.0 655.9Z" fill="#6270f9"/><path d="M1061.0 614.4L1063.1 614.8L1065.1 615.2L1067.2 615.6L1069.3 615.9L1071.3 616.2L1073.4 616.4L1075.5 616.6L1077.5 616.8L1079.6 616.9L1081.7 616.9L1083.7 617.0L1085.8 616.9L1087.8 616.9L1089.9 616.8L1092.0 616.6L1094.0 616.4L1096.1 616.2L1098.2 615.9L1100.2 615.6L1102.3 615.2L1104.4 614.8L1106.4 614.4L1106.4 655.9L1104.4 655.9L1102.3 655.9L1100.2 655.9L1098.2 655.9L1096.1 655.9L1094.0 655.9L1092.0 655.9L1089.9 655.9L1087.8 655.9L1085.8 655.9L1083.7 655.9L1081.7 655.9L1079.6 655.9L1077.5 655.9L1075.5 655.9L1073.4 655.9L1071.3 655.9L1069.3 655.9L1067.2 655.9L1065.1 655.9L1063.1 655.9L1061.0 655.9Z" fill="#7a85fa"/><path d="M1061.0 615.7L1063.1 616.1L1065.1 616.5L1067.2 616.9L1069.3 617.2L1071.3 617.5L1073.4 617.7L1075.5 617.9L1077.5 618.1L1079.6 618.2L1081.7 618.2L1083.7 618.2L1085.8 618.2L1087.8 618.2L1089.9 618.1L1092.0 617.9L1094.0 617.7L1096.1 617.5L1098.2 617.2L1100.2 616.9L1102.3 616.5L1104.4 616.1L1106.4 615.7L1106.4 655.9L1104.4 655.9L1102.3 655.9L1100.2 655.9L1098.2 655.9L1096.1 655.9L1094.0 655.9L1092.0 655.9L1089.9 655.9L1087.8 655.9L1085.8 655.9L1083.7 655.9L1081.7 655.9L1079.6 655.9L1077.5 655.9L1075.5 655.9L1073.4 655.9L1071.3 655.9L1069.3 655.9L1067.2 655.9L1065.1 655.9L1063.1 655.9L1061.0 655.9Z" fill="#929bfa"/><path d="M1061.0 617.0L1063.1 617.4L1065.1 617.8L1067.2 618.2L1069.3 618.5L1071.3 618.8L1073.4 619.0L1075.5 619.2L1077.5 619.3L1079.6 619.4L1081.7 619.5L1083.7 619.5L1085.8 619.5L1087.8 619.4L1089.9 619.3L1092.0 619.2L1094.0 619.0L1096.1 618.8L1098.2 618.5L1100.2 618.2L1102.3 617.8L1104.4 617.4L1106.4 617.0L1106.4 655.9L1104.4 655.9L1102.3 655.9L1100.2 655.9L1098.2 655.9L1096.1 655.9L1094.0 655.9L1092.0 655.9L1089.9 655.9L1087.8 655.9L1085.8 655.9L1083.7 655.9L1081.7 655.9L1079.6 655.9L1077.5 655.9L1075.5 655.9L1073.4 655.9L1071.3 655.9L1069.3 655.9L1067.2 655.9L1065.1 655.9L1063.1 655.9L1061.0 655.9Z" fill="#adb3fc"/><path d="M1061.0 618.9L1063.1 619.3L1065.1 619.7L1067.2 620.1L1069.3 620.4L1071.3 620.7L1073.4 620.9L1075.5 621.1L1077.5 621.3L1079.6 621.4L1081.7 621.4L1083.7 621.4L1085.8 621.4L1087.8 621.4L1089.9 621.3L1092.0 621.1L1094.0 620.9L1096.1 620.7L1098.2 620.4L1100.2 620.1L1102.3 619.7L1104.4 619.3L1106.4 618.9L1106.4 655.9L1104.4 655.9L1102.3 655.9L1100.2 655.9L1098.2 655.9L1096.1 655.9L1094.0 655.9L1092.0 655.9L1089.9 655.9L1087.8 655.9L1085.8 655.9L1083.7 655.9L1081.7 655.9L1079.6 655.9L1077.5 655.9L1075.5 655.9L1073.4 655.9L1071.3 655.9L1069.3 655.9L1067.2 655.9L1065.1 655.9L1063.1 655.9L1061.0 655.9Z" fill="#c7cbfd"/><path d="M1061.0 620.8L1063.1 621.2L1065.1 621.6L1067.2 622.0L1069.3 622.3L1071.3 622.6L1073.4 622.8L1075.5 623.0L1077.5 623.2L1079.6 623.3L1081.7 623.3L1083.7 623.4L1085.8 623.3L1087.8 623.3L1089.9 623.2L1092.0 623.0L1094.0 622.8L1096.1 622.6L1098.2 622.3L1100.2 622.0L1102.3 621.6L1104.4 621.2L1106.4 620.8L1106.4 655.9L1104.4 655.9L1102.3 655.9L1100.2 655.9L1098.2 655.9L1096.1 655.9L1094.0 655.9L1092.0 655.9L1089.9 655.9L1087.8 655.9L1085.8 655.9L1083.7 655.9L1081.7 655.9L1079.6 655.9L1077.5 655.9L1075.5 655.9L1073.4 655.9L1071.3 655.9L1069.3 655.9L1067.2 655.9L1065.1 655.9L1063.1 655.9L1061.0 655.9Z" fill="#e1e4fe"/><path d="M1061.0 622.7L1063.1 623.1L1065.1 623.6L1067.2 623.9L1069.3 624.2L1071.3 624.5L1073.4 624.7L1075.5 624.9L1077.5 625.1L1079.6 625.2L1081.7 625.3L1083.7 625.3L1085.8 625.3L1087.8 625.2L1089.9 625.1L1092.0 624.9L1094.0 624.7L1096.1 624.5L1098.2 624.2L1100.2 623.9L1102.3 623.6L1104.4 623.1L1106.4 622.7L1106.4 655.9L1104.4 655.9L1102.3 655.9L1100.2 655.9L1098.2 655.9L1096.1 655.9L1094.0 655.9L1092.0 655.9L1089.9 655.9L1087.8 655.9L1085.8 655.9L1083.7 655.9L1081.7 655.9L1079.6 655.9L1077.5 655.9L1075.5 655.9L1073.4 655.9L1071.3 655.9L1069.3 655.9L1067.2 655.9L1065.1 655.9L1063.1 655.9L1061.0 655.9Z" fill="#fbfcff"/><path d="M1061.0 624.6L1063.1 625.1L1065.1 625.5L1067.2 625.9L1069.3 626.2L1071.3 626.5L1073.4 626.7L1075.5 626.9L1077.5 627.0L1079.6 627.1L1081.7 627.2L1083.7 627.2L1085.8 627.2L1087.8 627.1L1089.9 627.0L1092.0 626.9L1094.0 626.7L1096.1 626.5L1098.2 626.2L1100.2 625.9L1102.3 625.5L1104.4 625.1L1106.4 624.6L1106.4 655.9L1104.4 655.9L1102.3 655.9L1100.2 655.9L1098.2 655.9L1096.1 655.9L1094.0 655.9L1092.0 655.9L1089.9 655.9L1087.8 655.9L1085.8 655.9L1083.7 655.9L1081.7 655.9L1079.6 655.9L1077.5 655.9L1075.5 655.9L1073.4 655.9L1071.3 655.9L1069.3 655.9L1067.2 655.9L1065.1 655.9L1063.1 655.9L1061.0 655.9Z" fill="#ffe7ec"/><path d="M1061.0 626.6L1063.1 627.1L1065.1 627.5L1067.2 627.8L1069.3 628.2L1071.3 628.4L1073.4 628.7L1075.5 628.9L1077.5 629.0L1079.6 629.1L1081.7 629.2L1083.7 629.2L1085.8 629.2L1087.8 629.1L1089.9 629.0L1092.0 628.9L1094.0 628.7L1096.1 628.4L1098.2 628.2L1100.2 627.8L1102.3 627.5L1104.4 627.1L1106.4 626.6L1106.4 655.9L1104.4 655.9L1102.3 655.9L1100.2 655.9L1098.2 655.9L1096.1 655.9L1094.0 655.9L1092.0 655.9L1089.9 655.9L1087.8 655.9L1085.8 655.9L1083.7 655.9L1081.7 655.9L1079.6 655.9L1077.5 655.9L1075.5 655.9L1073.4 655.9L1071.3 655.9L1069.3 655.9L1067.2 655.9L1065.1 655.9L1063.1 655.9L1061.0 655.9Z" fill="#ffcbd5"/><path d="M1061.0 628.6L1063.1 629.1L1065.1 629.5L1067.2 629.8L1069.3 630.2L1071.3 630.4L1073.4 630.7L1075.5 630.9L1077.5 631.0L1079.6 631.1L1081.7 631.2L1083.7 631.2L1085.8 631.2L1087.8 631.1L1089.9 631.0L1092.0 630.9L1094.0 630.7L1096.1 630.4L1098.2 630.2L1100.2 629.8L1102.3 629.5L1104.4 629.1L1106.4 628.6L1106.4 655.9L1104.4 655.9L1102.3 655.9L1100.2 655.9L1098.2 655.9L1096.1 655.9L1094.0 655.9L1092.0 655.9L1089.9 655.9L1087.8 655.9L1085.8 655.9L1083.7 655.9L1081.7 655.9L1079.6 655.9L1077.5 655.9L1075.5 655.9L1073.4 655.9L1071.3 655.9L1069.3 655.9L1067.2 655.9L1065.1 655.9L1063.1 655.9L1061.0 655.9Z" fill="#ffb0bf"/><path d="M1061.0 630.6L1063.1 631.1L1065.1 631.5L1067.2 631.8L1069.3 632.1L1071.3 632.4L1073.4 632.7L1075.5 632.8L1077.5 633.0L1079.6 633.1L1081.7 633.2L1083.7 633.2L1085.8 633.2L1087.8 633.1L1089.9 633.0L1092.0 632.8L1094.0 632.7L1096.1 632.4L1098.2 632.1L1100.2 631.8L1102.3 631.5L1104.4 631.1L1106.4 630.6L1106.4 655.9L1104.4 655.9L1102.3 655.9L1100.2 655.9L1098.2 655.9L1096.1 655.9L1094.0 655.9L1092.0 655.9L1089.9 655.9L1087.8 655.9L1085.8 655.9L1083.7 655.9L1081.7 655.9L1079.6 655.9L1077.5 655.9L1075.5 655.9L1073.4 655.9L1071.3 655.9L1069.3 655.9L1067.2 655.9L1065.1 655.9L1063.1 655.9L1061.0 655.9Z" fill="#ff94a8"/><path d="M1061.0 633.1L1063.1 633.5L1065.1 633.9L1067.2 634.3L1069.3 634.6L1071.3 634.9L1073.4 635.1L1075.5 635.3L1077.5 635.5L1079.6 635.6L1081.7 635.6L1083.7 635.7L1085.8 635.6L1087.8 635.6L1089.9 635.5L1092.0 635.3L1094.0 635.1L1096.1 634.9L1098.2 634.6L1100.2 634.3L1102.3 633.9L1104.4 633.5L1106.4 633.1L1106.4 655.9L1104.4 655.9L1102.3 655.9L1100.2 655.9L1098.2 655.9L1096.1 655.9L1094.0 655.9L1092.0 655.9L1089.9 655.9L1087.8 655.9L1085.8 655.9L1083.7 655.9L1081.7 655.9L1079.6 655.9L1077.5 655.9L1075.5 655.9L1073.4 655.9L1071.3 655.9L1069.3 655.9L1067.2 655.9L1065.1 655.9L1063.1 655.9L1061.0 655.9Z" fill="#ff778f"/><path d="M1061.0 636.5L1063.1 636.9L1065.1 637.4L1067.2 637.7L1069.3 638.0L1071.3 638.3L1073.4 638.5L1075.5 638.7L1077.5 638.9L1079.6 639.0L1081.7 639.1L1083.7 639.1L1085.8 639.1L1087.8 639.0L1089.9 638.9L1092.0 638.7L1094.0 638.5L1096.1 638.3L1098.2 638.0L1100.2 637.7L1102.3 637.4L1104.4 636.9L1106.4 636.5L1106.4 655.9L1104.4 655.9L1102.3 655.9L1100.2 655.9L1098.2 655.9L1096.1 655.9L1094.0 655.9L1092.0 655.9L1089.9 655.9L1087.8 655.9L1085.8 655.9L1083.7 655.9L1081.7 655.9L1079.6 655.9L1077.5 655.9L1075.5 655.9L1073.4 655.9L1071.3 655.9L1069.3 655.9L1067.2 655.9L1065.1 655.9L1063.1 655.9L1061.0 655.9Z" fill="#ff5771"/><path d="M1061.0 639.9L1063.1 640.4L1065.1 640.8L1067.2 641.1L1069.3 641.5L1071.3 641.7L1073.4 642.0L1075.5 642.2L1077.5 642.3L1079.6 642.4L1081.7 642.5L1083.7 642.5L1085.8 642.5L1087.8 642.4L1089.9 642.3L1092.0 642.2L1094.0 642.0L1096.1 641.7L1098.2 641.5L1100.2 641.1L1102.3 640.8L1104.4 640.4L1106.4 639.9L1106.4 655.9L1104.4 655.9L1102.3 655.9L1100.2 655.9L1098.2 655.9L1096.1 655.9L1094.0 655.9L1092.0 655.9L1089.9 655.9L1087.8 655.9L1085.8 655.9L1083.7 655.9L1081.7 655.9L1079.6 655.9L1077.5 655.9L1075.5 655.9L1073.4 655.9L1071.3 655.9L1069.3 655.9L1067.2 655.9L1065.1 655.9L1063.1 655.9L1061.0 655.9Z" fill="#ff3654"/><path d="M1061.0 645.1L1063.1 645.5L1065.1 645.9L1067.2 646.3L1069.3 646.6L1071.3 646.9L1073.4 647.1L1075.5 647.3L1077.5 647.5L1079.6 647.6L1081.7 647.6L1083.7 647.7L1085.8 647.6L1087.8 647.6L1089.9 647.5L1092.0 647.3L1094.0 647.1L1096.1 646.9L1098.2 646.6L1100.2 646.3L1102.3 645.9L1104.4 645.5L1106.4 645.1L1106.4 655.9L1104.4 655.9L1102.3 655.9L1100.2 655.9L1098.2 655.9L1096.1 655.9L1094.0 655.9L1092.0 655.9L1089.9 655.9L1087.8 655.9L1085.8 655.9L1083.7 655.9L1081.7 655.9L1079.6 655.9L1077.5 655.9L1075.5 655.9L1073.4 655.9L1071.3 655.9L1069.3 655.9L1067.2 655.9L1065.1 655.9L1063.1 655.9L1061.0 655.9Z" fill="#ff1c31"/></g></g>
<rect x="1110.58" y="580.4" width="45.8" height="195.8" fill="#2c24a6"/>
<rect x="1113.78" y="580.4" width="39.4" height="195.8" fill="#1c32f6"/>
<rect x="1110.58" y="651.9" width="4.2" height="50.6" fill="#f5b48e"/>
<rect x="1152.18" y="651.9" width="4.2" height="50.6" fill="#a8d2f2"/>
<rect x="1114.78" y="651.9" width="37.4" height="50.6" fill="#1c32f6"/>
<g clip-path="url(#c15)"><g filter="url(#bl)"><path d="M1110.8 615.4L1112.8 621.7L1114.9 627.4L1117.0 632.4L1119.0 636.9L1121.1 640.8L1123.2 644.1L1125.2 646.8L1127.3 648.9L1129.4 650.4L1131.4 651.3L1133.5 651.6L1135.5 651.3L1137.6 650.4L1139.7 648.9L1141.7 646.8L1143.8 644.1L1145.9 640.8L1147.9 636.9L1150.0 632.4L1152.1 627.4L1154.1 621.7L1156.2 615.4L1156.2 651.2L1154.1 657.7L1152.1 663.6L1150.0 668.9L1147.9 673.6L1145.9 677.6L1143.8 681.0L1141.7 683.8L1139.7 686.0L1137.6 687.6L1135.5 688.5L1133.5 688.8L1131.4 688.5L1129.4 687.6L1127.3 686.0L1125.2 683.8L1123.2 681.0L1121.1 677.6L1119.0 673.6L1117.0 668.9L1114.9 663.6L1112.8 657.7L1110.8 651.2Z" fill="#3347f7"/><path d="M1110.8 616.4L1112.8 622.7L1114.9 628.4L1117.0 633.6L1119.0 638.1L1121.1 642.0L1123.2 645.3L1125.2 648.0L1127.3 650.2L1129.4 651.7L1131.4 652.6L1133.5 652.9L1135.5 652.6L1137.6 651.7L1139.7 650.2L1141.7 648.0L1143.8 645.3L1145.9 642.0L1147.9 638.1L1150.0 633.6L1152.1 628.4L1154.1 622.7L1156.2 616.4L1156.2 651.2L1154.1 657.7L1152.1 663.6L1150.0 668.9L1147.9 673.6L1145.9 677.6L1143.8 681.0L1141.7 683.8L1139.7 686.0L1137.6 687.6L1135.5 688.5L1133.5 688.8L1131.4 688.5L1129.4 687.6L1127.3 686.0L1125.2 683.8L1123.2 681.0L1121.1 677.6L1119.0 673.6L1117.0 668.9L1114.9 663.6L1112.8 657.7L1110.8 651.2Z" fill="#4b5cf8"/><path d="M1110.8 617.3L1112.8 623.7L1114.9 629.5L1117.0 634.7L1119.0 639.3L1121.1 643.2L1123.2 646.6L1125.2 649.3L1127.3 651.4L1129.4 653.0L1131.4 653.9L1133.5 654.2L1135.5 653.9L1137.6 653.0L1139.7 651.4L1141.7 649.3L1143.8 646.6L1145.9 643.2L1147.9 639.3L1150.0 634.7L1152.1 629.5L1154.1 623.7L1156.2 617.3L1156.2 651.2L1154.1 657.7L1152.1 663.6L1150.0 668.9L1147.9 673.6L1145.9 677.6L1143.8 681.0L1141.7 683.8L1139.7 686.0L1137.6 687.6L1135.5 688.5L1133.5 688.8L1131.4 688.5L1129.4 687.6L1127.3 686.0L1125.2 683.8L1123.2 681.0L1121.1 677.6L1119.0 673.6L1117.0 668.9L1114.9 663.6L1112.8 657.7L1110.8 651.2Z" fill="#6270f9"/><path d="M1110.8 618.3L1112.8 624.8L1114.9 630.6L1117.0 635.8L1119.0 640.4L1121.1 644.4L1123.2 647.8L1125.2 650.6L1127.3 652.7L1129.4 654.3L1131.4 655.2L1133.5 655.5L1135.5 655.2L1137.6 654.3L1139.7 652.7L1141.7 650.6L1143.8 647.8L1145.9 644.4L1147.9 640.4L1150.0 635.8L1152.1 630.6L1154.1 624.8L1156.2 618.3L1156.2 651.2L1154.1 657.7L1152.1 663.6L1150.0 668.9L1147.9 673.6L1145.9 677.6L1143.8 681.0L1141.7 683.8L1139.7 686.0L1137.6 687.6L1135.5 688.5L1133.5 688.8L1131.4 688.5L1129.4 687.6L1127.3 686.0L1125.2 683.8L1123.2 681.0L1121.1 677.6L1119.0 673.6L1117.0 668.9L1114.9 663.6L1112.8 657.7L1110.8 651.2Z" fill="#7a85fa"/><path d="M1110.8 619.3L1112.8 625.8L1114.9 631.7L1117.0 637.0L1119.0 641.6L1121.1 645.6L1123.2 649.1L1125.2 651.8L1127.3 654.0L1129.4 655.6L1131.4 656.5L1133.5 656.8L1135.5 656.5L1137.6 655.6L1139.7 654.0L1141.7 651.8L1143.8 649.1L1145.9 645.6L1147.9 641.6L1150.0 637.0L1152.1 631.7L1154.1 625.8L1156.2 619.3L1156.2 651.2L1154.1 657.7L1152.1 663.6L1150.0 668.9L1147.9 673.6L1145.9 677.6L1143.8 681.0L1141.7 683.8L1139.7 686.0L1137.6 687.6L1135.5 688.5L1133.5 688.8L1131.4 688.5L1129.4 687.6L1127.3 686.0L1125.2 683.8L1123.2 681.0L1121.1 677.6L1119.0 673.6L1117.0 668.9L1114.9 663.6L1112.8 657.7L1110.8 651.2Z" fill="#929bfa"/><path d="M1110.8 620.2L1112.8 626.8L1114.9 632.8L1117.0 638.1L1119.0 642.8L1121.1 646.8L1123.2 650.3L1125.2 653.1L1127.3 655.3L1129.4 656.9L1131.4 657.8L1133.5 658.1L1135.5 657.8L1137.6 656.9L1139.7 655.3L1141.7 653.1L1143.8 650.3L1145.9 646.8L1147.9 642.8L1150.0 638.1L1152.1 632.8L1154.1 626.8L1156.2 620.2L1156.2 651.2L1154.1 657.7L1152.1 663.6L1150.0 668.9L1147.9 673.6L1145.9 677.6L1143.8 681.0L1141.7 683.8L1139.7 686.0L1137.6 687.6L1135.5 688.5L1133.5 688.8L1131.4 688.5L1129.4 687.6L1127.3 686.0L1125.2 683.8L1123.2 681.0L1121.1 677.6L1119.0 673.6L1117.0 668.9L1114.9 663.6L1112.8 657.7L1110.8 651.2Z" fill="#adb3fc"/><path d="M1110.8 621.2L1112.8 627.8L1114.9 633.8L1117.0 639.2L1119.0 643.9L1121.1 648.1L1123.2 651.5L1125.2 654.4L1127.3 656.6L1129.4 658.2L1131.4 659.1L1133.5 659.4L1135.5 659.1L1137.6 658.2L1139.7 656.6L1141.7 654.4L1143.8 651.5L1145.9 648.1L1147.9 643.9L1150.0 639.2L1152.1 633.8L1154.1 627.8L1156.2 621.2L1156.2 651.2L1154.1 657.7L1152.1 663.6L1150.0 668.9L1147.9 673.6L1145.9 677.6L1143.8 681.0L1141.7 683.8L1139.7 686.0L1137.6 687.6L1135.5 688.5L1133.5 688.8L1131.4 688.5L1129.4 687.6L1127.3 686.0L1125.2 683.8L1123.2 681.0L1121.1 677.6L1119.0 673.6L1117.0 668.9L1114.9 663.6L1112.8 657.7L1110.8 651.2Z" fill="#c7cbfd"/><path d="M1110.8 622.2L1112.8 628.9L1114.9 634.9L1117.0 640.3L1119.0 645.1L1121.1 649.3L1123.2 652.8L1125.2 655.6L1127.3 657.9L1129.4 659.5L1131.4 660.4L1133.5 660.7L1135.5 660.4L1137.6 659.5L1139.7 657.9L1141.7 655.6L1143.8 652.8L1145.9 649.3L1147.9 645.1L1150.0 640.3L1152.1 634.9L1154.1 628.9L1156.2 622.2L1156.2 651.2L1154.1 657.7L1152.1 663.6L1150.0 668.9L1147.9 673.6L1145.9 677.6L1143.8 681.0L1141.7 683.8L1139.7 686.0L1137.6 687.6L1135.5 688.5L1133.5 688.8L1131.4 688.5L1129.4 687.6L1127.3 686.0L1125.2 683.8L1123.2 681.0L1121.1 677.6L1119.0 673.6L1117.0 668.9L1114.9 663.6L1112.8 657.7L1110.8 651.2Z" fill="#e1e4fe"/><path d="M1110.8 623.1L1112.8 629.9L1114.9 636.0L1117.0 641.5L1119.0 646.3L1121.1 650.5L1123.2 654.0L1125.2 656.9L1127.3 659.2L1129.4 660.8L1131.4 661.7L1133.5 662.1L1135.5 661.7L1137.6 660.8L1139.7 659.2L1141.7 656.9L1143.8 654.0L1145.9 650.5L1147.9 646.3L1150.0 641.5L1152.1 636.0L1154.1 629.9L1156.2 623.1L1156.2 651.2L1154.1 657.7L1152.1 663.6L1150.0 668.9L1147.9 673.6L1145.9 677.6L1143.8 681.0L1141.7 683.8L1139.7 686.0L1137.6 687.6L1135.5 688.5L1133.5 688.8L1131.4 688.5L1129.4 687.6L1127.3 686.0L1125.2 683.8L1123.2 681.0L1121.1 677.6L1119.0 673.6L1117.0 668.9L1114.9 663.6L1112.8 657.7L1110.8 651.2Z" fill="#fbfcff"/><path d="M1110.8 624.3L1112.8 631.1L1114.9 637.3L1117.0 642.8L1119.0 647.7L1121.1 651.9L1123.2 655.5L1125.2 658.4L1127.3 660.7L1129.4 662.3L1131.4 663.3L1133.5 663.6L1135.5 663.3L1137.6 662.3L1139.7 660.7L1141.7 658.4L1143.8 655.5L1145.9 651.9L1147.9 647.7L1150.0 642.8L1152.1 637.3L1154.1 631.1L1156.2 624.3L1156.2 651.2L1154.1 657.7L1152.1 663.6L1150.0 668.9L1147.9 673.6L1145.9 677.6L1143.8 681.0L1141.7 683.8L1139.7 686.0L1137.6 687.6L1135.5 688.5L1133.5 688.8L1131.4 688.5L1129.4 687.6L1127.3 686.0L1125.2 683.8L1123.2 681.0L1121.1 677.6L1119.0 673.6L1117.0 668.9L1114.9 663.6L1112.8 657.7L1110.8 651.2Z" fill="#ffe7ec"/><path d="M1110.8 625.7L1112.8 632.6L1114.9 638.9L1117.0 644.5L1119.0 649.4L1121.1 653.7L1123.2 657.3L1125.2 660.3L1127.3 662.6L1129.4 664.3L1131.4 665.2L1133.5 665.6L1135.5 665.2L1137.6 664.3L1139.7 662.6L1141.7 660.3L1143.8 657.3L1145.9 653.7L1147.9 649.4L1150.0 644.5L1152.1 638.9L1154.1 632.6L1156.2 625.7L1156.2 651.2L1154.1 657.7L1152.1 663.6L1150.0 668.9L1147.9 673.6L1145.9 677.6L1143.8 681.0L1141.7 683.8L1139.7 686.0L1137.6 687.6L1135.5 688.5L1133.5 688.8L1131.4 688.5L1129.4 687.6L1127.3 686.0L1125.2 683.8L1123.2 681.0L1121.1 677.6L1119.0 673.6L1117.0 668.9L1114.9 663.6L1112.8 657.7L1110.8 651.2Z" fill="#ffcbd5"/><path d="M1110.8 627.2L1112.8 634.2L1114.9 640.5L1117.0 646.2L1119.0 651.2L1121.1 655.5L1123.2 659.2L1125.2 662.2L1127.3 664.5L1129.4 666.2L1131.4 667.2L1133.5 667.5L1135.5 667.2L1137.6 666.2L1139.7 664.5L1141.7 662.2L1143.8 659.2L1145.9 655.5L1147.9 651.2L1150.0 646.2L1152.1 640.5L1154.1 634.2L1156.2 627.2L1156.2 651.2L1154.1 657.7L1152.1 663.6L1150.0 668.9L1147.9 673.6L1145.9 677.6L1143.8 681.0L1141.7 683.8L1139.7 686.0L1137.6 687.6L1135.5 688.5L1133.5 688.8L1131.4 688.5L1129.4 687.6L1127.3 686.0L1125.2 683.8L1123.2 681.0L1121.1 677.6L1119.0 673.6L1117.0 668.9L1114.9 663.6L1112.8 657.7L1110.8 651.2Z" fill="#ffb0bf"/><path d="M1110.8 628.6L1112.8 635.7L1114.9 642.1L1117.0 647.9L1119.0 652.9L1121.1 657.3L1123.2 661.1L1125.2 664.1L1127.3 666.5L1129.4 668.2L1131.4 669.2L1133.5 669.5L1135.5 669.2L1137.6 668.2L1139.7 666.5L1141.7 664.1L1143.8 661.1L1145.9 657.3L1147.9 652.9L1150.0 647.9L1152.1 642.1L1154.1 635.7L1156.2 628.6L1156.2 651.2L1154.1 657.7L1152.1 663.6L1150.0 668.9L1147.9 673.6L1145.9 677.6L1143.8 681.0L1141.7 683.8L1139.7 686.0L1137.6 687.6L1135.5 688.5L1133.5 688.8L1131.4 688.5L1129.4 687.6L1127.3 686.0L1125.2 683.8L1123.2 681.0L1121.1 677.6L1119.0 673.6L1117.0 668.9L1114.9 663.6L1112.8 657.7L1110.8 651.2Z" fill="#ff94a8"/><path d="M1110.8 630.0L1112.8 637.2L1114.9 643.7L1117.0 649.6L1119.0 654.7L1121.1 659.2L1123.2 662.9L1125.2 666.0L1127.3 668.4L1129.4 670.1L1131.4 671.1L1133.5 671.5L1135.5 671.1L1137.6 670.1L1139.7 668.4L1141.7 666.0L1143.8 662.9L1145.9 659.2L1147.9 654.7L1150.0 649.6L1152.1 643.7L1154.1 637.2L1156.2 630.0L1156.2 651.2L1154.1 657.7L1152.1 663.6L1150.0 668.9L1147.9 673.6L1145.9 677.6L1143.8 681.0L1141.7 683.8L1139.7 686.0L1137.6 687.6L1135.5 688.5L1133.5 688.8L1131.4 688.5L1129.4 687.6L1127.3 686.0L1125.2 683.8L1123.2 681.0L1121.1 677.6L1119.0 673.6L1117.0 668.9L1114.9 663.6L1112.8 657.7L1110.8 651.2Z" fill="#ff778f"/><path d="M1110.8 632.5L1112.8 639.9L1114.9 646.5L1117.0 652.5L1119.0 657.7L1121.1 662.3L1123.2 666.1L1125.2 669.3L1127.3 671.7L1129.4 673.5L1131.4 674.5L1133.5 674.9L1135.5 674.5L1137.6 673.5L1139.7 671.7L1141.7 669.3L1143.8 666.1L1145.9 662.3L1147.9 657.7L1150.0 652.5L1152.1 646.5L1154.1 639.9L1156.2 632.5L1156.2 651.2L1154.1 657.7L1152.1 663.6L1150.0 668.9L1147.9 673.6L1145.9 677.6L1143.8 681.0L1141.7 683.8L1139.7 686.0L1137.6 687.6L1135.5 688.5L1133.5 688.8L1131.4 688.5L1129.4 687.6L1127.3 686.0L1125.2 683.8L1123.2 681.0L1121.1 677.6L1119.0 673.6L1117.0 668.9L1114.9 663.6L1112.8 657.7L1110.8 651.2Z" fill="#ff5771"/><path d="M1110.8 635.3L1112.8 642.9L1114.9 649.7L1117.0 655.8L1119.0 661.1L1121.1 665.8L1123.2 669.7L1125.2 672.9L1127.3 675.5L1129.4 677.2L1131.4 678.3L1133.5 678.7L1135.5 678.3L1137.6 677.2L1139.7 675.5L1141.7 672.9L1143.8 669.7L1145.9 665.8L1147.9 661.1L1150.0 655.8L1152.1 649.7L1154.1 642.9L1156.2 635.3L1156.2 651.2L1154.1 657.7L1152.1 663.6L1150.0 668.9L1147.9 673.6L1145.9 677.6L1143.8 681.0L1141.7 683.8L1139.7 686.0L1137.6 687.6L1135.5 688.5L1133.5 688.8L1131.4 688.5L1129.4 687.6L1127.3 686.0L1125.2 683.8L1123.2 681.0L1121.1 677.6L1119.0 673.6L1117.0 668.9L1114.9 663.6L1112.8 657.7L1110.8 651.2Z" fill="#ff3654"/><path d="M1110.8 639.0L1112.8 646.7L1114.9 653.7L1117.0 660.0L1119.0 665.5L1121.1 670.3L1123.2 674.4L1125.2 677.7L1127.3 680.3L1129.4 682.1L1131.4 683.2L1133.5 683.6L1135.5 683.2L1137.6 682.1L1139.7 680.3L1141.7 677.7L1143.8 674.4L1145.9 670.3L1147.9 665.5L1150.0 660.0L1152.1 653.7L1154.1 646.7L1156.2 639.0L1156.2 651.2L1154.1 657.7L1152.1 663.6L1150.0 668.9L1147.9 673.6L1145.9 677.6L1143.8 681.0L1141.7 683.8L1139.7 686.0L1137.6 687.6L1135.5 688.5L1133.5 688.8L1131.4 688.5L1129.4 687.6L1127.3 686.0L1125.2 683.8L1123.2 681.0L1121.1 677.6L1119.0 673.6L1117.0 668.9L1114.9 663.6L1112.8 657.7L1110.8 651.2Z" fill="#ff1c31"/></g></g>
<rect x="1160.34" y="580.4" width="45.8" height="195.8" fill="#2c24a6"/>
<rect x="1163.54" y="580.4" width="39.4" height="195.8" fill="#1c32f6"/>
<rect x="1160.34" y="651.9" width="4.2" height="50.6" fill="#f5b48e"/>
<rect x="1201.94" y="651.9" width="4.2" height="50.6" fill="#a8d2f2"/>
<rect x="1164.54" y="651.9" width="37.4" height="50.6" fill="#1c32f6"/>
<g clip-path="url(#c16)"><g filter="url(#bl)"><path d="M1160.5 618.3L1205.9 618.3L1205.9 655.9L1160.5 655.9Z" fill="#3548f7"/><path d="M1160.5 623.1L1205.9 623.1L1205.9 655.9L1160.5 655.9Z" fill="#4e5ff8"/><path d="M1160.5 627.9L1205.9 627.9L1205.9 655.9L1160.5 655.9Z" fill="#6775f9"/><path d="M1160.5 632.7L1205.9 632.7L1205.9 655.9L1160.5 655.9Z" fill="#818bfa"/><path d="M1160.5 637.1L1205.9 637.1L1205.9 655.9L1160.5 655.9Z" fill="#9ca4fb"/><path d="M1160.5 641.3L1205.9 641.3L1205.9 655.9L1160.5 655.9Z" fill="#b8befc"/><path d="M1160.5 645.6L1205.9 645.6L1205.9 655.9L1160.5 655.9Z" fill="#d4d8fd"/><path d="M1160.5 649.8L1205.9 649.8L1205.9 655.9L1160.5 655.9Z" fill="#f1f2fe"/></g></g>
<line x1="965.3" y1="705.3" x2="1003.1" y2="705.3" stroke="#6070ff" stroke-width="2" stroke-opacity="0.8"/>
<path d="M1015.5 705.5L1017.0 711.3L1018.5 716.5L1020.1 721.3L1021.6 725.6L1023.2 729.3L1024.7 732.6L1026.3 735.3L1027.8 737.6L1029.3 739.3L1030.9 740.6L1032.4 741.3L1034.0 741.6L1035.5 741.3L1037.0 740.6L1038.6 739.3L1040.1 737.6L1041.7 735.3L1043.2 732.6L1044.8 729.3L1046.3 725.6L1047.8 721.3L1049.4 716.5L1050.9 711.3L1052.5 705.5" fill="none" stroke="#6070ff" stroke-width="1.8" stroke-opacity="0.8"/>
<rect x="716.2" y="8.2" width="244.4" height="46" fill="#fff" stroke="#111" stroke-width="3.8" stroke-linejoin="round"/>
<rect x="716.2" y="54.2" width="47.7" height="54.6" fill="#fff" stroke="#111" stroke-width="3.8" stroke-linejoin="round"/>
<rect x="763.9" y="54.2" width="49.8" height="54.6" fill="#fff" stroke="#111" stroke-width="3.8" stroke-linejoin="round"/>
<rect x="813.7" y="54.2" width="48.7" height="54.6" fill="#fff" stroke="#111" stroke-width="3.8" stroke-linejoin="round"/>
<rect x="862.4" y="54.2" width="49.8" height="54.6" fill="#fff" stroke="#111" stroke-width="3.8" stroke-linejoin="round"/>
<rect x="912.2" y="54.2" width="48.4" height="54.6" fill="#fff" stroke="#111" stroke-width="3.8" stroke-linejoin="round"/>
<rect x="960.6" y="8.2" width="244.3" height="46" fill="none" stroke="#ff1010" stroke-width="3.3" stroke-linejoin="round"/>
<rect x="960.6" y="54.2" width="49.3" height="54.6" fill="none" stroke="#ff1010" stroke-width="3.3" stroke-linejoin="round"/>
<rect x="1009.9" y="54.2" width="48.8" height="54.6" fill="none" stroke="#ff1010" stroke-width="3.3" stroke-linejoin="round"/>
<rect x="1058.7" y="54.2" width="48.7" height="54.6" fill="none" stroke="#ff1010" stroke-width="3.3" stroke-linejoin="round"/>
<rect x="1107.4" y="54.2" width="49.8" height="54.6" fill="none" stroke="#ff1010" stroke-width="3.3" stroke-linejoin="round"/>
<rect x="1157.2" y="54.2" width="47.7" height="54.6" fill="none" stroke="#ff1010" stroke-width="3.3" stroke-linejoin="round"/>
<text transform="translate(787.97 43.94) scale(1.04 1)" font-size="32.19" fill="#111" >charge</text>
<text transform="translate(1011.57 43.94) scale(1.03 1)" font-size="32.19" fill="#111" >discharge</text>
<text transform="translate(724.85 94.4) scale(0.87 1)" font-size="35.22" fill="#111" >E1</text>
<text transform="translate(771.46 94.06) scale(1 1)" font-size="34.23" fill="#111" >S2</text>
<text transform="translate(820.04 94.4) scale(0.99 1)" font-size="34.71" fill="#111" >E2</text>
<text transform="translate(865.97 94.06) scale(0.99 1)" font-size="34.23" fill="#111" >S3</text>
<text transform="translate(916.64 94.06) scale(0.97 1)" font-size="34.23" fill="#111" >E3</text>
<text transform="translate(965.85 94.4) scale(0.87 1)" font-size="35.22" fill="#111" >E1</text>
<text transform="translate(1013.5 94.06) scale(0.98 1)" font-size="34.23" fill="#111" >S2</text>
<text transform="translate(1064.11 94.4) scale(0.97 1)" font-size="34.71" fill="#111" >E2</text>
<text transform="translate(1111.97 94.06) scale(0.99 1)" font-size="34.23" fill="#111" >S3</text>
<text transform="translate(1161.64 94.06) scale(0.97 1)" font-size="34.23" fill="#111" >E3</text>
<rect x="785.2" y="832.1" width="361.8" height="23" fill="url(#cb)" stroke="#111" stroke-width="3"/>
<text transform="translate(844.19 819.63) scale(1.05 1)" font-size="35.08" fill="#111" >state-of-charge</text>
<text transform="translate(711.22 855.14) scale(1.03 1)" font-size="36.06" fill="#111" >0 %</text>
<text transform="translate(1160.53 855.14) scale(1.02 1)" font-size="36.06" fill="#111" >100 %</text>
<defs><filter id="bl" x="-10%" y="-10%" width="120%" height="120%"><feGaussianBlur stdDeviation="0.8"/></filter><clipPath id="c1"><rect x="815.22" y="347.7" width="39.4" height="72.9"/></clipPath><clipPath id="c2"><rect x="864.98" y="347.7" width="39.4" height="72.9"/></clipPath><clipPath id="c3"><rect x="914.74" y="347.7" width="39.4" height="72.9"/></clipPath><clipPath id="c4"><rect x="964.5" y="347.7" width="39.4" height="72.9"/></clipPath><clipPath id="c5"><rect x="1014.26" y="347.7" width="39.4" height="500"/></clipPath><clipPath id="c6"><rect x="1064.02" y="347.7" width="39.4" height="72.9"/></clipPath><clipPath id="c7"><rect x="1113.78" y="347.7" width="39.4" height="500"/></clipPath><clipPath id="c8"><rect x="1163.54" y="347.7" width="39.4" height="72.9"/></clipPath><clipPath id="c9"><rect x="815.22" y="580.4" width="39.4" height="71.5"/></clipPath><clipPath id="c10"><rect x="864.98" y="580.4" width="39.4" height="71.5"/></clipPath><clipPath id="c11"><rect x="914.74" y="580.4" width="39.4" height="71.5"/></clipPath><clipPath id="c12"><rect x="964.5" y="580.4" width="39.4" height="71.5"/></clipPath><clipPath id="c13"><rect x="1014.26" y="580.4" width="39.4" height="500"/></clipPath><clipPath id="c14"><rect x="1064.02" y="580.4" width="39.4" height="71.5"/></clipPath><clipPath id="c15"><rect x="1113.78" y="580.4" width="39.4" height="500"/></clipPath><clipPath id="c16"><rect x="1163.54" y="580.4" width="39.4" height="71.5"/></clipPath><linearGradient id="cb" x1="0" y1="0" x2="1" y2="0"><stop offset="0" stop-color="#1c32f6"/><stop offset="0.1" stop-color="#4758f8"/><stop offset="0.25" stop-color="#8791fa"/><stop offset="0.4" stop-color="#cfd3fd"/><stop offset="0.5" stop-color="#ffffff"/><stop offset="0.6" stop-color="#ffccd6"/><stop offset="0.75" stop-color="#ff8098"/><stop offset="0.9" stop-color="#ff2846"/><stop offset="1" stop-color="#ff0000"/></linearGradient></defs>
</svg></body></html>
